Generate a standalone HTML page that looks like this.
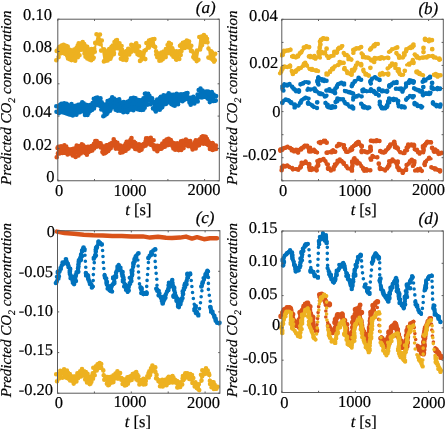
<!DOCTYPE html><html><head><meta charset="utf-8"><style>html,body{margin:0;padding:0;background:#fff;overflow:hidden}svg{display:block;will-change:transform}text{font-family:"Liberation Serif",serif;fill:#000;stroke:#000;stroke-width:0.2px;text-rendering:geometricPrecision}</style></head><body>
<svg width="445" height="429" viewBox="0 0 445 429">
<path d="M57.0,50.2 L58.6,48.6 L60.2,47.0 L61.8,45.4 L63.4,43.8 L65.0,44.4 L66.6,45.7 L68.2,47.5 L69.8,49.7 L71.4,51.4 L73.0,50.9 L74.6,50.4 L76.2,48.4 L77.8,45.5 L79.4,43.9 L81.0,43.6 L82.6,43.6 L84.2,44.2 L85.8,44.7 L87.4,46.8 L89.0,49.1 L90.6,51.4 L92.2,50.0 L93.8,48.5 L95.4,41.4 L97.0,34.1 L98.6,35.2 L100.2,36.3 L101.8,41.4 L103.4,49.0 L105.0,50.7 L106.6,52.1 L108.2,51.9 L109.8,49.2 L111.4,46.4 L113.0,44.4 L114.6,42.5 L116.2,40.7 L117.8,39.1 L119.4,42.3 L121.0,46.2 L122.6,49.6 L124.2,51.6 L125.8,51.6 L127.4,51.6 L129.0,49.0 L130.6,46.7 L132.2,45.9 L133.8,45.1 L135.4,44.7 L137.0,44.3 L138.6,46.9 L140.2,51.3 L141.8,51.9 L143.4,52.1 L145.0,49.9 L146.6,43.5 L148.2,41.1 L149.8,40.4 L151.4,40.0 L153.0,39.8 L154.6,40.1 L156.2,50.4 L157.8,52.8 L159.4,53.5 L161.0,53.3 L162.6,52.8 L164.2,51.8 L165.8,48.9 L167.4,46.0 L169.0,43.8 L170.6,42.7 L172.2,46.7 L173.8,50.8 L175.4,52.0 L177.0,51.5 L178.6,50.8 L180.2,48.1 L181.8,45.4 L183.4,43.5 L185.0,42.1 L186.6,40.8 L188.2,41.1 L189.8,41.4 L191.4,44.5 L193.0,50.5 L194.6,52.3 L196.2,53.1 L197.8,50.5 L199.4,37.5 L201.0,36.8 L202.6,36.1 L204.2,35.6 L205.8,36.5 L207.4,37.4 L209.0,50.5 L210.6,52.1 L212.2,53.6 L213.8,54.2 L215.4,53.9 L215.4,60.5 L213.8,60.5 L212.2,60.0 L210.6,59.0 L209.0,57.9 L207.4,42.3 L205.8,42.7 L204.2,43.0 L202.6,45.4 L201.0,47.9 L199.4,50.4 L197.8,59.5 L196.2,60.6 L194.6,59.1 L193.0,56.6 L191.4,50.2 L189.8,47.0 L188.2,47.0 L186.6,47.0 L185.0,48.1 L183.4,49.1 L181.8,51.3 L180.2,55.1 L178.6,58.9 L177.0,58.6 L175.4,58.1 L173.8,56.8 L172.2,54.1 L170.6,51.4 L169.0,51.9 L167.4,53.2 L165.8,55.3 L164.2,57.4 L162.6,58.9 L161.0,60.3 L159.4,60.3 L157.8,57.4 L156.2,53.9 L154.6,47.4 L153.0,46.3 L151.4,45.5 L149.8,45.5 L148.2,46.8 L146.6,49.9 L145.0,57.1 L143.4,59.6 L141.8,59.4 L140.2,58.9 L138.6,55.3 L137.0,52.7 L135.4,51.8 L133.8,51.3 L132.2,51.8 L130.6,52.3 L129.0,55.1 L127.4,58.5 L125.8,58.8 L124.2,59.0 L122.6,58.8 L121.0,58.1 L119.4,54.3 L117.8,48.0 L116.2,49.6 L114.6,53.0 L113.0,55.3 L111.4,57.2 L109.8,58.8 L108.2,60.5 L106.6,60.9 L105.0,60.7 L103.4,59.8 L101.8,49.8 L100.2,43.5 L98.6,43.5 L97.0,43.5 L95.4,50.5 L93.8,57.4 L92.2,59.3 L90.6,61.0 L89.0,59.6 L87.4,58.2 L85.8,56.6 L84.2,53.4 L82.6,50.1 L81.0,50.9 L79.4,54.1 L77.8,56.8 L76.2,59.0 L74.6,60.4 L73.0,60.4 L71.4,60.4 L69.8,59.2 L68.2,57.9 L66.6,56.3 L65.0,54.0 L63.4,52.4 L61.8,52.7 L60.2,53.5 L58.6,57.3 L57.0,61.1Z" fill="#EDB120"/><path d="M54.4,50.9a2.3,2.3 0 1,0 4.6,0a2.3,2.3 0 1,0 -4.6,0M54.0,60.2a2.3,2.3 0 1,0 4.6,0a2.3,2.3 0 1,0 -4.6,0M56.4,48.4a2.3,2.3 0 1,0 4.6,0a2.3,2.3 0 1,0 -4.6,0M56.3,57.1a2.3,2.3 0 1,0 4.6,0a2.3,2.3 0 1,0 -4.6,0M57.2,46.7a2.3,2.3 0 1,0 4.6,0a2.3,2.3 0 1,0 -4.6,0M57.2,53.4a2.3,2.3 0 1,0 4.6,0a2.3,2.3 0 1,0 -4.6,0M59.4,45.6a2.3,2.3 0 1,0 4.6,0a2.3,2.3 0 1,0 -4.6,0M59.1,53.1a2.3,2.3 0 1,0 4.6,0a2.3,2.3 0 1,0 -4.6,0M61.3,44.8a2.3,2.3 0 1,0 4.6,0a2.3,2.3 0 1,0 -4.6,0M60.9,52.7a2.3,2.3 0 1,0 4.6,0a2.3,2.3 0 1,0 -4.6,0M63.5,45.9a2.3,2.3 0 1,0 4.6,0a2.3,2.3 0 1,0 -4.6,0M62.4,53.6a2.3,2.3 0 1,0 4.6,0a2.3,2.3 0 1,0 -4.6,0M63.7,46.2a2.3,2.3 0 1,0 4.6,0a2.3,2.3 0 1,0 -4.6,0M64.8,55.8a2.3,2.3 0 1,0 4.6,0a2.3,2.3 0 1,0 -4.6,0M65.4,46.6a2.3,2.3 0 1,0 4.6,0a2.3,2.3 0 1,0 -4.6,0M65.7,58.5a2.3,2.3 0 1,0 4.6,0a2.3,2.3 0 1,0 -4.6,0M67.6,49.9a2.3,2.3 0 1,0 4.6,0a2.3,2.3 0 1,0 -4.6,0M67.0,59.1a2.3,2.3 0 1,0 4.6,0a2.3,2.3 0 1,0 -4.6,0M69.4,50.8a2.3,2.3 0 1,0 4.6,0a2.3,2.3 0 1,0 -4.6,0M69.2,60.1a2.3,2.3 0 1,0 4.6,0a2.3,2.3 0 1,0 -4.6,0M70.6,50.5a2.3,2.3 0 1,0 4.6,0a2.3,2.3 0 1,0 -4.6,0M71.0,59.0a2.3,2.3 0 1,0 4.6,0a2.3,2.3 0 1,0 -4.6,0M71.9,49.5a2.3,2.3 0 1,0 4.6,0a2.3,2.3 0 1,0 -4.6,0M72.9,60.8a2.3,2.3 0 1,0 4.6,0a2.3,2.3 0 1,0 -4.6,0M74.3,47.9a2.3,2.3 0 1,0 4.6,0a2.3,2.3 0 1,0 -4.6,0M73.3,56.8a2.3,2.3 0 1,0 4.6,0a2.3,2.3 0 1,0 -4.6,0M75.4,45.6a2.3,2.3 0 1,0 4.6,0a2.3,2.3 0 1,0 -4.6,0M75.5,57.3a2.3,2.3 0 1,0 4.6,0a2.3,2.3 0 1,0 -4.6,0M76.4,43.3a2.3,2.3 0 1,0 4.6,0a2.3,2.3 0 1,0 -4.6,0M77.2,55.3a2.3,2.3 0 1,0 4.6,0a2.3,2.3 0 1,0 -4.6,0M79.3,43.1a2.3,2.3 0 1,0 4.6,0a2.3,2.3 0 1,0 -4.6,0M78.9,49.8a2.3,2.3 0 1,0 4.6,0a2.3,2.3 0 1,0 -4.6,0M80.4,42.1a2.3,2.3 0 1,0 4.6,0a2.3,2.3 0 1,0 -4.6,0M81.0,49.7a2.3,2.3 0 1,0 4.6,0a2.3,2.3 0 1,0 -4.6,0M81.9,44.0a2.3,2.3 0 1,0 4.6,0a2.3,2.3 0 1,0 -4.6,0M82.2,53.6a2.3,2.3 0 1,0 4.6,0a2.3,2.3 0 1,0 -4.6,0M83.7,46.2a2.3,2.3 0 1,0 4.6,0a2.3,2.3 0 1,0 -4.6,0M83.2,56.7a2.3,2.3 0 1,0 4.6,0a2.3,2.3 0 1,0 -4.6,0M84.9,46.7a2.3,2.3 0 1,0 4.6,0a2.3,2.3 0 1,0 -4.6,0M85.0,58.4a2.3,2.3 0 1,0 4.6,0a2.3,2.3 0 1,0 -4.6,0M86.2,49.3a2.3,2.3 0 1,0 4.6,0a2.3,2.3 0 1,0 -4.6,0M87.1,59.4a2.3,2.3 0 1,0 4.6,0a2.3,2.3 0 1,0 -4.6,0M87.7,51.4a2.3,2.3 0 1,0 4.6,0a2.3,2.3 0 1,0 -4.6,0M88.9,60.2a2.3,2.3 0 1,0 4.6,0a2.3,2.3 0 1,0 -4.6,0M89.2,49.1a2.3,2.3 0 1,0 4.6,0a2.3,2.3 0 1,0 -4.6,0M90.5,59.0a2.3,2.3 0 1,0 4.6,0a2.3,2.3 0 1,0 -4.6,0M92.0,48.9a2.3,2.3 0 1,0 4.6,0a2.3,2.3 0 1,0 -4.6,0M91.4,57.8a2.3,2.3 0 1,0 4.6,0a2.3,2.3 0 1,0 -4.6,0M92.9,42.9a2.3,2.3 0 1,0 4.6,0a2.3,2.3 0 1,0 -4.6,0M92.5,51.8a2.3,2.3 0 1,0 4.6,0a2.3,2.3 0 1,0 -4.6,0M94.2,34.2a2.3,2.3 0 1,0 4.6,0a2.3,2.3 0 1,0 -4.6,0M94.7,42.9a2.3,2.3 0 1,0 4.6,0a2.3,2.3 0 1,0 -4.6,0M96.4,35.2a2.3,2.3 0 1,0 4.6,0a2.3,2.3 0 1,0 -4.6,0M96.2,43.4a2.3,2.3 0 1,0 4.6,0a2.3,2.3 0 1,0 -4.6,0M97.7,34.5a2.3,2.3 0 1,0 4.6,0a2.3,2.3 0 1,0 -4.6,0M98.2,44.3a2.3,2.3 0 1,0 4.6,0a2.3,2.3 0 1,0 -4.6,0M99.5,40.6a2.3,2.3 0 1,0 4.6,0a2.3,2.3 0 1,0 -4.6,0M98.8,50.6a2.3,2.3 0 1,0 4.6,0a2.3,2.3 0 1,0 -4.6,0M101.7,49.3a2.3,2.3 0 1,0 4.6,0a2.3,2.3 0 1,0 -4.6,0M101.6,61.4a2.3,2.3 0 1,0 4.6,0a2.3,2.3 0 1,0 -4.6,0M102.5,50.4a2.3,2.3 0 1,0 4.6,0a2.3,2.3 0 1,0 -4.6,0M102.9,60.4a2.3,2.3 0 1,0 4.6,0a2.3,2.3 0 1,0 -4.6,0M103.6,52.6a2.3,2.3 0 1,0 4.6,0a2.3,2.3 0 1,0 -4.6,0M103.8,60.7a2.3,2.3 0 1,0 4.6,0a2.3,2.3 0 1,0 -4.6,0M105.6,51.9a2.3,2.3 0 1,0 4.6,0a2.3,2.3 0 1,0 -4.6,0M105.3,60.5a2.3,2.3 0 1,0 4.6,0a2.3,2.3 0 1,0 -4.6,0M106.9,49.0a2.3,2.3 0 1,0 4.6,0a2.3,2.3 0 1,0 -4.6,0M108.1,58.7a2.3,2.3 0 1,0 4.6,0a2.3,2.3 0 1,0 -4.6,0M109.3,46.8a2.3,2.3 0 1,0 4.6,0a2.3,2.3 0 1,0 -4.6,0M108.9,56.7a2.3,2.3 0 1,0 4.6,0a2.3,2.3 0 1,0 -4.6,0M110.5,45.5a2.3,2.3 0 1,0 4.6,0a2.3,2.3 0 1,0 -4.6,0M111.5,54.2a2.3,2.3 0 1,0 4.6,0a2.3,2.3 0 1,0 -4.6,0M112.2,42.1a2.3,2.3 0 1,0 4.6,0a2.3,2.3 0 1,0 -4.6,0M111.7,53.0a2.3,2.3 0 1,0 4.6,0a2.3,2.3 0 1,0 -4.6,0M113.6,40.6a2.3,2.3 0 1,0 4.6,0a2.3,2.3 0 1,0 -4.6,0M113.4,48.1a2.3,2.3 0 1,0 4.6,0a2.3,2.3 0 1,0 -4.6,0M114.7,40.0a2.3,2.3 0 1,0 4.6,0a2.3,2.3 0 1,0 -4.6,0M114.9,48.3a2.3,2.3 0 1,0 4.6,0a2.3,2.3 0 1,0 -4.6,0M117.2,43.3a2.3,2.3 0 1,0 4.6,0a2.3,2.3 0 1,0 -4.6,0M117.9,54.1a2.3,2.3 0 1,0 4.6,0a2.3,2.3 0 1,0 -4.6,0M119.3,46.0a2.3,2.3 0 1,0 4.6,0a2.3,2.3 0 1,0 -4.6,0M118.5,58.7a2.3,2.3 0 1,0 4.6,0a2.3,2.3 0 1,0 -4.6,0M119.8,49.8a2.3,2.3 0 1,0 4.6,0a2.3,2.3 0 1,0 -4.6,0M120.7,59.7a2.3,2.3 0 1,0 4.6,0a2.3,2.3 0 1,0 -4.6,0M121.6,51.8a2.3,2.3 0 1,0 4.6,0a2.3,2.3 0 1,0 -4.6,0M122.7,57.6a2.3,2.3 0 1,0 4.6,0a2.3,2.3 0 1,0 -4.6,0M124.1,52.1a2.3,2.3 0 1,0 4.6,0a2.3,2.3 0 1,0 -4.6,0M123.9,60.1a2.3,2.3 0 1,0 4.6,0a2.3,2.3 0 1,0 -4.6,0M124.7,50.9a2.3,2.3 0 1,0 4.6,0a2.3,2.3 0 1,0 -4.6,0M124.3,58.6a2.3,2.3 0 1,0 4.6,0a2.3,2.3 0 1,0 -4.6,0M125.9,48.9a2.3,2.3 0 1,0 4.6,0a2.3,2.3 0 1,0 -4.6,0M127.0,54.5a2.3,2.3 0 1,0 4.6,0a2.3,2.3 0 1,0 -4.6,0M129.0,44.9a2.3,2.3 0 1,0 4.6,0a2.3,2.3 0 1,0 -4.6,0M129.1,51.7a2.3,2.3 0 1,0 4.6,0a2.3,2.3 0 1,0 -4.6,0M130.6,45.6a2.3,2.3 0 1,0 4.6,0a2.3,2.3 0 1,0 -4.6,0M129.5,51.3a2.3,2.3 0 1,0 4.6,0a2.3,2.3 0 1,0 -4.6,0M131.0,45.5a2.3,2.3 0 1,0 4.6,0a2.3,2.3 0 1,0 -4.6,0M132.1,50.2a2.3,2.3 0 1,0 4.6,0a2.3,2.3 0 1,0 -4.6,0M133.6,43.5a2.3,2.3 0 1,0 4.6,0a2.3,2.3 0 1,0 -4.6,0M133.6,51.6a2.3,2.3 0 1,0 4.6,0a2.3,2.3 0 1,0 -4.6,0M134.0,43.4a2.3,2.3 0 1,0 4.6,0a2.3,2.3 0 1,0 -4.6,0M135.2,54.2a2.3,2.3 0 1,0 4.6,0a2.3,2.3 0 1,0 -4.6,0M136.7,46.4a2.3,2.3 0 1,0 4.6,0a2.3,2.3 0 1,0 -4.6,0M136.8,55.3a2.3,2.3 0 1,0 4.6,0a2.3,2.3 0 1,0 -4.6,0M137.6,52.0a2.3,2.3 0 1,0 4.6,0a2.3,2.3 0 1,0 -4.6,0M137.7,60.9a2.3,2.3 0 1,0 4.6,0a2.3,2.3 0 1,0 -4.6,0M139.3,53.1a2.3,2.3 0 1,0 4.6,0a2.3,2.3 0 1,0 -4.6,0M139.0,59.8a2.3,2.3 0 1,0 4.6,0a2.3,2.3 0 1,0 -4.6,0M140.5,53.1a2.3,2.3 0 1,0 4.6,0a2.3,2.3 0 1,0 -4.6,0M141.6,58.2a2.3,2.3 0 1,0 4.6,0a2.3,2.3 0 1,0 -4.6,0M142.1,50.9a2.3,2.3 0 1,0 4.6,0a2.3,2.3 0 1,0 -4.6,0M143.0,59.1a2.3,2.3 0 1,0 4.6,0a2.3,2.3 0 1,0 -4.6,0M144.1,43.1a2.3,2.3 0 1,0 4.6,0a2.3,2.3 0 1,0 -4.6,0M143.5,50.1a2.3,2.3 0 1,0 4.6,0a2.3,2.3 0 1,0 -4.6,0M146.7,40.5a2.3,2.3 0 1,0 4.6,0a2.3,2.3 0 1,0 -4.6,0M146.6,47.6a2.3,2.3 0 1,0 4.6,0a2.3,2.3 0 1,0 -4.6,0M147.4,41.5a2.3,2.3 0 1,0 4.6,0a2.3,2.3 0 1,0 -4.6,0M147.0,46.6a2.3,2.3 0 1,0 4.6,0a2.3,2.3 0 1,0 -4.6,0M148.7,39.9a2.3,2.3 0 1,0 4.6,0a2.3,2.3 0 1,0 -4.6,0M149.2,44.9a2.3,2.3 0 1,0 4.6,0a2.3,2.3 0 1,0 -4.6,0M150.3,39.4a2.3,2.3 0 1,0 4.6,0a2.3,2.3 0 1,0 -4.6,0M151.4,46.1a2.3,2.3 0 1,0 4.6,0a2.3,2.3 0 1,0 -4.6,0M152.1,39.1a2.3,2.3 0 1,0 4.6,0a2.3,2.3 0 1,0 -4.6,0M152.9,47.1a2.3,2.3 0 1,0 4.6,0a2.3,2.3 0 1,0 -4.6,0M153.8,51.2a2.3,2.3 0 1,0 4.6,0a2.3,2.3 0 1,0 -4.6,0M154.0,54.4a2.3,2.3 0 1,0 4.6,0a2.3,2.3 0 1,0 -4.6,0M155.5,53.7a2.3,2.3 0 1,0 4.6,0a2.3,2.3 0 1,0 -4.6,0M155.0,57.3a2.3,2.3 0 1,0 4.6,0a2.3,2.3 0 1,0 -4.6,0M156.3,53.6a2.3,2.3 0 1,0 4.6,0a2.3,2.3 0 1,0 -4.6,0M157.1,60.8a2.3,2.3 0 1,0 4.6,0a2.3,2.3 0 1,0 -4.6,0M159.1,52.6a2.3,2.3 0 1,0 4.6,0a2.3,2.3 0 1,0 -4.6,0M158.7,60.5a2.3,2.3 0 1,0 4.6,0a2.3,2.3 0 1,0 -4.6,0M160.4,52.8a2.3,2.3 0 1,0 4.6,0a2.3,2.3 0 1,0 -4.6,0M160.4,59.3a2.3,2.3 0 1,0 4.6,0a2.3,2.3 0 1,0 -4.6,0M161.5,51.5a2.3,2.3 0 1,0 4.6,0a2.3,2.3 0 1,0 -4.6,0M161.9,56.0a2.3,2.3 0 1,0 4.6,0a2.3,2.3 0 1,0 -4.6,0M163.6,49.0a2.3,2.3 0 1,0 4.6,0a2.3,2.3 0 1,0 -4.6,0M163.4,57.1a2.3,2.3 0 1,0 4.6,0a2.3,2.3 0 1,0 -4.6,0M165.3,45.0a2.3,2.3 0 1,0 4.6,0a2.3,2.3 0 1,0 -4.6,0M165.4,53.2a2.3,2.3 0 1,0 4.6,0a2.3,2.3 0 1,0 -4.6,0M166.6,42.9a2.3,2.3 0 1,0 4.6,0a2.3,2.3 0 1,0 -4.6,0M167.4,52.0a2.3,2.3 0 1,0 4.6,0a2.3,2.3 0 1,0 -4.6,0M168.6,44.1a2.3,2.3 0 1,0 4.6,0a2.3,2.3 0 1,0 -4.6,0M167.9,52.8a2.3,2.3 0 1,0 4.6,0a2.3,2.3 0 1,0 -4.6,0M170.0,48.2a2.3,2.3 0 1,0 4.6,0a2.3,2.3 0 1,0 -4.6,0M169.3,54.6a2.3,2.3 0 1,0 4.6,0a2.3,2.3 0 1,0 -4.6,0M170.9,50.5a2.3,2.3 0 1,0 4.6,0a2.3,2.3 0 1,0 -4.6,0M171.1,56.7a2.3,2.3 0 1,0 4.6,0a2.3,2.3 0 1,0 -4.6,0M172.4,51.3a2.3,2.3 0 1,0 4.6,0a2.3,2.3 0 1,0 -4.6,0M173.7,59.3a2.3,2.3 0 1,0 4.6,0a2.3,2.3 0 1,0 -4.6,0M174.1,51.2a2.3,2.3 0 1,0 4.6,0a2.3,2.3 0 1,0 -4.6,0M174.1,59.8a2.3,2.3 0 1,0 4.6,0a2.3,2.3 0 1,0 -4.6,0M176.9,51.4a2.3,2.3 0 1,0 4.6,0a2.3,2.3 0 1,0 -4.6,0M177.0,59.0a2.3,2.3 0 1,0 4.6,0a2.3,2.3 0 1,0 -4.6,0M177.7,45.7a2.3,2.3 0 1,0 4.6,0a2.3,2.3 0 1,0 -4.6,0M178.4,54.9a2.3,2.3 0 1,0 4.6,0a2.3,2.3 0 1,0 -4.6,0M179.0,44.5a2.3,2.3 0 1,0 4.6,0a2.3,2.3 0 1,0 -4.6,0M179.2,50.9a2.3,2.3 0 1,0 4.6,0a2.3,2.3 0 1,0 -4.6,0M180.6,42.9a2.3,2.3 0 1,0 4.6,0a2.3,2.3 0 1,0 -4.6,0M180.3,47.9a2.3,2.3 0 1,0 4.6,0a2.3,2.3 0 1,0 -4.6,0M182.8,42.0a2.3,2.3 0 1,0 4.6,0a2.3,2.3 0 1,0 -4.6,0M182.4,48.0a2.3,2.3 0 1,0 4.6,0a2.3,2.3 0 1,0 -4.6,0M184.5,40.5a2.3,2.3 0 1,0 4.6,0a2.3,2.3 0 1,0 -4.6,0M185.1,47.0a2.3,2.3 0 1,0 4.6,0a2.3,2.3 0 1,0 -4.6,0M186.4,41.5a2.3,2.3 0 1,0 4.6,0a2.3,2.3 0 1,0 -4.6,0M185.5,47.1a2.3,2.3 0 1,0 4.6,0a2.3,2.3 0 1,0 -4.6,0M186.8,41.5a2.3,2.3 0 1,0 4.6,0a2.3,2.3 0 1,0 -4.6,0M186.9,47.6a2.3,2.3 0 1,0 4.6,0a2.3,2.3 0 1,0 -4.6,0M189.0,45.7a2.3,2.3 0 1,0 4.6,0a2.3,2.3 0 1,0 -4.6,0M188.7,51.0a2.3,2.3 0 1,0 4.6,0a2.3,2.3 0 1,0 -4.6,0M190.1,51.4a2.3,2.3 0 1,0 4.6,0a2.3,2.3 0 1,0 -4.6,0M191.0,57.1a2.3,2.3 0 1,0 4.6,0a2.3,2.3 0 1,0 -4.6,0M191.6,53.4a2.3,2.3 0 1,0 4.6,0a2.3,2.3 0 1,0 -4.6,0M192.2,58.6a2.3,2.3 0 1,0 4.6,0a2.3,2.3 0 1,0 -4.6,0M193.2,54.1a2.3,2.3 0 1,0 4.6,0a2.3,2.3 0 1,0 -4.6,0M194.4,61.1a2.3,2.3 0 1,0 4.6,0a2.3,2.3 0 1,0 -4.6,0M194.8,50.6a2.3,2.3 0 1,0 4.6,0a2.3,2.3 0 1,0 -4.6,0M196.1,59.8a2.3,2.3 0 1,0 4.6,0a2.3,2.3 0 1,0 -4.6,0M197.0,37.0a2.3,2.3 0 1,0 4.6,0a2.3,2.3 0 1,0 -4.6,0M197.8,49.5a2.3,2.3 0 1,0 4.6,0a2.3,2.3 0 1,0 -4.6,0M198.3,37.5a2.3,2.3 0 1,0 4.6,0a2.3,2.3 0 1,0 -4.6,0M198.3,47.2a2.3,2.3 0 1,0 4.6,0a2.3,2.3 0 1,0 -4.6,0M199.7,36.3a2.3,2.3 0 1,0 4.6,0a2.3,2.3 0 1,0 -4.6,0M199.8,45.1a2.3,2.3 0 1,0 4.6,0a2.3,2.3 0 1,0 -4.6,0M201.6,35.1a2.3,2.3 0 1,0 4.6,0a2.3,2.3 0 1,0 -4.6,0M201.6,41.7a2.3,2.3 0 1,0 4.6,0a2.3,2.3 0 1,0 -4.6,0M203.5,36.8a2.3,2.3 0 1,0 4.6,0a2.3,2.3 0 1,0 -4.6,0M202.7,42.0a2.3,2.3 0 1,0 4.6,0a2.3,2.3 0 1,0 -4.6,0M204.7,38.7a2.3,2.3 0 1,0 4.6,0a2.3,2.3 0 1,0 -4.6,0M205.2,42.2a2.3,2.3 0 1,0 4.6,0a2.3,2.3 0 1,0 -4.6,0M206.2,48.6a2.3,2.3 0 1,0 4.6,0a2.3,2.3 0 1,0 -4.6,0M206.1,57.6a2.3,2.3 0 1,0 4.6,0a2.3,2.3 0 1,0 -4.6,0M208.8,51.2a2.3,2.3 0 1,0 4.6,0a2.3,2.3 0 1,0 -4.6,0M208.8,58.6a2.3,2.3 0 1,0 4.6,0a2.3,2.3 0 1,0 -4.6,0M209.7,52.4a2.3,2.3 0 1,0 4.6,0a2.3,2.3 0 1,0 -4.6,0M210.7,60.1a2.3,2.3 0 1,0 4.6,0a2.3,2.3 0 1,0 -4.6,0M211.2,54.8a2.3,2.3 0 1,0 4.6,0a2.3,2.3 0 1,0 -4.6,0M211.7,61.6a2.3,2.3 0 1,0 4.6,0a2.3,2.3 0 1,0 -4.6,0M212.9,53.8a2.3,2.3 0 1,0 4.6,0a2.3,2.3 0 1,0 -4.6,0M212.5,60.3a2.3,2.3 0 1,0 4.6,0a2.3,2.3 0 1,0 -4.6,0" fill="#EDB120"/>
<path d="M57.0,106.2 L58.6,105.6 L60.2,105.0 L61.8,104.4 L63.4,103.8 L65.0,103.7 L66.6,104.3 L68.2,104.8 L69.8,105.1 L71.4,105.3 L73.0,105.5 L74.6,105.4 L76.2,105.0 L77.8,104.6 L79.4,104.1 L81.0,103.1 L82.6,102.0 L84.2,102.9 L85.8,105.3 L87.4,105.8 L89.0,106.0 L90.6,105.1 L92.2,102.2 L93.8,99.3 L95.4,97.6 L97.0,98.0 L98.6,98.3 L100.2,98.7 L101.8,101.1 L103.4,104.7 L105.0,104.4 L106.6,103.8 L108.2,102.9 L109.8,101.3 L111.4,99.8 L113.0,98.2 L114.6,99.0 L116.2,99.8 L117.8,100.6 L119.4,101.7 L121.0,102.8 L122.6,103.2 L124.2,102.2 L125.8,101.2 L127.4,100.3 L129.0,99.5 L130.6,98.7 L132.2,97.9 L133.8,97.9 L135.4,98.7 L137.0,99.5 L138.6,99.7 L140.2,100.0 L141.8,100.0 L143.4,97.3 L145.0,94.5 L146.6,93.8 L148.2,94.8 L149.8,95.7 L151.4,97.4 L153.0,99.5 L154.6,101.4 L156.2,100.2 L157.8,99.1 L159.4,97.9 L161.0,97.0 L162.6,96.2 L164.2,95.4 L165.8,94.9 L167.4,95.1 L169.0,95.3 L170.6,95.5 L172.2,95.3 L173.8,95.1 L175.4,94.9 L177.0,94.8 L178.6,94.8 L180.2,94.8 L181.8,94.6 L183.4,94.0 L185.0,93.4 L186.6,92.8 L188.2,94.4 L189.8,96.0 L191.4,97.5 L193.0,97.5 L194.6,97.5 L196.2,97.1 L197.8,93.9 L199.4,90.8 L201.0,89.6 L202.6,90.0 L204.2,90.4 L205.8,91.0 L207.4,92.0 L209.0,93.1 L210.6,93.7 L212.2,94.1 L213.8,94.5 L215.4,95.5 L215.4,102.0 L213.8,101.9 L212.2,101.3 L210.6,100.7 L209.0,99.8 L207.4,98.2 L205.8,96.6 L204.2,96.2 L202.6,96.2 L201.0,96.2 L199.4,97.4 L197.8,100.0 L196.2,102.7 L194.6,103.4 L193.0,103.8 L191.4,104.3 L189.8,102.6 L188.2,100.7 L186.6,98.9 L185.0,99.5 L183.4,100.1 L181.8,100.7 L180.2,101.8 L178.6,103.2 L177.0,104.6 L175.4,105.4 L173.8,104.4 L172.2,103.4 L170.6,102.4 L169.0,103.0 L167.4,103.7 L165.8,104.5 L164.2,105.5 L162.6,106.6 L161.0,107.6 L159.4,108.6 L157.8,109.2 L156.2,109.8 L154.6,110.4 L153.0,106.7 L151.4,102.8 L149.8,101.2 L148.2,103.4 L146.6,105.7 L145.0,107.6 L143.4,109.0 L141.8,110.3 L140.2,110.2 L138.6,109.9 L137.0,109.7 L135.4,108.9 L133.8,108.1 L132.2,108.1 L130.6,109.1 L129.0,110.2 L127.4,111.1 L125.8,111.3 L124.2,111.5 L122.6,111.6 L121.0,111.0 L119.4,109.9 L117.8,108.9 L116.2,108.3 L114.6,107.6 L113.0,107.0 L111.4,108.8 L109.8,110.6 L108.2,112.4 L106.6,113.9 L105.0,115.3 L103.4,116.1 L101.8,110.5 L100.2,106.9 L98.6,106.5 L97.0,106.2 L95.4,105.8 L93.8,107.2 L92.2,109.7 L90.6,112.2 L89.0,113.4 L87.4,113.9 L85.8,114.1 L84.2,111.3 L82.6,109.9 L81.0,110.5 L79.4,111.1 L77.8,112.2 L76.2,113.4 L74.6,114.6 L73.0,115.0 L71.4,114.8 L69.8,114.6 L68.2,114.3 L66.6,113.5 L65.0,112.7 L63.4,112.4 L61.8,112.4 L60.2,112.3 L58.6,111.7 L57.0,111.1Z" fill="#0072BD"/><path d="M54.0,106.2a2.3,2.3 0 1,0 4.6,0a2.3,2.3 0 1,0 -4.6,0M54.2,111.7a2.3,2.3 0 1,0 4.6,0a2.3,2.3 0 1,0 -4.6,0M55.6,106.5a2.3,2.3 0 1,0 4.6,0a2.3,2.3 0 1,0 -4.6,0M56.6,113.1a2.3,2.3 0 1,0 4.6,0a2.3,2.3 0 1,0 -4.6,0M57.6,105.0a2.3,2.3 0 1,0 4.6,0a2.3,2.3 0 1,0 -4.6,0M57.8,111.7a2.3,2.3 0 1,0 4.6,0a2.3,2.3 0 1,0 -4.6,0M59.0,103.8a2.3,2.3 0 1,0 4.6,0a2.3,2.3 0 1,0 -4.6,0M60.2,112.2a2.3,2.3 0 1,0 4.6,0a2.3,2.3 0 1,0 -4.6,0M61.9,103.3a2.3,2.3 0 1,0 4.6,0a2.3,2.3 0 1,0 -4.6,0M61.8,112.6a2.3,2.3 0 1,0 4.6,0a2.3,2.3 0 1,0 -4.6,0M62.4,103.7a2.3,2.3 0 1,0 4.6,0a2.3,2.3 0 1,0 -4.6,0M62.5,112.7a2.3,2.3 0 1,0 4.6,0a2.3,2.3 0 1,0 -4.6,0M64.3,103.7a2.3,2.3 0 1,0 4.6,0a2.3,2.3 0 1,0 -4.6,0M64.3,113.5a2.3,2.3 0 1,0 4.6,0a2.3,2.3 0 1,0 -4.6,0M65.1,104.8a2.3,2.3 0 1,0 4.6,0a2.3,2.3 0 1,0 -4.6,0M65.7,113.9a2.3,2.3 0 1,0 4.6,0a2.3,2.3 0 1,0 -4.6,0M66.8,105.7a2.3,2.3 0 1,0 4.6,0a2.3,2.3 0 1,0 -4.6,0M67.1,114.5a2.3,2.3 0 1,0 4.6,0a2.3,2.3 0 1,0 -4.6,0M69.2,104.0a2.3,2.3 0 1,0 4.6,0a2.3,2.3 0 1,0 -4.6,0M69.4,115.0a2.3,2.3 0 1,0 4.6,0a2.3,2.3 0 1,0 -4.6,0M71.0,106.1a2.3,2.3 0 1,0 4.6,0a2.3,2.3 0 1,0 -4.6,0M70.4,115.5a2.3,2.3 0 1,0 4.6,0a2.3,2.3 0 1,0 -4.6,0M73.1,106.2a2.3,2.3 0 1,0 4.6,0a2.3,2.3 0 1,0 -4.6,0M72.5,113.5a2.3,2.3 0 1,0 4.6,0a2.3,2.3 0 1,0 -4.6,0M73.2,105.9a2.3,2.3 0 1,0 4.6,0a2.3,2.3 0 1,0 -4.6,0M74.1,114.8a2.3,2.3 0 1,0 4.6,0a2.3,2.3 0 1,0 -4.6,0M75.9,104.8a2.3,2.3 0 1,0 4.6,0a2.3,2.3 0 1,0 -4.6,0M75.5,112.6a2.3,2.3 0 1,0 4.6,0a2.3,2.3 0 1,0 -4.6,0M77.1,104.9a2.3,2.3 0 1,0 4.6,0a2.3,2.3 0 1,0 -4.6,0M77.6,112.3a2.3,2.3 0 1,0 4.6,0a2.3,2.3 0 1,0 -4.6,0M78.8,104.0a2.3,2.3 0 1,0 4.6,0a2.3,2.3 0 1,0 -4.6,0M79.0,111.3a2.3,2.3 0 1,0 4.6,0a2.3,2.3 0 1,0 -4.6,0M79.9,102.4a2.3,2.3 0 1,0 4.6,0a2.3,2.3 0 1,0 -4.6,0M80.1,109.9a2.3,2.3 0 1,0 4.6,0a2.3,2.3 0 1,0 -4.6,0M81.3,103.4a2.3,2.3 0 1,0 4.6,0a2.3,2.3 0 1,0 -4.6,0M82.1,112.1a2.3,2.3 0 1,0 4.6,0a2.3,2.3 0 1,0 -4.6,0M83.7,104.9a2.3,2.3 0 1,0 4.6,0a2.3,2.3 0 1,0 -4.6,0M82.7,114.9a2.3,2.3 0 1,0 4.6,0a2.3,2.3 0 1,0 -4.6,0M85.6,105.8a2.3,2.3 0 1,0 4.6,0a2.3,2.3 0 1,0 -4.6,0M85.2,114.9a2.3,2.3 0 1,0 4.6,0a2.3,2.3 0 1,0 -4.6,0M87.0,107.2a2.3,2.3 0 1,0 4.6,0a2.3,2.3 0 1,0 -4.6,0M86.3,112.9a2.3,2.3 0 1,0 4.6,0a2.3,2.3 0 1,0 -4.6,0M87.6,105.0a2.3,2.3 0 1,0 4.6,0a2.3,2.3 0 1,0 -4.6,0M87.8,110.9a2.3,2.3 0 1,0 4.6,0a2.3,2.3 0 1,0 -4.6,0M90.3,103.1a2.3,2.3 0 1,0 4.6,0a2.3,2.3 0 1,0 -4.6,0M89.7,109.9a2.3,2.3 0 1,0 4.6,0a2.3,2.3 0 1,0 -4.6,0M91.5,98.8a2.3,2.3 0 1,0 4.6,0a2.3,2.3 0 1,0 -4.6,0M91.7,108.5a2.3,2.3 0 1,0 4.6,0a2.3,2.3 0 1,0 -4.6,0M93.3,98.0a2.3,2.3 0 1,0 4.6,0a2.3,2.3 0 1,0 -4.6,0M92.7,105.6a2.3,2.3 0 1,0 4.6,0a2.3,2.3 0 1,0 -4.6,0M95.1,97.6a2.3,2.3 0 1,0 4.6,0a2.3,2.3 0 1,0 -4.6,0M93.9,105.2a2.3,2.3 0 1,0 4.6,0a2.3,2.3 0 1,0 -4.6,0M95.6,98.2a2.3,2.3 0 1,0 4.6,0a2.3,2.3 0 1,0 -4.6,0M96.6,105.3a2.3,2.3 0 1,0 4.6,0a2.3,2.3 0 1,0 -4.6,0M98.2,98.4a2.3,2.3 0 1,0 4.6,0a2.3,2.3 0 1,0 -4.6,0M97.8,105.9a2.3,2.3 0 1,0 4.6,0a2.3,2.3 0 1,0 -4.6,0M99.4,102.3a2.3,2.3 0 1,0 4.6,0a2.3,2.3 0 1,0 -4.6,0M99.0,109.4a2.3,2.3 0 1,0 4.6,0a2.3,2.3 0 1,0 -4.6,0M101.9,104.8a2.3,2.3 0 1,0 4.6,0a2.3,2.3 0 1,0 -4.6,0M101.0,116.2a2.3,2.3 0 1,0 4.6,0a2.3,2.3 0 1,0 -4.6,0M103.2,105.2a2.3,2.3 0 1,0 4.6,0a2.3,2.3 0 1,0 -4.6,0M102.3,115.4a2.3,2.3 0 1,0 4.6,0a2.3,2.3 0 1,0 -4.6,0M103.8,104.4a2.3,2.3 0 1,0 4.6,0a2.3,2.3 0 1,0 -4.6,0M104.4,114.1a2.3,2.3 0 1,0 4.6,0a2.3,2.3 0 1,0 -4.6,0M105.3,101.0a2.3,2.3 0 1,0 4.6,0a2.3,2.3 0 1,0 -4.6,0M105.3,112.7a2.3,2.3 0 1,0 4.6,0a2.3,2.3 0 1,0 -4.6,0M108.0,99.7a2.3,2.3 0 1,0 4.6,0a2.3,2.3 0 1,0 -4.6,0M107.8,110.7a2.3,2.3 0 1,0 4.6,0a2.3,2.3 0 1,0 -4.6,0M108.7,100.5a2.3,2.3 0 1,0 4.6,0a2.3,2.3 0 1,0 -4.6,0M108.3,109.4a2.3,2.3 0 1,0 4.6,0a2.3,2.3 0 1,0 -4.6,0M109.9,97.3a2.3,2.3 0 1,0 4.6,0a2.3,2.3 0 1,0 -4.6,0M110.4,107.0a2.3,2.3 0 1,0 4.6,0a2.3,2.3 0 1,0 -4.6,0M111.7,98.6a2.3,2.3 0 1,0 4.6,0a2.3,2.3 0 1,0 -4.6,0M112.8,107.0a2.3,2.3 0 1,0 4.6,0a2.3,2.3 0 1,0 -4.6,0M113.1,99.8a2.3,2.3 0 1,0 4.6,0a2.3,2.3 0 1,0 -4.6,0M113.3,109.8a2.3,2.3 0 1,0 4.6,0a2.3,2.3 0 1,0 -4.6,0M116.2,100.3a2.3,2.3 0 1,0 4.6,0a2.3,2.3 0 1,0 -4.6,0M115.2,110.6a2.3,2.3 0 1,0 4.6,0a2.3,2.3 0 1,0 -4.6,0M116.9,99.4a2.3,2.3 0 1,0 4.6,0a2.3,2.3 0 1,0 -4.6,0M117.2,108.0a2.3,2.3 0 1,0 4.6,0a2.3,2.3 0 1,0 -4.6,0M118.5,102.2a2.3,2.3 0 1,0 4.6,0a2.3,2.3 0 1,0 -4.6,0M118.0,110.7a2.3,2.3 0 1,0 4.6,0a2.3,2.3 0 1,0 -4.6,0M119.7,103.5a2.3,2.3 0 1,0 4.6,0a2.3,2.3 0 1,0 -4.6,0M121.0,112.2a2.3,2.3 0 1,0 4.6,0a2.3,2.3 0 1,0 -4.6,0M121.5,102.1a2.3,2.3 0 1,0 4.6,0a2.3,2.3 0 1,0 -4.6,0M121.4,110.5a2.3,2.3 0 1,0 4.6,0a2.3,2.3 0 1,0 -4.6,0M123.3,102.8a2.3,2.3 0 1,0 4.6,0a2.3,2.3 0 1,0 -4.6,0M124.0,111.7a2.3,2.3 0 1,0 4.6,0a2.3,2.3 0 1,0 -4.6,0M125.3,101.9a2.3,2.3 0 1,0 4.6,0a2.3,2.3 0 1,0 -4.6,0M125.2,112.1a2.3,2.3 0 1,0 4.6,0a2.3,2.3 0 1,0 -4.6,0M127.1,100.7a2.3,2.3 0 1,0 4.6,0a2.3,2.3 0 1,0 -4.6,0M126.6,109.8a2.3,2.3 0 1,0 4.6,0a2.3,2.3 0 1,0 -4.6,0M128.7,98.2a2.3,2.3 0 1,0 4.6,0a2.3,2.3 0 1,0 -4.6,0M127.6,109.7a2.3,2.3 0 1,0 4.6,0a2.3,2.3 0 1,0 -4.6,0M130.6,98.5a2.3,2.3 0 1,0 4.6,0a2.3,2.3 0 1,0 -4.6,0M129.6,107.5a2.3,2.3 0 1,0 4.6,0a2.3,2.3 0 1,0 -4.6,0M131.2,97.8a2.3,2.3 0 1,0 4.6,0a2.3,2.3 0 1,0 -4.6,0M131.1,110.3a2.3,2.3 0 1,0 4.6,0a2.3,2.3 0 1,0 -4.6,0M133.3,98.4a2.3,2.3 0 1,0 4.6,0a2.3,2.3 0 1,0 -4.6,0M132.9,107.9a2.3,2.3 0 1,0 4.6,0a2.3,2.3 0 1,0 -4.6,0M134.2,99.8a2.3,2.3 0 1,0 4.6,0a2.3,2.3 0 1,0 -4.6,0M135.3,109.2a2.3,2.3 0 1,0 4.6,0a2.3,2.3 0 1,0 -4.6,0M136.3,100.1a2.3,2.3 0 1,0 4.6,0a2.3,2.3 0 1,0 -4.6,0M137.1,108.2a2.3,2.3 0 1,0 4.6,0a2.3,2.3 0 1,0 -4.6,0M137.8,100.3a2.3,2.3 0 1,0 4.6,0a2.3,2.3 0 1,0 -4.6,0M137.2,109.8a2.3,2.3 0 1,0 4.6,0a2.3,2.3 0 1,0 -4.6,0M139.2,100.5a2.3,2.3 0 1,0 4.6,0a2.3,2.3 0 1,0 -4.6,0M139.1,110.0a2.3,2.3 0 1,0 4.6,0a2.3,2.3 0 1,0 -4.6,0M141.2,98.3a2.3,2.3 0 1,0 4.6,0a2.3,2.3 0 1,0 -4.6,0M141.0,109.8a2.3,2.3 0 1,0 4.6,0a2.3,2.3 0 1,0 -4.6,0M142.6,93.7a2.3,2.3 0 1,0 4.6,0a2.3,2.3 0 1,0 -4.6,0M142.4,107.7a2.3,2.3 0 1,0 4.6,0a2.3,2.3 0 1,0 -4.6,0M143.6,93.5a2.3,2.3 0 1,0 4.6,0a2.3,2.3 0 1,0 -4.6,0M143.7,103.7a2.3,2.3 0 1,0 4.6,0a2.3,2.3 0 1,0 -4.6,0M145.9,93.7a2.3,2.3 0 1,0 4.6,0a2.3,2.3 0 1,0 -4.6,0M145.4,104.6a2.3,2.3 0 1,0 4.6,0a2.3,2.3 0 1,0 -4.6,0M147.1,95.8a2.3,2.3 0 1,0 4.6,0a2.3,2.3 0 1,0 -4.6,0M147.4,100.3a2.3,2.3 0 1,0 4.6,0a2.3,2.3 0 1,0 -4.6,0M149.8,98.4a2.3,2.3 0 1,0 4.6,0a2.3,2.3 0 1,0 -4.6,0M148.3,104.1a2.3,2.3 0 1,0 4.6,0a2.3,2.3 0 1,0 -4.6,0M150.0,99.1a2.3,2.3 0 1,0 4.6,0a2.3,2.3 0 1,0 -4.6,0M150.7,108.4a2.3,2.3 0 1,0 4.6,0a2.3,2.3 0 1,0 -4.6,0M152.4,102.2a2.3,2.3 0 1,0 4.6,0a2.3,2.3 0 1,0 -4.6,0M153.0,110.4a2.3,2.3 0 1,0 4.6,0a2.3,2.3 0 1,0 -4.6,0M154.4,101.6a2.3,2.3 0 1,0 4.6,0a2.3,2.3 0 1,0 -4.6,0M153.5,111.5a2.3,2.3 0 1,0 4.6,0a2.3,2.3 0 1,0 -4.6,0M154.9,99.6a2.3,2.3 0 1,0 4.6,0a2.3,2.3 0 1,0 -4.6,0M155.8,108.4a2.3,2.3 0 1,0 4.6,0a2.3,2.3 0 1,0 -4.6,0M157.8,97.7a2.3,2.3 0 1,0 4.6,0a2.3,2.3 0 1,0 -4.6,0M157.5,109.7a2.3,2.3 0 1,0 4.6,0a2.3,2.3 0 1,0 -4.6,0M158.6,96.7a2.3,2.3 0 1,0 4.6,0a2.3,2.3 0 1,0 -4.6,0M159.2,107.7a2.3,2.3 0 1,0 4.6,0a2.3,2.3 0 1,0 -4.6,0M159.9,97.2a2.3,2.3 0 1,0 4.6,0a2.3,2.3 0 1,0 -4.6,0M160.0,107.1a2.3,2.3 0 1,0 4.6,0a2.3,2.3 0 1,0 -4.6,0M161.3,95.3a2.3,2.3 0 1,0 4.6,0a2.3,2.3 0 1,0 -4.6,0M162.2,104.3a2.3,2.3 0 1,0 4.6,0a2.3,2.3 0 1,0 -4.6,0M162.9,95.8a2.3,2.3 0 1,0 4.6,0a2.3,2.3 0 1,0 -4.6,0M163.6,104.0a2.3,2.3 0 1,0 4.6,0a2.3,2.3 0 1,0 -4.6,0M164.9,95.3a2.3,2.3 0 1,0 4.6,0a2.3,2.3 0 1,0 -4.6,0M164.3,102.6a2.3,2.3 0 1,0 4.6,0a2.3,2.3 0 1,0 -4.6,0M166.4,93.3a2.3,2.3 0 1,0 4.6,0a2.3,2.3 0 1,0 -4.6,0M166.9,102.5a2.3,2.3 0 1,0 4.6,0a2.3,2.3 0 1,0 -4.6,0M168.9,94.9a2.3,2.3 0 1,0 4.6,0a2.3,2.3 0 1,0 -4.6,0M167.9,102.3a2.3,2.3 0 1,0 4.6,0a2.3,2.3 0 1,0 -4.6,0M170.6,95.1a2.3,2.3 0 1,0 4.6,0a2.3,2.3 0 1,0 -4.6,0M169.1,104.1a2.3,2.3 0 1,0 4.6,0a2.3,2.3 0 1,0 -4.6,0M171.5,94.7a2.3,2.3 0 1,0 4.6,0a2.3,2.3 0 1,0 -4.6,0M171.1,105.2a2.3,2.3 0 1,0 4.6,0a2.3,2.3 0 1,0 -4.6,0M173.4,95.4a2.3,2.3 0 1,0 4.6,0a2.3,2.3 0 1,0 -4.6,0M172.4,105.7a2.3,2.3 0 1,0 4.6,0a2.3,2.3 0 1,0 -4.6,0M174.4,93.7a2.3,2.3 0 1,0 4.6,0a2.3,2.3 0 1,0 -4.6,0M174.2,104.1a2.3,2.3 0 1,0 4.6,0a2.3,2.3 0 1,0 -4.6,0M176.8,94.7a2.3,2.3 0 1,0 4.6,0a2.3,2.3 0 1,0 -4.6,0M175.8,104.2a2.3,2.3 0 1,0 4.6,0a2.3,2.3 0 1,0 -4.6,0M178.7,94.2a2.3,2.3 0 1,0 4.6,0a2.3,2.3 0 1,0 -4.6,0M177.5,100.4a2.3,2.3 0 1,0 4.6,0a2.3,2.3 0 1,0 -4.6,0M179.1,94.6a2.3,2.3 0 1,0 4.6,0a2.3,2.3 0 1,0 -4.6,0M180.2,101.3a2.3,2.3 0 1,0 4.6,0a2.3,2.3 0 1,0 -4.6,0M181.1,94.2a2.3,2.3 0 1,0 4.6,0a2.3,2.3 0 1,0 -4.6,0M181.0,99.6a2.3,2.3 0 1,0 4.6,0a2.3,2.3 0 1,0 -4.6,0M183.0,93.8a2.3,2.3 0 1,0 4.6,0a2.3,2.3 0 1,0 -4.6,0M182.5,99.6a2.3,2.3 0 1,0 4.6,0a2.3,2.3 0 1,0 -4.6,0M183.8,93.2a2.3,2.3 0 1,0 4.6,0a2.3,2.3 0 1,0 -4.6,0M183.6,99.0a2.3,2.3 0 1,0 4.6,0a2.3,2.3 0 1,0 -4.6,0M185.2,93.1a2.3,2.3 0 1,0 4.6,0a2.3,2.3 0 1,0 -4.6,0M186.5,99.7a2.3,2.3 0 1,0 4.6,0a2.3,2.3 0 1,0 -4.6,0M187.9,97.9a2.3,2.3 0 1,0 4.6,0a2.3,2.3 0 1,0 -4.6,0M187.2,102.6a2.3,2.3 0 1,0 4.6,0a2.3,2.3 0 1,0 -4.6,0M188.6,98.7a2.3,2.3 0 1,0 4.6,0a2.3,2.3 0 1,0 -4.6,0M188.4,104.8a2.3,2.3 0 1,0 4.6,0a2.3,2.3 0 1,0 -4.6,0M191.0,96.9a2.3,2.3 0 1,0 4.6,0a2.3,2.3 0 1,0 -4.6,0M190.4,103.3a2.3,2.3 0 1,0 4.6,0a2.3,2.3 0 1,0 -4.6,0M191.8,98.1a2.3,2.3 0 1,0 4.6,0a2.3,2.3 0 1,0 -4.6,0M192.1,103.4a2.3,2.3 0 1,0 4.6,0a2.3,2.3 0 1,0 -4.6,0M194.6,98.6a2.3,2.3 0 1,0 4.6,0a2.3,2.3 0 1,0 -4.6,0M193.4,101.2a2.3,2.3 0 1,0 4.6,0a2.3,2.3 0 1,0 -4.6,0M195.3,94.6a2.3,2.3 0 1,0 4.6,0a2.3,2.3 0 1,0 -4.6,0M195.4,101.4a2.3,2.3 0 1,0 4.6,0a2.3,2.3 0 1,0 -4.6,0M196.4,90.0a2.3,2.3 0 1,0 4.6,0a2.3,2.3 0 1,0 -4.6,0M197.8,97.2a2.3,2.3 0 1,0 4.6,0a2.3,2.3 0 1,0 -4.6,0M198.2,88.5a2.3,2.3 0 1,0 4.6,0a2.3,2.3 0 1,0 -4.6,0M197.9,94.9a2.3,2.3 0 1,0 4.6,0a2.3,2.3 0 1,0 -4.6,0M200.2,90.5a2.3,2.3 0 1,0 4.6,0a2.3,2.3 0 1,0 -4.6,0M199.6,97.5a2.3,2.3 0 1,0 4.6,0a2.3,2.3 0 1,0 -4.6,0M201.2,92.1a2.3,2.3 0 1,0 4.6,0a2.3,2.3 0 1,0 -4.6,0M201.5,95.5a2.3,2.3 0 1,0 4.6,0a2.3,2.3 0 1,0 -4.6,0M203.9,91.5a2.3,2.3 0 1,0 4.6,0a2.3,2.3 0 1,0 -4.6,0M203.1,97.0a2.3,2.3 0 1,0 4.6,0a2.3,2.3 0 1,0 -4.6,0M205.8,91.6a2.3,2.3 0 1,0 4.6,0a2.3,2.3 0 1,0 -4.6,0M205.4,98.6a2.3,2.3 0 1,0 4.6,0a2.3,2.3 0 1,0 -4.6,0M206.4,93.1a2.3,2.3 0 1,0 4.6,0a2.3,2.3 0 1,0 -4.6,0M207.1,99.7a2.3,2.3 0 1,0 4.6,0a2.3,2.3 0 1,0 -4.6,0M209.0,92.4a2.3,2.3 0 1,0 4.6,0a2.3,2.3 0 1,0 -4.6,0M207.5,102.1a2.3,2.3 0 1,0 4.6,0a2.3,2.3 0 1,0 -4.6,0M209.5,92.1a2.3,2.3 0 1,0 4.6,0a2.3,2.3 0 1,0 -4.6,0M210.6,101.0a2.3,2.3 0 1,0 4.6,0a2.3,2.3 0 1,0 -4.6,0M211.3,94.5a2.3,2.3 0 1,0 4.6,0a2.3,2.3 0 1,0 -4.6,0M211.5,101.0a2.3,2.3 0 1,0 4.6,0a2.3,2.3 0 1,0 -4.6,0M213.8,96.1a2.3,2.3 0 1,0 4.6,0a2.3,2.3 0 1,0 -4.6,0M213.5,100.6a2.3,2.3 0 1,0 4.6,0a2.3,2.3 0 1,0 -4.6,0" fill="#0072BD"/>
<path d="M57.0,147.9 L58.6,147.6 L60.2,147.2 L61.8,147.0 L63.4,146.8 L65.0,146.5 L66.6,147.6 L68.2,148.7 L69.8,149.9 L71.4,149.1 L73.0,148.3 L74.6,147.5 L76.2,147.0 L77.8,146.7 L79.4,146.3 L81.0,146.0 L82.6,146.0 L84.2,146.7 L85.8,147.3 L87.4,147.9 L89.0,147.3 L90.6,146.8 L92.2,145.4 L93.8,143.3 L95.4,141.1 L97.0,141.6 L98.6,142.2 L100.2,143.3 L101.8,145.2 L103.4,146.4 L105.0,146.1 L106.6,145.9 L108.2,144.7 L109.8,143.3 L111.4,141.9 L113.0,140.5 L114.6,140.9 L116.2,141.9 L117.8,143.5 L119.4,145.2 L121.0,146.8 L122.6,147.4 L124.2,145.8 L125.8,144.2 L127.4,142.6 L129.0,141.0 L130.6,139.4 L132.2,139.0 L133.8,140.6 L135.4,142.2 L137.0,143.8 L138.6,144.0 L140.2,144.2 L141.8,144.4 L143.4,143.1 L145.0,140.8 L146.6,138.5 L148.2,138.1 L149.8,138.5 L151.4,139.0 L153.0,141.3 L154.6,144.3 L156.2,146.4 L157.8,145.8 L159.4,145.2 L161.0,144.6 L162.6,143.3 L164.2,141.9 L165.8,140.5 L167.4,139.8 L169.0,139.8 L170.6,140.5 L172.2,141.8 L173.8,143.1 L175.4,144.3 L177.0,145.1 L178.6,144.6 L180.2,144.1 L181.8,143.2 L183.4,141.6 L185.0,140.0 L186.6,138.4 L188.2,140.0 L189.8,141.6 L191.4,143.3 L193.0,144.9 L194.6,143.6 L196.2,141.5 L197.8,139.5 L199.4,138.1 L201.0,137.4 L202.6,136.7 L204.2,136.0 L205.8,136.9 L207.4,138.9 L209.0,140.9 L210.6,142.9 L212.2,143.9 L213.8,144.6 L215.4,145.4 L215.4,148.7 L213.8,148.9 L212.2,149.1 L210.6,149.0 L209.0,146.9 L207.4,144.7 L205.8,142.5 L204.2,141.6 L202.6,142.7 L201.0,143.8 L199.4,144.8 L197.8,145.9 L196.2,146.8 L194.6,147.8 L193.0,148.4 L191.4,147.3 L189.8,146.1 L188.2,145.0 L186.6,143.9 L185.0,145.7 L183.4,147.5 L181.8,149.3 L180.2,150.0 L178.6,150.0 L177.0,150.0 L175.4,149.0 L173.8,147.6 L172.2,146.1 L170.6,144.7 L169.0,144.4 L167.4,145.4 L165.8,146.3 L164.2,147.1 L162.6,147.9 L161.0,148.7 L159.4,149.5 L157.8,150.3 L156.2,151.1 L154.6,149.3 L153.0,146.6 L151.4,144.5 L149.8,144.3 L148.2,144.1 L146.6,144.5 L145.0,146.3 L143.4,148.2 L141.8,149.5 L140.2,149.9 L138.6,150.3 L137.0,150.7 L135.4,149.3 L133.8,147.9 L132.2,146.4 L130.6,146.6 L129.0,147.6 L127.4,148.7 L125.8,150.1 L124.2,151.5 L122.6,153.0 L121.0,152.3 L119.4,150.7 L117.8,149.0 L116.2,147.4 L114.6,146.6 L113.0,146.6 L111.4,148.0 L109.8,149.4 L108.2,150.8 L106.6,152.2 L105.0,153.0 L103.4,153.8 L101.8,151.4 L100.2,147.6 L98.6,146.1 L97.0,146.3 L95.4,146.6 L93.8,148.8 L92.2,150.9 L90.6,152.4 L89.0,153.2 L87.4,154.0 L85.8,153.4 L84.2,152.8 L82.6,152.2 L81.0,152.5 L79.4,153.3 L77.8,154.1 L76.2,154.9 L74.6,155.2 L73.0,154.8 L71.4,154.4 L69.8,154.0 L68.2,153.6 L66.6,153.1 L65.0,152.7 L63.4,152.7 L61.8,152.7 L60.2,152.9 L58.6,154.5 L57.0,156.1Z" fill="#D95319"/><path d="M55.2,148.1a2.3,2.3 0 1,0 4.6,0a2.3,2.3 0 1,0 -4.6,0M54.4,157.2a2.3,2.3 0 1,0 4.6,0a2.3,2.3 0 1,0 -4.6,0M56.0,146.7a2.3,2.3 0 1,0 4.6,0a2.3,2.3 0 1,0 -4.6,0M55.6,153.4a2.3,2.3 0 1,0 4.6,0a2.3,2.3 0 1,0 -4.6,0M57.4,147.3a2.3,2.3 0 1,0 4.6,0a2.3,2.3 0 1,0 -4.6,0M57.2,153.5a2.3,2.3 0 1,0 4.6,0a2.3,2.3 0 1,0 -4.6,0M58.8,146.3a2.3,2.3 0 1,0 4.6,0a2.3,2.3 0 1,0 -4.6,0M60.3,152.9a2.3,2.3 0 1,0 4.6,0a2.3,2.3 0 1,0 -4.6,0M61.7,147.4a2.3,2.3 0 1,0 4.6,0a2.3,2.3 0 1,0 -4.6,0M60.4,152.7a2.3,2.3 0 1,0 4.6,0a2.3,2.3 0 1,0 -4.6,0M62.1,145.3a2.3,2.3 0 1,0 4.6,0a2.3,2.3 0 1,0 -4.6,0M62.6,152.7a2.3,2.3 0 1,0 4.6,0a2.3,2.3 0 1,0 -4.6,0M63.9,146.6a2.3,2.3 0 1,0 4.6,0a2.3,2.3 0 1,0 -4.6,0M64.6,152.6a2.3,2.3 0 1,0 4.6,0a2.3,2.3 0 1,0 -4.6,0M66.3,149.4a2.3,2.3 0 1,0 4.6,0a2.3,2.3 0 1,0 -4.6,0M65.3,154.5a2.3,2.3 0 1,0 4.6,0a2.3,2.3 0 1,0 -4.6,0M68.0,149.6a2.3,2.3 0 1,0 4.6,0a2.3,2.3 0 1,0 -4.6,0M67.3,153.0a2.3,2.3 0 1,0 4.6,0a2.3,2.3 0 1,0 -4.6,0M69.5,149.3a2.3,2.3 0 1,0 4.6,0a2.3,2.3 0 1,0 -4.6,0M68.7,153.8a2.3,2.3 0 1,0 4.6,0a2.3,2.3 0 1,0 -4.6,0M70.1,149.1a2.3,2.3 0 1,0 4.6,0a2.3,2.3 0 1,0 -4.6,0M70.4,155.5a2.3,2.3 0 1,0 4.6,0a2.3,2.3 0 1,0 -4.6,0M72.1,148.5a2.3,2.3 0 1,0 4.6,0a2.3,2.3 0 1,0 -4.6,0M71.9,155.3a2.3,2.3 0 1,0 4.6,0a2.3,2.3 0 1,0 -4.6,0M74.4,145.6a2.3,2.3 0 1,0 4.6,0a2.3,2.3 0 1,0 -4.6,0M73.3,156.9a2.3,2.3 0 1,0 4.6,0a2.3,2.3 0 1,0 -4.6,0M75.5,147.3a2.3,2.3 0 1,0 4.6,0a2.3,2.3 0 1,0 -4.6,0M76.2,155.5a2.3,2.3 0 1,0 4.6,0a2.3,2.3 0 1,0 -4.6,0M76.4,146.2a2.3,2.3 0 1,0 4.6,0a2.3,2.3 0 1,0 -4.6,0M76.6,152.9a2.3,2.3 0 1,0 4.6,0a2.3,2.3 0 1,0 -4.6,0M79.5,144.4a2.3,2.3 0 1,0 4.6,0a2.3,2.3 0 1,0 -4.6,0M78.5,153.4a2.3,2.3 0 1,0 4.6,0a2.3,2.3 0 1,0 -4.6,0M80.9,145.4a2.3,2.3 0 1,0 4.6,0a2.3,2.3 0 1,0 -4.6,0M80.7,152.0a2.3,2.3 0 1,0 4.6,0a2.3,2.3 0 1,0 -4.6,0M82.6,147.5a2.3,2.3 0 1,0 4.6,0a2.3,2.3 0 1,0 -4.6,0M82.1,152.2a2.3,2.3 0 1,0 4.6,0a2.3,2.3 0 1,0 -4.6,0M83.0,147.0a2.3,2.3 0 1,0 4.6,0a2.3,2.3 0 1,0 -4.6,0M83.0,153.1a2.3,2.3 0 1,0 4.6,0a2.3,2.3 0 1,0 -4.6,0M84.7,147.0a2.3,2.3 0 1,0 4.6,0a2.3,2.3 0 1,0 -4.6,0M84.6,154.7a2.3,2.3 0 1,0 4.6,0a2.3,2.3 0 1,0 -4.6,0M85.9,146.8a2.3,2.3 0 1,0 4.6,0a2.3,2.3 0 1,0 -4.6,0M86.2,152.1a2.3,2.3 0 1,0 4.6,0a2.3,2.3 0 1,0 -4.6,0M88.0,147.2a2.3,2.3 0 1,0 4.6,0a2.3,2.3 0 1,0 -4.6,0M88.4,151.0a2.3,2.3 0 1,0 4.6,0a2.3,2.3 0 1,0 -4.6,0M89.2,146.1a2.3,2.3 0 1,0 4.6,0a2.3,2.3 0 1,0 -4.6,0M90.0,150.4a2.3,2.3 0 1,0 4.6,0a2.3,2.3 0 1,0 -4.6,0M91.7,143.7a2.3,2.3 0 1,0 4.6,0a2.3,2.3 0 1,0 -4.6,0M91.8,148.5a2.3,2.3 0 1,0 4.6,0a2.3,2.3 0 1,0 -4.6,0M93.0,141.0a2.3,2.3 0 1,0 4.6,0a2.3,2.3 0 1,0 -4.6,0M93.8,145.9a2.3,2.3 0 1,0 4.6,0a2.3,2.3 0 1,0 -4.6,0M94.4,141.0a2.3,2.3 0 1,0 4.6,0a2.3,2.3 0 1,0 -4.6,0M94.6,146.6a2.3,2.3 0 1,0 4.6,0a2.3,2.3 0 1,0 -4.6,0M96.9,143.0a2.3,2.3 0 1,0 4.6,0a2.3,2.3 0 1,0 -4.6,0M95.8,146.1a2.3,2.3 0 1,0 4.6,0a2.3,2.3 0 1,0 -4.6,0M98.3,143.3a2.3,2.3 0 1,0 4.6,0a2.3,2.3 0 1,0 -4.6,0M98.5,147.5a2.3,2.3 0 1,0 4.6,0a2.3,2.3 0 1,0 -4.6,0M99.4,145.6a2.3,2.3 0 1,0 4.6,0a2.3,2.3 0 1,0 -4.6,0M100.1,152.1a2.3,2.3 0 1,0 4.6,0a2.3,2.3 0 1,0 -4.6,0M101.0,146.5a2.3,2.3 0 1,0 4.6,0a2.3,2.3 0 1,0 -4.6,0M101.2,153.6a2.3,2.3 0 1,0 4.6,0a2.3,2.3 0 1,0 -4.6,0M102.9,146.4a2.3,2.3 0 1,0 4.6,0a2.3,2.3 0 1,0 -4.6,0M102.9,153.1a2.3,2.3 0 1,0 4.6,0a2.3,2.3 0 1,0 -4.6,0M104.1,145.4a2.3,2.3 0 1,0 4.6,0a2.3,2.3 0 1,0 -4.6,0M104.0,152.2a2.3,2.3 0 1,0 4.6,0a2.3,2.3 0 1,0 -4.6,0M105.9,145.0a2.3,2.3 0 1,0 4.6,0a2.3,2.3 0 1,0 -4.6,0M105.9,151.0a2.3,2.3 0 1,0 4.6,0a2.3,2.3 0 1,0 -4.6,0M108.0,143.8a2.3,2.3 0 1,0 4.6,0a2.3,2.3 0 1,0 -4.6,0M106.9,149.5a2.3,2.3 0 1,0 4.6,0a2.3,2.3 0 1,0 -4.6,0M109.8,142.8a2.3,2.3 0 1,0 4.6,0a2.3,2.3 0 1,0 -4.6,0M108.4,148.2a2.3,2.3 0 1,0 4.6,0a2.3,2.3 0 1,0 -4.6,0M111.4,139.2a2.3,2.3 0 1,0 4.6,0a2.3,2.3 0 1,0 -4.6,0M110.9,145.5a2.3,2.3 0 1,0 4.6,0a2.3,2.3 0 1,0 -4.6,0M112.8,141.7a2.3,2.3 0 1,0 4.6,0a2.3,2.3 0 1,0 -4.6,0M111.9,145.4a2.3,2.3 0 1,0 4.6,0a2.3,2.3 0 1,0 -4.6,0M113.7,142.8a2.3,2.3 0 1,0 4.6,0a2.3,2.3 0 1,0 -4.6,0M113.4,148.6a2.3,2.3 0 1,0 4.6,0a2.3,2.3 0 1,0 -4.6,0M115.0,142.8a2.3,2.3 0 1,0 4.6,0a2.3,2.3 0 1,0 -4.6,0M115.3,148.5a2.3,2.3 0 1,0 4.6,0a2.3,2.3 0 1,0 -4.6,0M116.5,145.2a2.3,2.3 0 1,0 4.6,0a2.3,2.3 0 1,0 -4.6,0M117.7,149.4a2.3,2.3 0 1,0 4.6,0a2.3,2.3 0 1,0 -4.6,0M118.0,145.5a2.3,2.3 0 1,0 4.6,0a2.3,2.3 0 1,0 -4.6,0M118.0,152.8a2.3,2.3 0 1,0 4.6,0a2.3,2.3 0 1,0 -4.6,0M120.8,148.2a2.3,2.3 0 1,0 4.6,0a2.3,2.3 0 1,0 -4.6,0M120.4,152.2a2.3,2.3 0 1,0 4.6,0a2.3,2.3 0 1,0 -4.6,0M122.1,145.5a2.3,2.3 0 1,0 4.6,0a2.3,2.3 0 1,0 -4.6,0M122.0,150.7a2.3,2.3 0 1,0 4.6,0a2.3,2.3 0 1,0 -4.6,0M123.4,143.7a2.3,2.3 0 1,0 4.6,0a2.3,2.3 0 1,0 -4.6,0M123.4,150.8a2.3,2.3 0 1,0 4.6,0a2.3,2.3 0 1,0 -4.6,0M124.3,141.9a2.3,2.3 0 1,0 4.6,0a2.3,2.3 0 1,0 -4.6,0M124.7,149.3a2.3,2.3 0 1,0 4.6,0a2.3,2.3 0 1,0 -4.6,0M127.1,141.2a2.3,2.3 0 1,0 4.6,0a2.3,2.3 0 1,0 -4.6,0M126.2,148.5a2.3,2.3 0 1,0 4.6,0a2.3,2.3 0 1,0 -4.6,0M128.3,139.7a2.3,2.3 0 1,0 4.6,0a2.3,2.3 0 1,0 -4.6,0M128.2,146.3a2.3,2.3 0 1,0 4.6,0a2.3,2.3 0 1,0 -4.6,0M129.2,138.1a2.3,2.3 0 1,0 4.6,0a2.3,2.3 0 1,0 -4.6,0M129.2,146.1a2.3,2.3 0 1,0 4.6,0a2.3,2.3 0 1,0 -4.6,0M131.7,141.7a2.3,2.3 0 1,0 4.6,0a2.3,2.3 0 1,0 -4.6,0M131.9,147.2a2.3,2.3 0 1,0 4.6,0a2.3,2.3 0 1,0 -4.6,0M133.1,143.1a2.3,2.3 0 1,0 4.6,0a2.3,2.3 0 1,0 -4.6,0M132.9,149.0a2.3,2.3 0 1,0 4.6,0a2.3,2.3 0 1,0 -4.6,0M135.4,144.8a2.3,2.3 0 1,0 4.6,0a2.3,2.3 0 1,0 -4.6,0M135.5,149.5a2.3,2.3 0 1,0 4.6,0a2.3,2.3 0 1,0 -4.6,0M136.7,144.2a2.3,2.3 0 1,0 4.6,0a2.3,2.3 0 1,0 -4.6,0M137.1,150.8a2.3,2.3 0 1,0 4.6,0a2.3,2.3 0 1,0 -4.6,0M137.9,145.9a2.3,2.3 0 1,0 4.6,0a2.3,2.3 0 1,0 -4.6,0M137.4,150.3a2.3,2.3 0 1,0 4.6,0a2.3,2.3 0 1,0 -4.6,0M140.0,144.7a2.3,2.3 0 1,0 4.6,0a2.3,2.3 0 1,0 -4.6,0M139.3,149.6a2.3,2.3 0 1,0 4.6,0a2.3,2.3 0 1,0 -4.6,0M141.5,144.0a2.3,2.3 0 1,0 4.6,0a2.3,2.3 0 1,0 -4.6,0M140.7,146.7a2.3,2.3 0 1,0 4.6,0a2.3,2.3 0 1,0 -4.6,0M143.2,141.4a2.3,2.3 0 1,0 4.6,0a2.3,2.3 0 1,0 -4.6,0M143.4,145.6a2.3,2.3 0 1,0 4.6,0a2.3,2.3 0 1,0 -4.6,0M143.8,138.4a2.3,2.3 0 1,0 4.6,0a2.3,2.3 0 1,0 -4.6,0M144.0,143.5a2.3,2.3 0 1,0 4.6,0a2.3,2.3 0 1,0 -4.6,0M145.2,138.3a2.3,2.3 0 1,0 4.6,0a2.3,2.3 0 1,0 -4.6,0M146.6,143.6a2.3,2.3 0 1,0 4.6,0a2.3,2.3 0 1,0 -4.6,0M147.8,138.9a2.3,2.3 0 1,0 4.6,0a2.3,2.3 0 1,0 -4.6,0M148.0,144.6a2.3,2.3 0 1,0 4.6,0a2.3,2.3 0 1,0 -4.6,0M148.5,137.9a2.3,2.3 0 1,0 4.6,0a2.3,2.3 0 1,0 -4.6,0M148.9,144.8a2.3,2.3 0 1,0 4.6,0a2.3,2.3 0 1,0 -4.6,0M151.3,140.3a2.3,2.3 0 1,0 4.6,0a2.3,2.3 0 1,0 -4.6,0M151.3,147.0a2.3,2.3 0 1,0 4.6,0a2.3,2.3 0 1,0 -4.6,0M151.7,145.4a2.3,2.3 0 1,0 4.6,0a2.3,2.3 0 1,0 -4.6,0M152.1,149.3a2.3,2.3 0 1,0 4.6,0a2.3,2.3 0 1,0 -4.6,0M154.4,146.1a2.3,2.3 0 1,0 4.6,0a2.3,2.3 0 1,0 -4.6,0M154.0,148.7a2.3,2.3 0 1,0 4.6,0a2.3,2.3 0 1,0 -4.6,0M155.3,145.8a2.3,2.3 0 1,0 4.6,0a2.3,2.3 0 1,0 -4.6,0M155.0,151.2a2.3,2.3 0 1,0 4.6,0a2.3,2.3 0 1,0 -4.6,0M157.5,146.6a2.3,2.3 0 1,0 4.6,0a2.3,2.3 0 1,0 -4.6,0M156.7,149.1a2.3,2.3 0 1,0 4.6,0a2.3,2.3 0 1,0 -4.6,0M158.9,145.6a2.3,2.3 0 1,0 4.6,0a2.3,2.3 0 1,0 -4.6,0M159.0,148.8a2.3,2.3 0 1,0 4.6,0a2.3,2.3 0 1,0 -4.6,0M160.0,143.5a2.3,2.3 0 1,0 4.6,0a2.3,2.3 0 1,0 -4.6,0M159.7,147.9a2.3,2.3 0 1,0 4.6,0a2.3,2.3 0 1,0 -4.6,0M162.1,141.0a2.3,2.3 0 1,0 4.6,0a2.3,2.3 0 1,0 -4.6,0M162.5,146.7a2.3,2.3 0 1,0 4.6,0a2.3,2.3 0 1,0 -4.6,0M162.9,140.7a2.3,2.3 0 1,0 4.6,0a2.3,2.3 0 1,0 -4.6,0M162.7,145.1a2.3,2.3 0 1,0 4.6,0a2.3,2.3 0 1,0 -4.6,0M164.3,139.6a2.3,2.3 0 1,0 4.6,0a2.3,2.3 0 1,0 -4.6,0M164.9,145.1a2.3,2.3 0 1,0 4.6,0a2.3,2.3 0 1,0 -4.6,0M166.3,138.9a2.3,2.3 0 1,0 4.6,0a2.3,2.3 0 1,0 -4.6,0M166.2,144.9a2.3,2.3 0 1,0 4.6,0a2.3,2.3 0 1,0 -4.6,0M168.5,140.1a2.3,2.3 0 1,0 4.6,0a2.3,2.3 0 1,0 -4.6,0M169.0,144.6a2.3,2.3 0 1,0 4.6,0a2.3,2.3 0 1,0 -4.6,0M169.5,142.0a2.3,2.3 0 1,0 4.6,0a2.3,2.3 0 1,0 -4.6,0M170.1,145.9a2.3,2.3 0 1,0 4.6,0a2.3,2.3 0 1,0 -4.6,0M172.1,143.2a2.3,2.3 0 1,0 4.6,0a2.3,2.3 0 1,0 -4.6,0M171.1,148.4a2.3,2.3 0 1,0 4.6,0a2.3,2.3 0 1,0 -4.6,0M172.3,143.7a2.3,2.3 0 1,0 4.6,0a2.3,2.3 0 1,0 -4.6,0M172.9,149.8a2.3,2.3 0 1,0 4.6,0a2.3,2.3 0 1,0 -4.6,0M174.9,143.3a2.3,2.3 0 1,0 4.6,0a2.3,2.3 0 1,0 -4.6,0M175.1,149.3a2.3,2.3 0 1,0 4.6,0a2.3,2.3 0 1,0 -4.6,0M175.9,144.8a2.3,2.3 0 1,0 4.6,0a2.3,2.3 0 1,0 -4.6,0M176.4,150.1a2.3,2.3 0 1,0 4.6,0a2.3,2.3 0 1,0 -4.6,0M177.7,144.1a2.3,2.3 0 1,0 4.6,0a2.3,2.3 0 1,0 -4.6,0M178.3,149.7a2.3,2.3 0 1,0 4.6,0a2.3,2.3 0 1,0 -4.6,0M178.7,141.4a2.3,2.3 0 1,0 4.6,0a2.3,2.3 0 1,0 -4.6,0M178.9,149.9a2.3,2.3 0 1,0 4.6,0a2.3,2.3 0 1,0 -4.6,0M180.6,140.9a2.3,2.3 0 1,0 4.6,0a2.3,2.3 0 1,0 -4.6,0M181.3,148.1a2.3,2.3 0 1,0 4.6,0a2.3,2.3 0 1,0 -4.6,0M183.2,140.3a2.3,2.3 0 1,0 4.6,0a2.3,2.3 0 1,0 -4.6,0M182.4,145.1a2.3,2.3 0 1,0 4.6,0a2.3,2.3 0 1,0 -4.6,0M183.6,139.5a2.3,2.3 0 1,0 4.6,0a2.3,2.3 0 1,0 -4.6,0M184.6,144.8a2.3,2.3 0 1,0 4.6,0a2.3,2.3 0 1,0 -4.6,0M185.1,140.8a2.3,2.3 0 1,0 4.6,0a2.3,2.3 0 1,0 -4.6,0M185.8,146.1a2.3,2.3 0 1,0 4.6,0a2.3,2.3 0 1,0 -4.6,0M187.9,141.1a2.3,2.3 0 1,0 4.6,0a2.3,2.3 0 1,0 -4.6,0M186.9,146.0a2.3,2.3 0 1,0 4.6,0a2.3,2.3 0 1,0 -4.6,0M188.7,144.0a2.3,2.3 0 1,0 4.6,0a2.3,2.3 0 1,0 -4.6,0M189.5,147.1a2.3,2.3 0 1,0 4.6,0a2.3,2.3 0 1,0 -4.6,0M191.0,145.6a2.3,2.3 0 1,0 4.6,0a2.3,2.3 0 1,0 -4.6,0M190.3,149.4a2.3,2.3 0 1,0 4.6,0a2.3,2.3 0 1,0 -4.6,0M192.4,142.3a2.3,2.3 0 1,0 4.6,0a2.3,2.3 0 1,0 -4.6,0M192.3,147.3a2.3,2.3 0 1,0 4.6,0a2.3,2.3 0 1,0 -4.6,0M193.5,140.2a2.3,2.3 0 1,0 4.6,0a2.3,2.3 0 1,0 -4.6,0M193.4,148.4a2.3,2.3 0 1,0 4.6,0a2.3,2.3 0 1,0 -4.6,0M196.1,140.2a2.3,2.3 0 1,0 4.6,0a2.3,2.3 0 1,0 -4.6,0M195.1,145.8a2.3,2.3 0 1,0 4.6,0a2.3,2.3 0 1,0 -4.6,0M197.5,139.3a2.3,2.3 0 1,0 4.6,0a2.3,2.3 0 1,0 -4.6,0M196.8,145.3a2.3,2.3 0 1,0 4.6,0a2.3,2.3 0 1,0 -4.6,0M199.3,137.1a2.3,2.3 0 1,0 4.6,0a2.3,2.3 0 1,0 -4.6,0M199.4,143.2a2.3,2.3 0 1,0 4.6,0a2.3,2.3 0 1,0 -4.6,0M200.5,136.3a2.3,2.3 0 1,0 4.6,0a2.3,2.3 0 1,0 -4.6,0M201.1,143.8a2.3,2.3 0 1,0 4.6,0a2.3,2.3 0 1,0 -4.6,0M201.9,136.6a2.3,2.3 0 1,0 4.6,0a2.3,2.3 0 1,0 -4.6,0M202.5,142.6a2.3,2.3 0 1,0 4.6,0a2.3,2.3 0 1,0 -4.6,0M203.4,136.8a2.3,2.3 0 1,0 4.6,0a2.3,2.3 0 1,0 -4.6,0M203.2,143.6a2.3,2.3 0 1,0 4.6,0a2.3,2.3 0 1,0 -4.6,0M204.6,138.7a2.3,2.3 0 1,0 4.6,0a2.3,2.3 0 1,0 -4.6,0M205.8,144.9a2.3,2.3 0 1,0 4.6,0a2.3,2.3 0 1,0 -4.6,0M206.1,141.3a2.3,2.3 0 1,0 4.6,0a2.3,2.3 0 1,0 -4.6,0M207.4,146.8a2.3,2.3 0 1,0 4.6,0a2.3,2.3 0 1,0 -4.6,0M208.1,143.1a2.3,2.3 0 1,0 4.6,0a2.3,2.3 0 1,0 -4.6,0M207.6,148.9a2.3,2.3 0 1,0 4.6,0a2.3,2.3 0 1,0 -4.6,0M210.2,143.0a2.3,2.3 0 1,0 4.6,0a2.3,2.3 0 1,0 -4.6,0M210.3,150.0a2.3,2.3 0 1,0 4.6,0a2.3,2.3 0 1,0 -4.6,0M210.8,144.0a2.3,2.3 0 1,0 4.6,0a2.3,2.3 0 1,0 -4.6,0M212.0,149.3a2.3,2.3 0 1,0 4.6,0a2.3,2.3 0 1,0 -4.6,0M213.6,145.6a2.3,2.3 0 1,0 4.6,0a2.3,2.3 0 1,0 -4.6,0M213.7,148.9a2.3,2.3 0 1,0 4.6,0a2.3,2.3 0 1,0 -4.6,0" fill="#D95319"/>
<path d="M281.5,56.0 L283.1,52.3 L286.2,51.3 L290.4,49.2M291.5,56.5 L295.0,57.5 L299.0,55.5 L302.0,51.0 L306.2,46.0 L308.8,47.6M309.0,56.0 L312.5,57.0 L316.0,57.5 L318.8,57.0M319.3,54.0 L319.8,47.0 L320.3,40.0 L323.0,37.8 L327.2,38.5M321.3,52.2 L324.8,53.3 L328.3,56.8 L331.8,56.2 L335.3,52.2 L339.4,48.7 L342.9,45.7M344.1,53.3 L347.6,56.2 L351.7,59.7M352.8,53.3 L354.0,50.4 L358.7,47.5 L361.1,47.5M361.7,53.3 L364.0,56.2 L368.6,58.5 L372.1,60.3 L375.6,59.1 L379.1,57.4 L383.8,57.9 L388.4,57.4M371.0,49.2 L373.3,45.1 L378.0,44.0M388.4,52.1 L391.9,49.8 L396.6,48.0M397.2,54.4 L400.1,57.9 L402.5,58.0 L404.8,53.3 L407.2,49.2 L410.6,47.5 L414.1,46.3M414.1,54.5 L417.6,57.4 L422.3,58.0 L427.0,56.2 L431.6,56.2 L436.3,58.0 L440.3,59.7M424.6,39.3 L428.1,41.1 L432.2,40.5" fill="none" stroke="#EDB120" stroke-width="3.2" stroke-linecap="round" stroke-linejoin="round"/><path d="M280.9,55.1a2.1,2.1 0 1,0 4.2,0a2.1,2.1 0 1,0 -4.2,0M280.3,54.5a2.1,2.1 0 1,0 4.1,0a2.1,2.1 0 1,0 -4.1,0M281.6,51.3a2.3,2.3 0 1,0 4.5,0a2.3,2.3 0 1,0 -4.5,0M284.5,50.4a2.1,2.1 0 1,0 4.3,0a2.1,2.1 0 1,0 -4.3,0M286.2,50.4a2.3,2.3 0 1,0 4.6,0a2.3,2.3 0 1,0 -4.6,0M288.4,49.8a2.2,2.2 0 1,0 4.4,0a2.2,2.2 0 1,0 -4.4,0M289.9,56.6a2.1,2.1 0 1,0 4.3,0a2.1,2.1 0 1,0 -4.3,0M291.0,56.3a2.2,2.2 0 1,0 4.3,0a2.2,2.2 0 1,0 -4.3,0M293.5,57.3a2.3,2.3 0 1,0 4.7,0a2.3,2.3 0 1,0 -4.7,0M294.7,56.4a2.2,2.2 0 1,0 4.4,0a2.2,2.2 0 1,0 -4.4,0M295.7,56.0a2.2,2.2 0 1,0 4.3,0a2.2,2.2 0 1,0 -4.3,0M297.6,53.2a2.1,2.1 0 1,0 4.2,0a2.1,2.1 0 1,0 -4.2,0M298.9,52.3a2.3,2.3 0 1,0 4.7,0a2.3,2.3 0 1,0 -4.7,0M299.9,51.0a2.1,2.1 0 1,0 4.2,0a2.1,2.1 0 1,0 -4.2,0M301.5,47.4a2.0,2.0 0 1,0 4.1,0a2.0,2.0 0 1,0 -4.1,0M301.7,47.7a2.3,2.3 0 1,0 4.7,0a2.3,2.3 0 1,0 -4.7,0M304.4,46.7a2.2,2.2 0 1,0 4.3,0a2.2,2.2 0 1,0 -4.3,0M306.7,47.1a2.4,2.4 0 1,0 4.8,0a2.4,2.4 0 1,0 -4.8,0M306.6,56.5a2.3,2.3 0 1,0 4.6,0a2.3,2.3 0 1,0 -4.6,0M308.1,56.5a2.3,2.3 0 1,0 4.5,0a2.3,2.3 0 1,0 -4.5,0M311.3,57.6a2.3,2.3 0 1,0 4.6,0a2.3,2.3 0 1,0 -4.6,0M312.3,56.3a2.2,2.2 0 1,0 4.3,0a2.2,2.2 0 1,0 -4.3,0M313.1,57.9a2.4,2.4 0 1,0 4.7,0a2.4,2.4 0 1,0 -4.7,0M318.0,57.8a2.0,2.0 0 1,0 4.1,0a2.0,2.0 0 1,0 -4.1,0M317.1,54.5a2.4,2.4 0 1,0 4.7,0a2.4,2.4 0 1,0 -4.7,0M316.4,52.2a2.4,2.4 0 1,0 4.7,0a2.4,2.4 0 1,0 -4.7,0M317.4,51.3a2.2,2.2 0 1,0 4.5,0a2.2,2.2 0 1,0 -4.5,0M317.4,47.6a2.3,2.3 0 1,0 4.5,0a2.3,2.3 0 1,0 -4.5,0M317.3,47.5a2.1,2.1 0 1,0 4.2,0a2.1,2.1 0 1,0 -4.2,0M318.2,44.4a2.3,2.3 0 1,0 4.6,0a2.3,2.3 0 1,0 -4.6,0M318.1,44.2a2.3,2.3 0 1,0 4.6,0a2.3,2.3 0 1,0 -4.6,0M317.6,41.6a2.2,2.2 0 1,0 4.4,0a2.2,2.2 0 1,0 -4.4,0M318.6,39.7a2.1,2.1 0 1,0 4.2,0a2.1,2.1 0 1,0 -4.2,0M319.0,39.9a2.3,2.3 0 1,0 4.7,0a2.3,2.3 0 1,0 -4.7,0M321.1,38.1a2.1,2.1 0 1,0 4.3,0a2.1,2.1 0 1,0 -4.3,0M322.6,38.9a2.1,2.1 0 1,0 4.2,0a2.1,2.1 0 1,0 -4.2,0M324.6,38.9a2.4,2.4 0 1,0 4.8,0a2.4,2.4 0 1,0 -4.8,0M324.2,48.7a2.4,2.4 0 1,0 4.8,0a2.4,2.4 0 1,0 -4.8,0M318.9,51.9a2.4,2.4 0 1,0 4.8,0a2.4,2.4 0 1,0 -4.8,0M321.2,53.2a2.4,2.4 0 1,0 4.8,0a2.4,2.4 0 1,0 -4.8,0M322.9,52.2a2.2,2.2 0 1,0 4.4,0a2.2,2.2 0 1,0 -4.4,0M324.8,56.0a2.1,2.1 0 1,0 4.2,0a2.1,2.1 0 1,0 -4.2,0M326.4,57.5a2.1,2.1 0 1,0 4.1,0a2.1,2.1 0 1,0 -4.1,0M326.8,57.2a2.3,2.3 0 1,0 4.6,0a2.3,2.3 0 1,0 -4.6,0M328.6,56.2a2.2,2.2 0 1,0 4.4,0a2.2,2.2 0 1,0 -4.4,0M331.4,55.6a2.2,2.2 0 1,0 4.4,0a2.2,2.2 0 1,0 -4.4,0M331.9,52.0a2.2,2.2 0 1,0 4.4,0a2.2,2.2 0 1,0 -4.4,0M332.1,51.7a2.2,2.2 0 1,0 4.4,0a2.2,2.2 0 1,0 -4.4,0M334.5,52.1a2.4,2.4 0 1,0 4.7,0a2.4,2.4 0 1,0 -4.7,0M335.8,48.8a2.3,2.3 0 1,0 4.7,0a2.3,2.3 0 1,0 -4.7,0M336.8,47.8a2.2,2.2 0 1,0 4.4,0a2.2,2.2 0 1,0 -4.4,0M338.7,48.1a2.1,2.1 0 1,0 4.2,0a2.1,2.1 0 1,0 -4.2,0M339.5,46.3a2.3,2.3 0 1,0 4.6,0a2.3,2.3 0 1,0 -4.6,0M341.5,52.9a2.2,2.2 0 1,0 4.4,0a2.2,2.2 0 1,0 -4.4,0M342.7,55.0a2.2,2.2 0 1,0 4.4,0a2.2,2.2 0 1,0 -4.4,0M344.8,54.8a2.1,2.1 0 1,0 4.2,0a2.1,2.1 0 1,0 -4.2,0M346.1,56.4a2.2,2.2 0 1,0 4.4,0a2.2,2.2 0 1,0 -4.4,0M346.4,58.7a2.1,2.1 0 1,0 4.1,0a2.1,2.1 0 1,0 -4.1,0M349.0,59.6a2.3,2.3 0 1,0 4.6,0a2.3,2.3 0 1,0 -4.6,0M351.5,53.0a2.1,2.1 0 1,0 4.2,0a2.1,2.1 0 1,0 -4.2,0M350.9,50.0a2.3,2.3 0 1,0 4.6,0a2.3,2.3 0 1,0 -4.6,0M352.2,49.4a2.3,2.3 0 1,0 4.7,0a2.3,2.3 0 1,0 -4.7,0M354.0,48.4a2.4,2.4 0 1,0 4.8,0a2.4,2.4 0 1,0 -4.8,0M356.8,48.5a2.2,2.2 0 1,0 4.4,0a2.2,2.2 0 1,0 -4.4,0M358.7,47.1a2.4,2.4 0 1,0 4.8,0a2.4,2.4 0 1,0 -4.8,0M359.4,53.5a2.1,2.1 0 1,0 4.3,0a2.1,2.1 0 1,0 -4.3,0M360.6,54.8a2.2,2.2 0 1,0 4.4,0a2.2,2.2 0 1,0 -4.4,0M360.9,56.7a2.2,2.2 0 1,0 4.3,0a2.2,2.2 0 1,0 -4.3,0M363.2,57.5a2.3,2.3 0 1,0 4.6,0a2.3,2.3 0 1,0 -4.6,0M365.7,57.4a2.1,2.1 0 1,0 4.2,0a2.1,2.1 0 1,0 -4.2,0M366.7,57.8a2.1,2.1 0 1,0 4.2,0a2.1,2.1 0 1,0 -4.2,0M368.9,60.3a2.3,2.3 0 1,0 4.7,0a2.3,2.3 0 1,0 -4.7,0M369.3,59.7a2.2,2.2 0 1,0 4.5,0a2.2,2.2 0 1,0 -4.5,0M372.0,61.5a2.2,2.2 0 1,0 4.3,0a2.2,2.2 0 1,0 -4.3,0M372.4,58.1a2.3,2.3 0 1,0 4.7,0a2.3,2.3 0 1,0 -4.7,0M374.5,58.4a2.2,2.2 0 1,0 4.5,0a2.2,2.2 0 1,0 -4.5,0M377.9,58.3a2.2,2.2 0 1,0 4.3,0a2.2,2.2 0 1,0 -4.3,0M379.6,57.2a2.2,2.2 0 1,0 4.4,0a2.2,2.2 0 1,0 -4.4,0M381.7,58.6a2.1,2.1 0 1,0 4.2,0a2.1,2.1 0 1,0 -4.2,0M385.1,57.7a2.1,2.1 0 1,0 4.3,0a2.1,2.1 0 1,0 -4.3,0M386.2,58.0a2.2,2.2 0 1,0 4.4,0a2.2,2.2 0 1,0 -4.4,0M367.8,49.6a2.3,2.3 0 1,0 4.6,0a2.3,2.3 0 1,0 -4.6,0M368.8,48.4a2.3,2.3 0 1,0 4.7,0a2.3,2.3 0 1,0 -4.7,0M372.2,45.6a2.4,2.4 0 1,0 4.7,0a2.4,2.4 0 1,0 -4.7,0M373.4,44.2a2.3,2.3 0 1,0 4.7,0a2.3,2.3 0 1,0 -4.7,0M375.9,43.9a2.0,2.0 0 1,0 4.1,0a2.0,2.0 0 1,0 -4.1,0M387.2,51.8a2.1,2.1 0 1,0 4.3,0a2.1,2.1 0 1,0 -4.3,0M388.3,51.2a2.1,2.1 0 1,0 4.2,0a2.1,2.1 0 1,0 -4.2,0M389.9,49.2a2.1,2.1 0 1,0 4.2,0a2.1,2.1 0 1,0 -4.2,0M393.2,48.2a2.1,2.1 0 1,0 4.2,0a2.1,2.1 0 1,0 -4.2,0M395.0,47.4a2.3,2.3 0 1,0 4.6,0a2.3,2.3 0 1,0 -4.6,0M394.1,53.1a2.3,2.3 0 1,0 4.6,0a2.3,2.3 0 1,0 -4.6,0M396.6,55.8a2.3,2.3 0 1,0 4.6,0a2.3,2.3 0 1,0 -4.6,0M396.8,57.7a2.2,2.2 0 1,0 4.4,0a2.2,2.2 0 1,0 -4.4,0M401.0,57.4a2.1,2.1 0 1,0 4.3,0a2.1,2.1 0 1,0 -4.3,0M401.1,56.8a2.2,2.2 0 1,0 4.4,0a2.2,2.2 0 1,0 -4.4,0M402.7,55.1a2.1,2.1 0 1,0 4.2,0a2.1,2.1 0 1,0 -4.2,0M401.7,53.3a2.2,2.2 0 1,0 4.5,0a2.2,2.2 0 1,0 -4.5,0M403.7,51.2a2.3,2.3 0 1,0 4.7,0a2.3,2.3 0 1,0 -4.7,0M404.0,49.4a2.3,2.3 0 1,0 4.6,0a2.3,2.3 0 1,0 -4.6,0M407.1,47.8a2.2,2.2 0 1,0 4.4,0a2.2,2.2 0 1,0 -4.4,0M408.6,47.4a2.3,2.3 0 1,0 4.5,0a2.3,2.3 0 1,0 -4.5,0M410.0,46.8a2.3,2.3 0 1,0 4.5,0a2.3,2.3 0 1,0 -4.5,0M411.3,44.8a2.2,2.2 0 1,0 4.3,0a2.2,2.2 0 1,0 -4.3,0M412.7,54.4a2.2,2.2 0 1,0 4.4,0a2.2,2.2 0 1,0 -4.4,0M413.7,55.8a2.3,2.3 0 1,0 4.6,0a2.3,2.3 0 1,0 -4.6,0M414.8,56.9a2.4,2.4 0 1,0 4.7,0a2.4,2.4 0 1,0 -4.7,0M417.2,58.3a2.2,2.2 0 1,0 4.5,0a2.2,2.2 0 1,0 -4.5,0M420.2,57.5a2.2,2.2 0 1,0 4.4,0a2.2,2.2 0 1,0 -4.4,0M421.5,57.5a2.3,2.3 0 1,0 4.7,0a2.3,2.3 0 1,0 -4.7,0M424.5,57.5a2.2,2.2 0 1,0 4.4,0a2.2,2.2 0 1,0 -4.4,0M426.5,56.2a2.2,2.2 0 1,0 4.4,0a2.2,2.2 0 1,0 -4.4,0M430.3,56.0a2.3,2.3 0 1,0 4.7,0a2.3,2.3 0 1,0 -4.7,0M431.5,57.6a2.1,2.1 0 1,0 4.3,0a2.1,2.1 0 1,0 -4.3,0M433.1,57.5a2.3,2.3 0 1,0 4.6,0a2.3,2.3 0 1,0 -4.6,0M437.0,59.1a2.4,2.4 0 1,0 4.7,0a2.4,2.4 0 1,0 -4.7,0M437.9,59.6a2.1,2.1 0 1,0 4.3,0a2.1,2.1 0 1,0 -4.3,0M422.7,39.3a2.4,2.4 0 1,0 4.7,0a2.4,2.4 0 1,0 -4.7,0M423.2,39.6a2.3,2.3 0 1,0 4.6,0a2.3,2.3 0 1,0 -4.6,0M426.7,40.6a2.3,2.3 0 1,0 4.5,0a2.3,2.3 0 1,0 -4.5,0M427.1,40.0a2.3,2.3 0 1,0 4.5,0a2.3,2.3 0 1,0 -4.5,0M429.7,40.1a2.3,2.3 0 1,0 4.6,0a2.3,2.3 0 1,0 -4.6,0M421.1,48.0a2.4,2.4 0 1,0 4.8,0a2.4,2.4 0 1,0 -4.8,0M421.1,52.1a2.4,2.4 0 1,0 4.8,0a2.4,2.4 0 1,0 -4.8,0M429.8,49.2a2.4,2.4 0 1,0 4.8,0a2.4,2.4 0 1,0 -4.8,0" fill="#EDB120"/>
<path d="M281.0,73.0 L281.5,69.0 L284.1,67.5 L287.3,66.5 L290.4,65.4M291.5,71.0 L292.5,73.8 L296.7,69.6 L301.0,67.5 L305.1,62.8 L307.2,64.9M308.8,68.6 L311.4,70.2 L315.6,70.7 L318.3,71.2M327.2,74.9 L330.7,70.8 L335.3,66.2 L340.0,63.8 L344.1,63.2M344.1,68.5 L348.2,72.6 L351.1,74.9 L354.0,68.5 L357.5,63.8 L361.1,63.8M362.8,70.2 L365.1,73.1 L368.6,75.4M380.3,74.2 L386.1,73.7M388.4,68.4 L391.9,64.9 L395.4,64.3M396.6,68.4 L398.9,73.1 L401.0,75.4 L403.7,74.3M406.6,64.9 L410.6,63.2 L414.1,62.0M415.9,71.3 L419.4,73.7 L422.9,74.8M434.0,74.8 L437.4,74.3 L440.3,75.4" fill="none" stroke="#EDB120" stroke-width="3.2" stroke-linecap="round" stroke-linejoin="round"/><path d="M277.8,73.3a2.1,2.1 0 1,0 4.2,0a2.1,2.1 0 1,0 -4.2,0M279.0,71.2a2.3,2.3 0 1,0 4.6,0a2.3,2.3 0 1,0 -4.6,0M280.2,68.5a2.2,2.2 0 1,0 4.3,0a2.2,2.2 0 1,0 -4.3,0M282.4,66.4a2.2,2.2 0 1,0 4.5,0a2.2,2.2 0 1,0 -4.5,0M285.1,67.1a2.2,2.2 0 1,0 4.4,0a2.2,2.2 0 1,0 -4.4,0M287.8,66.1a2.3,2.3 0 1,0 4.5,0a2.3,2.3 0 1,0 -4.5,0M289.5,70.9a2.2,2.2 0 1,0 4.5,0a2.2,2.2 0 1,0 -4.5,0M290.5,73.9a2.3,2.3 0 1,0 4.7,0a2.3,2.3 0 1,0 -4.7,0M290.3,71.7a2.2,2.2 0 1,0 4.4,0a2.2,2.2 0 1,0 -4.4,0M293.7,71.1a2.3,2.3 0 1,0 4.5,0a2.3,2.3 0 1,0 -4.5,0M296.3,68.8a2.2,2.2 0 1,0 4.4,0a2.2,2.2 0 1,0 -4.4,0M296.3,68.7a2.3,2.3 0 1,0 4.5,0a2.3,2.3 0 1,0 -4.5,0M299.0,67.9a2.0,2.0 0 1,0 4.1,0a2.0,2.0 0 1,0 -4.1,0M301.3,66.0a2.1,2.1 0 1,0 4.2,0a2.1,2.1 0 1,0 -4.2,0M301.7,64.3a2.4,2.4 0 1,0 4.7,0a2.4,2.4 0 1,0 -4.7,0M302.9,62.9a2.3,2.3 0 1,0 4.6,0a2.3,2.3 0 1,0 -4.6,0M305.1,66.0a2.1,2.1 0 1,0 4.2,0a2.1,2.1 0 1,0 -4.2,0M307.7,69.0a2.3,2.3 0 1,0 4.6,0a2.3,2.3 0 1,0 -4.6,0M310.0,69.3a2.1,2.1 0 1,0 4.1,0a2.1,2.1 0 1,0 -4.1,0M310.5,69.7a2.2,2.2 0 1,0 4.4,0a2.2,2.2 0 1,0 -4.4,0M313.7,70.5a2.4,2.4 0 1,0 4.8,0a2.4,2.4 0 1,0 -4.8,0M316.2,71.1a2.0,2.0 0 1,0 4.1,0a2.0,2.0 0 1,0 -4.1,0M324.4,73.9a2.1,2.1 0 1,0 4.1,0a2.1,2.1 0 1,0 -4.1,0M325.8,74.6a2.1,2.1 0 1,0 4.2,0a2.1,2.1 0 1,0 -4.2,0M328.0,71.5a2.1,2.1 0 1,0 4.1,0a2.1,2.1 0 1,0 -4.1,0M327.9,71.5a2.2,2.2 0 1,0 4.4,0a2.2,2.2 0 1,0 -4.4,0M329.7,68.9a2.3,2.3 0 1,0 4.7,0a2.3,2.3 0 1,0 -4.7,0M330.8,68.5a2.3,2.3 0 1,0 4.5,0a2.3,2.3 0 1,0 -4.5,0M332.4,66.5a2.3,2.3 0 1,0 4.6,0a2.3,2.3 0 1,0 -4.6,0M335.8,65.0a2.2,2.2 0 1,0 4.5,0a2.2,2.2 0 1,0 -4.5,0M336.0,64.8a2.4,2.4 0 1,0 4.8,0a2.4,2.4 0 1,0 -4.8,0M337.5,62.5a2.2,2.2 0 1,0 4.3,0a2.2,2.2 0 1,0 -4.3,0M338.2,62.3a2.3,2.3 0 1,0 4.7,0a2.3,2.3 0 1,0 -4.7,0M341.4,62.8a2.2,2.2 0 1,0 4.4,0a2.2,2.2 0 1,0 -4.4,0M342.3,68.1a2.3,2.3 0 1,0 4.6,0a2.3,2.3 0 1,0 -4.6,0M341.9,69.0a2.3,2.3 0 1,0 4.7,0a2.3,2.3 0 1,0 -4.7,0M344.7,71.3a2.1,2.1 0 1,0 4.3,0a2.1,2.1 0 1,0 -4.3,0M345.0,73.0a2.3,2.3 0 1,0 4.7,0a2.3,2.3 0 1,0 -4.7,0M347.5,73.6a2.3,2.3 0 1,0 4.7,0a2.3,2.3 0 1,0 -4.7,0M349.4,73.6a2.2,2.2 0 1,0 4.5,0a2.2,2.2 0 1,0 -4.5,0M349.3,74.7a2.3,2.3 0 1,0 4.7,0a2.3,2.3 0 1,0 -4.7,0M349.8,70.3a2.2,2.2 0 1,0 4.3,0a2.2,2.2 0 1,0 -4.3,0M351.7,70.6a2.3,2.3 0 1,0 4.7,0a2.3,2.3 0 1,0 -4.7,0M352.0,69.6a2.4,2.4 0 1,0 4.8,0a2.4,2.4 0 1,0 -4.8,0M353.0,67.9a2.3,2.3 0 1,0 4.6,0a2.3,2.3 0 1,0 -4.6,0M353.7,65.5a2.1,2.1 0 1,0 4.3,0a2.1,2.1 0 1,0 -4.3,0M355.3,62.6a2.2,2.2 0 1,0 4.4,0a2.2,2.2 0 1,0 -4.4,0M358.1,64.5a2.3,2.3 0 1,0 4.6,0a2.3,2.3 0 1,0 -4.6,0M358.8,64.7a2.4,2.4 0 1,0 4.7,0a2.4,2.4 0 1,0 -4.7,0M361.2,69.6a2.2,2.2 0 1,0 4.4,0a2.2,2.2 0 1,0 -4.4,0M361.5,71.4a2.1,2.1 0 1,0 4.2,0a2.1,2.1 0 1,0 -4.2,0M363.4,74.1a2.2,2.2 0 1,0 4.3,0a2.2,2.2 0 1,0 -4.3,0M364.0,74.0a2.2,2.2 0 1,0 4.5,0a2.2,2.2 0 1,0 -4.5,0M366.3,75.6a2.4,2.4 0 1,0 4.8,0a2.4,2.4 0 1,0 -4.8,0M368.0,67.8a2.4,2.4 0 1,0 4.8,0a2.4,2.4 0 1,0 -4.8,0M377.8,74.4a2.3,2.3 0 1,0 4.5,0a2.3,2.3 0 1,0 -4.5,0M380.1,73.6a2.3,2.3 0 1,0 4.5,0a2.3,2.3 0 1,0 -4.5,0M381.6,74.6a2.0,2.0 0 1,0 4.1,0a2.0,2.0 0 1,0 -4.1,0M385.8,74.1a2.4,2.4 0 1,0 4.7,0a2.4,2.4 0 1,0 -4.7,0M385.4,68.5a2.1,2.1 0 1,0 4.3,0a2.1,2.1 0 1,0 -4.3,0M387.9,65.9a2.4,2.4 0 1,0 4.8,0a2.4,2.4 0 1,0 -4.8,0M389.7,63.6a2.4,2.4 0 1,0 4.8,0a2.4,2.4 0 1,0 -4.8,0M391.5,64.8a2.1,2.1 0 1,0 4.2,0a2.1,2.1 0 1,0 -4.2,0M393.5,64.6a2.1,2.1 0 1,0 4.1,0a2.1,2.1 0 1,0 -4.1,0M393.1,67.9a2.2,2.2 0 1,0 4.4,0a2.2,2.2 0 1,0 -4.4,0M396.8,69.5a2.1,2.1 0 1,0 4.1,0a2.1,2.1 0 1,0 -4.1,0M395.5,71.1a2.1,2.1 0 1,0 4.2,0a2.1,2.1 0 1,0 -4.2,0M397.2,73.0a2.2,2.2 0 1,0 4.5,0a2.2,2.2 0 1,0 -4.5,0M397.6,74.0a2.3,2.3 0 1,0 4.6,0a2.3,2.3 0 1,0 -4.6,0M401.0,74.8a2.1,2.1 0 1,0 4.2,0a2.1,2.1 0 1,0 -4.2,0M402.4,70.8a2.4,2.4 0 1,0 4.8,0a2.4,2.4 0 1,0 -4.8,0M406.6,64.4a2.1,2.1 0 1,0 4.2,0a2.1,2.1 0 1,0 -4.2,0M407.0,64.2a2.2,2.2 0 1,0 4.3,0a2.2,2.2 0 1,0 -4.3,0M409.5,62.3a2.3,2.3 0 1,0 4.7,0a2.3,2.3 0 1,0 -4.7,0M411.2,63.0a2.3,2.3 0 1,0 4.6,0a2.3,2.3 0 1,0 -4.6,0M410.8,60.4a2.1,2.1 0 1,0 4.1,0a2.1,2.1 0 1,0 -4.1,0M414.2,72.2a2.4,2.4 0 1,0 4.8,0a2.4,2.4 0 1,0 -4.8,0M415.1,72.0a2.3,2.3 0 1,0 4.5,0a2.3,2.3 0 1,0 -4.5,0M417.3,73.4a2.2,2.2 0 1,0 4.3,0a2.2,2.2 0 1,0 -4.3,0M418.9,74.6a2.2,2.2 0 1,0 4.4,0a2.2,2.2 0 1,0 -4.4,0M421.1,75.3a2.1,2.1 0 1,0 4.2,0a2.1,2.1 0 1,0 -4.2,0M431.7,74.7a2.3,2.3 0 1,0 4.6,0a2.3,2.3 0 1,0 -4.6,0M433.4,74.7a2.4,2.4 0 1,0 4.7,0a2.4,2.4 0 1,0 -4.7,0M435.3,75.9a2.4,2.4 0 1,0 4.7,0a2.4,2.4 0 1,0 -4.7,0M438.4,75.2a2.2,2.2 0 1,0 4.4,0a2.2,2.2 0 1,0 -4.4,0" fill="#EDB120"/>
<path d="M282.0,89.6 L283.9,85.6 L286.9,84.7 L289.8,84.7 L291.8,87.1 L294.7,89.1 L298.6,91.0M300.6,84.7 L304.5,81.7 L308.4,82.7M307.9,88.1 L310.3,90.0 L313.3,88.6 L316.2,90.5 L318.7,92.5 L322.9,94.5 L326.3,96.4M317.5,84.0 L318.5,78.0 L321.9,78.8 L325.8,80.8M326.8,90.5 L330.7,91.5 L333.7,92.5 L335.6,88.6 L337.6,83.7 L340.5,82.7 L343.4,84.7M344.4,90.5 L348.3,91.5 L352.3,92.5M352.3,85.6 L355.2,80.8 L358.1,79.3 L361.0,79.9M361.9,89.8 L366.9,91.3 L371.8,90.8 L375.8,92.7 L378.8,94.7M370.4,83.8 L370.8,79.9 L374.8,76.9 L378.8,79.4M379.7,89.8 L383.7,90.8 L387.7,91.3M388.7,86.0 L391.6,83.4 L396.1,82.9M396.6,88.3 L399.0,88.6 L403.1,90.2 L405.2,87.6 L407.3,83.4 L411.4,80.3 L414.5,81.4M414.5,88.6 L418.6,89.6 L422.8,91.2M422.8,81.4 L425.9,79.3 L430.0,77.2M423.8,94.8 L428.0,93.8 L431.1,92.2M432.1,87.6 L436.2,89.1 L440.4,88.1" fill="none" stroke="#0072BD" stroke-width="3.2" stroke-linecap="round" stroke-linejoin="round"/><path d="M281.0,90.5a2.3,2.3 0 1,0 4.7,0a2.3,2.3 0 1,0 -4.7,0M280.3,87.0a2.2,2.2 0 1,0 4.3,0a2.2,2.2 0 1,0 -4.3,0M282.0,84.9a2.3,2.3 0 1,0 4.5,0a2.3,2.3 0 1,0 -4.5,0M285.1,85.1a2.1,2.1 0 1,0 4.1,0a2.1,2.1 0 1,0 -4.1,0M287.5,83.8a2.1,2.1 0 1,0 4.2,0a2.1,2.1 0 1,0 -4.2,0M290.0,86.7a2.2,2.2 0 1,0 4.4,0a2.2,2.2 0 1,0 -4.4,0M291.2,88.6a2.3,2.3 0 1,0 4.7,0a2.3,2.3 0 1,0 -4.7,0M292.3,89.5a2.2,2.2 0 1,0 4.4,0a2.2,2.2 0 1,0 -4.4,0M293.9,91.4a2.1,2.1 0 1,0 4.2,0a2.1,2.1 0 1,0 -4.2,0M296.5,91.0a2.4,2.4 0 1,0 4.7,0a2.4,2.4 0 1,0 -4.7,0M298.2,84.3a2.2,2.2 0 1,0 4.4,0a2.2,2.2 0 1,0 -4.4,0M300.3,83.7a2.1,2.1 0 1,0 4.2,0a2.1,2.1 0 1,0 -4.2,0M300.7,83.3a2.4,2.4 0 1,0 4.8,0a2.4,2.4 0 1,0 -4.8,0M304.6,82.1a2.1,2.1 0 1,0 4.3,0a2.1,2.1 0 1,0 -4.3,0M306.3,82.6a2.3,2.3 0 1,0 4.6,0a2.3,2.3 0 1,0 -4.6,0M305.3,90.0a2.0,2.0 0 1,0 4.1,0a2.0,2.0 0 1,0 -4.1,0M308.4,89.4a2.1,2.1 0 1,0 4.2,0a2.1,2.1 0 1,0 -4.2,0M312.4,88.6a2.2,2.2 0 1,0 4.5,0a2.2,2.2 0 1,0 -4.5,0M312.7,90.2a2.4,2.4 0 1,0 4.7,0a2.4,2.4 0 1,0 -4.7,0M314.3,91.4a2.1,2.1 0 1,0 4.2,0a2.1,2.1 0 1,0 -4.2,0M316.9,93.6a2.3,2.3 0 1,0 4.6,0a2.3,2.3 0 1,0 -4.6,0M318.8,93.8a2.1,2.1 0 1,0 4.1,0a2.1,2.1 0 1,0 -4.1,0M320.1,94.0a2.1,2.1 0 1,0 4.3,0a2.1,2.1 0 1,0 -4.3,0M322.6,96.4a2.3,2.3 0 1,0 4.6,0a2.3,2.3 0 1,0 -4.6,0M324.5,95.5a2.1,2.1 0 1,0 4.2,0a2.1,2.1 0 1,0 -4.2,0M316.4,84.5a2.2,2.2 0 1,0 4.4,0a2.2,2.2 0 1,0 -4.4,0M315.5,81.8a2.3,2.3 0 1,0 4.7,0a2.3,2.3 0 1,0 -4.7,0M315.1,81.2a2.4,2.4 0 1,0 4.7,0a2.4,2.4 0 1,0 -4.7,0M316.0,78.0a2.4,2.4 0 1,0 4.7,0a2.4,2.4 0 1,0 -4.7,0M316.7,78.6a2.1,2.1 0 1,0 4.3,0a2.1,2.1 0 1,0 -4.3,0M320.2,80.0a2.2,2.2 0 1,0 4.3,0a2.2,2.2 0 1,0 -4.3,0M321.9,80.4a2.3,2.3 0 1,0 4.5,0a2.3,2.3 0 1,0 -4.5,0M324.4,80.8a2.2,2.2 0 1,0 4.4,0a2.2,2.2 0 1,0 -4.4,0M324.1,90.5a2.3,2.3 0 1,0 4.6,0a2.3,2.3 0 1,0 -4.6,0M327.2,89.7a2.2,2.2 0 1,0 4.3,0a2.2,2.2 0 1,0 -4.3,0M328.2,90.8a2.3,2.3 0 1,0 4.6,0a2.3,2.3 0 1,0 -4.6,0M332.6,93.0a2.4,2.4 0 1,0 4.8,0a2.4,2.4 0 1,0 -4.8,0M331.6,90.6a2.2,2.2 0 1,0 4.5,0a2.2,2.2 0 1,0 -4.5,0M333.1,88.6a2.4,2.4 0 1,0 4.8,0a2.4,2.4 0 1,0 -4.8,0M334.3,87.4a2.1,2.1 0 1,0 4.2,0a2.1,2.1 0 1,0 -4.2,0M334.9,86.6a2.1,2.1 0 1,0 4.1,0a2.1,2.1 0 1,0 -4.1,0M336.4,84.3a2.1,2.1 0 1,0 4.2,0a2.1,2.1 0 1,0 -4.2,0M339.2,82.8a2.2,2.2 0 1,0 4.5,0a2.2,2.2 0 1,0 -4.5,0M338.8,83.5a2.1,2.1 0 1,0 4.2,0a2.1,2.1 0 1,0 -4.2,0M342.1,83.9a2.1,2.1 0 1,0 4.1,0a2.1,2.1 0 1,0 -4.1,0M342.8,91.1a2.2,2.2 0 1,0 4.4,0a2.2,2.2 0 1,0 -4.4,0M344.1,91.4a2.2,2.2 0 1,0 4.4,0a2.2,2.2 0 1,0 -4.4,0M346.6,92.2a2.3,2.3 0 1,0 4.7,0a2.3,2.3 0 1,0 -4.7,0M348.5,92.7a2.3,2.3 0 1,0 4.6,0a2.3,2.3 0 1,0 -4.6,0M350.6,93.6a2.4,2.4 0 1,0 4.8,0a2.4,2.4 0 1,0 -4.8,0M349.4,86.1a2.3,2.3 0 1,0 4.7,0a2.3,2.3 0 1,0 -4.7,0M350.2,83.9a2.4,2.4 0 1,0 4.8,0a2.4,2.4 0 1,0 -4.8,0M352.2,81.8a2.1,2.1 0 1,0 4.3,0a2.1,2.1 0 1,0 -4.3,0M352.4,81.4a2.4,2.4 0 1,0 4.8,0a2.4,2.4 0 1,0 -4.8,0M356.3,77.8a2.3,2.3 0 1,0 4.7,0a2.3,2.3 0 1,0 -4.7,0M358.9,79.7a2.2,2.2 0 1,0 4.5,0a2.2,2.2 0 1,0 -4.5,0M361.3,89.4a2.1,2.1 0 1,0 4.3,0a2.1,2.1 0 1,0 -4.3,0M360.5,90.8a2.2,2.2 0 1,0 4.3,0a2.2,2.2 0 1,0 -4.3,0M362.8,90.7a2.2,2.2 0 1,0 4.4,0a2.2,2.2 0 1,0 -4.4,0M364.7,91.3a2.1,2.1 0 1,0 4.2,0a2.1,2.1 0 1,0 -4.2,0M368.2,90.8a2.4,2.4 0 1,0 4.8,0a2.4,2.4 0 1,0 -4.8,0M368.6,89.9a2.4,2.4 0 1,0 4.7,0a2.4,2.4 0 1,0 -4.7,0M371.7,91.6a2.3,2.3 0 1,0 4.5,0a2.3,2.3 0 1,0 -4.5,0M373.6,93.7a2.1,2.1 0 1,0 4.3,0a2.1,2.1 0 1,0 -4.3,0M373.5,93.3a2.3,2.3 0 1,0 4.5,0a2.3,2.3 0 1,0 -4.5,0M376.6,95.5a2.2,2.2 0 1,0 4.4,0a2.2,2.2 0 1,0 -4.4,0M368.8,83.6a2.1,2.1 0 1,0 4.3,0a2.1,2.1 0 1,0 -4.3,0M368.1,81.6a2.3,2.3 0 1,0 4.5,0a2.3,2.3 0 1,0 -4.5,0M369.5,79.7a2.1,2.1 0 1,0 4.3,0a2.1,2.1 0 1,0 -4.3,0M369.9,78.6a2.1,2.1 0 1,0 4.2,0a2.1,2.1 0 1,0 -4.2,0M372.9,77.2a2.1,2.1 0 1,0 4.3,0a2.1,2.1 0 1,0 -4.3,0M374.2,78.5a2.1,2.1 0 1,0 4.3,0a2.1,2.1 0 1,0 -4.3,0M377.2,79.9a2.3,2.3 0 1,0 4.7,0a2.3,2.3 0 1,0 -4.7,0M376.7,89.2a2.3,2.3 0 1,0 4.5,0a2.3,2.3 0 1,0 -4.5,0M379.8,91.4a2.2,2.2 0 1,0 4.4,0a2.2,2.2 0 1,0 -4.4,0M380.6,90.5a2.2,2.2 0 1,0 4.4,0a2.2,2.2 0 1,0 -4.4,0M383.4,91.5a2.1,2.1 0 1,0 4.2,0a2.1,2.1 0 1,0 -4.2,0M384.8,91.2a2.3,2.3 0 1,0 4.5,0a2.3,2.3 0 1,0 -4.5,0M387.0,86.0a2.4,2.4 0 1,0 4.7,0a2.4,2.4 0 1,0 -4.7,0M388.0,85.6a2.2,2.2 0 1,0 4.4,0a2.2,2.2 0 1,0 -4.4,0M389.0,85.4a2.1,2.1 0 1,0 4.3,0a2.1,2.1 0 1,0 -4.3,0M391.8,82.7a2.1,2.1 0 1,0 4.1,0a2.1,2.1 0 1,0 -4.1,0M394.6,82.4a2.1,2.1 0 1,0 4.1,0a2.1,2.1 0 1,0 -4.1,0M393.7,88.8a2.3,2.3 0 1,0 4.6,0a2.3,2.3 0 1,0 -4.6,0M397.0,88.9a2.4,2.4 0 1,0 4.8,0a2.4,2.4 0 1,0 -4.8,0M398.9,89.0a2.2,2.2 0 1,0 4.3,0a2.2,2.2 0 1,0 -4.3,0M400.2,91.0a2.3,2.3 0 1,0 4.5,0a2.3,2.3 0 1,0 -4.5,0M403.7,86.5a2.2,2.2 0 1,0 4.5,0a2.2,2.2 0 1,0 -4.5,0M403.9,84.3a2.3,2.3 0 1,0 4.6,0a2.3,2.3 0 1,0 -4.6,0M403.8,83.6a2.3,2.3 0 1,0 4.6,0a2.3,2.3 0 1,0 -4.6,0M406.6,82.2a2.4,2.4 0 1,0 4.7,0a2.4,2.4 0 1,0 -4.7,0M409.0,81.4a2.3,2.3 0 1,0 4.5,0a2.3,2.3 0 1,0 -4.5,0M407.4,80.3a2.2,2.2 0 1,0 4.5,0a2.2,2.2 0 1,0 -4.5,0M411.1,82.0a2.4,2.4 0 1,0 4.7,0a2.4,2.4 0 1,0 -4.7,0M411.8,88.2a2.2,2.2 0 1,0 4.4,0a2.2,2.2 0 1,0 -4.4,0M413.3,89.4a2.1,2.1 0 1,0 4.3,0a2.1,2.1 0 1,0 -4.3,0M415.7,90.2a2.2,2.2 0 1,0 4.4,0a2.2,2.2 0 1,0 -4.4,0M417.8,91.5a2.3,2.3 0 1,0 4.7,0a2.3,2.3 0 1,0 -4.7,0M419.9,91.2a2.1,2.1 0 1,0 4.2,0a2.1,2.1 0 1,0 -4.2,0M420.9,87.1a2.4,2.4 0 1,0 4.8,0a2.4,2.4 0 1,0 -4.8,0M420.4,81.8a2.2,2.2 0 1,0 4.5,0a2.2,2.2 0 1,0 -4.5,0M421.7,80.2a2.4,2.4 0 1,0 4.7,0a2.4,2.4 0 1,0 -4.7,0M423.0,80.5a2.3,2.3 0 1,0 4.7,0a2.3,2.3 0 1,0 -4.7,0M426.2,78.1a2.2,2.2 0 1,0 4.4,0a2.2,2.2 0 1,0 -4.4,0M428.0,77.1a2.1,2.1 0 1,0 4.1,0a2.1,2.1 0 1,0 -4.1,0M420.7,94.5a2.4,2.4 0 1,0 4.7,0a2.4,2.4 0 1,0 -4.7,0M423.6,93.4a2.4,2.4 0 1,0 4.8,0a2.4,2.4 0 1,0 -4.8,0M424.9,93.7a2.3,2.3 0 1,0 4.6,0a2.3,2.3 0 1,0 -4.6,0M426.8,93.4a2.3,2.3 0 1,0 4.5,0a2.3,2.3 0 1,0 -4.5,0M427.8,93.6a2.3,2.3 0 1,0 4.6,0a2.3,2.3 0 1,0 -4.6,0M429.7,82.9a2.4,2.4 0 1,0 4.8,0a2.4,2.4 0 1,0 -4.8,0M429.6,87.5a2.2,2.2 0 1,0 4.3,0a2.2,2.2 0 1,0 -4.3,0M431.2,88.9a2.2,2.2 0 1,0 4.5,0a2.2,2.2 0 1,0 -4.5,0M435.3,87.9a2.2,2.2 0 1,0 4.4,0a2.2,2.2 0 1,0 -4.4,0M435.0,89.0a2.4,2.4 0 1,0 4.8,0a2.4,2.4 0 1,0 -4.8,0M437.6,88.8a2.3,2.3 0 1,0 4.7,0a2.3,2.3 0 1,0 -4.7,0" fill="#0072BD"/>
<path d="M282.0,102.3 L284.9,100.3 L288.8,100.3 L291.8,103.3 L295.7,106.2 L298.6,105.7 L301.5,99.8 L305.4,97.4 L308.4,98.4M309.4,103.3 L312.3,106.2 L315.7,107.2M325.8,102.3 L326.8,106.2 L330.7,107.7 L334.2,107.2M335.6,101.3 L338.6,98.4 L342.5,99.3 L345.4,103.3 L349.3,106.2 L352.7,107.2M353.2,98.4 L356.2,95.9 L358.6,94.9 L361.0,96.7M361.5,103.6 L364.9,106.6 L369.9,107.6M379.7,102.6 L380.7,106.6 L383.7,108.6 L386.7,106.6 L389.6,99.7 L393.6,98.2 L396.6,99.7 L398.5,105.6 L401.0,106.6 L404.2,106.2M406.2,100.0 L409.3,96.9 L413.5,95.9M414.5,104.1 L418.6,105.2 L422.8,106.7M433.1,104.1 L437.3,105.2 L440.9,105.7" fill="none" stroke="#0072BD" stroke-width="3.2" stroke-linecap="round" stroke-linejoin="round"/><path d="M279.9,102.8a2.4,2.4 0 1,0 4.8,0a2.4,2.4 0 1,0 -4.8,0M281.8,100.6a2.1,2.1 0 1,0 4.2,0a2.1,2.1 0 1,0 -4.2,0M283.4,99.6a2.3,2.3 0 1,0 4.7,0a2.3,2.3 0 1,0 -4.7,0M286.1,100.2a2.2,2.2 0 1,0 4.4,0a2.2,2.2 0 1,0 -4.4,0M286.9,100.8a2.2,2.2 0 1,0 4.4,0a2.2,2.2 0 1,0 -4.4,0M287.7,101.8a2.1,2.1 0 1,0 4.2,0a2.1,2.1 0 1,0 -4.2,0M289.0,102.6a2.2,2.2 0 1,0 4.3,0a2.2,2.2 0 1,0 -4.3,0M292.7,104.7a2.1,2.1 0 1,0 4.1,0a2.1,2.1 0 1,0 -4.1,0M292.5,106.9a2.2,2.2 0 1,0 4.3,0a2.2,2.2 0 1,0 -4.3,0M296.4,105.6a2.1,2.1 0 1,0 4.3,0a2.1,2.1 0 1,0 -4.3,0M297.8,103.0a2.3,2.3 0 1,0 4.6,0a2.3,2.3 0 1,0 -4.6,0M298.6,102.5a2.2,2.2 0 1,0 4.5,0a2.2,2.2 0 1,0 -4.5,0M299.2,100.8a2.2,2.2 0 1,0 4.5,0a2.2,2.2 0 1,0 -4.5,0M302.2,98.6a2.2,2.2 0 1,0 4.4,0a2.2,2.2 0 1,0 -4.4,0M303.4,97.7a2.3,2.3 0 1,0 4.6,0a2.3,2.3 0 1,0 -4.6,0M306.6,98.6a2.1,2.1 0 1,0 4.2,0a2.1,2.1 0 1,0 -4.2,0M305.8,103.1a2.3,2.3 0 1,0 4.5,0a2.3,2.3 0 1,0 -4.5,0M308.9,104.5a2.0,2.0 0 1,0 4.1,0a2.0,2.0 0 1,0 -4.1,0M310.1,105.6a2.3,2.3 0 1,0 4.6,0a2.3,2.3 0 1,0 -4.6,0M311.6,107.0a2.1,2.1 0 1,0 4.3,0a2.1,2.1 0 1,0 -4.3,0M314.7,108.1a2.2,2.2 0 1,0 4.5,0a2.2,2.2 0 1,0 -4.5,0M314.8,102.3a2.4,2.4 0 1,0 4.8,0a2.4,2.4 0 1,0 -4.8,0M323.2,102.9a2.2,2.2 0 1,0 4.4,0a2.2,2.2 0 1,0 -4.4,0M325.4,104.7a2.2,2.2 0 1,0 4.5,0a2.2,2.2 0 1,0 -4.5,0M325.3,106.0a2.3,2.3 0 1,0 4.5,0a2.3,2.3 0 1,0 -4.5,0M326.4,107.2a2.4,2.4 0 1,0 4.8,0a2.4,2.4 0 1,0 -4.8,0M328.7,107.2a2.4,2.4 0 1,0 4.7,0a2.4,2.4 0 1,0 -4.7,0M330.4,106.9a2.3,2.3 0 1,0 4.5,0a2.3,2.3 0 1,0 -4.5,0M332.6,107.0a2.4,2.4 0 1,0 4.8,0a2.4,2.4 0 1,0 -4.8,0M333.3,102.0a2.3,2.3 0 1,0 4.6,0a2.3,2.3 0 1,0 -4.6,0M334.9,100.4a2.4,2.4 0 1,0 4.7,0a2.4,2.4 0 1,0 -4.7,0M335.2,98.5a2.1,2.1 0 1,0 4.3,0a2.1,2.1 0 1,0 -4.3,0M338.7,99.4a2.1,2.1 0 1,0 4.2,0a2.1,2.1 0 1,0 -4.2,0M340.8,99.2a2.2,2.2 0 1,0 4.5,0a2.2,2.2 0 1,0 -4.5,0M342.4,101.9a2.2,2.2 0 1,0 4.4,0a2.2,2.2 0 1,0 -4.4,0M343.1,103.4a2.1,2.1 0 1,0 4.2,0a2.1,2.1 0 1,0 -4.2,0M345.5,104.2a2.1,2.1 0 1,0 4.3,0a2.1,2.1 0 1,0 -4.3,0M347.4,106.7a2.1,2.1 0 1,0 4.3,0a2.1,2.1 0 1,0 -4.3,0M349.8,106.9a2.2,2.2 0 1,0 4.3,0a2.2,2.2 0 1,0 -4.3,0M351.2,108.1a2.1,2.1 0 1,0 4.1,0a2.1,2.1 0 1,0 -4.1,0M351.0,99.7a2.1,2.1 0 1,0 4.2,0a2.1,2.1 0 1,0 -4.2,0M351.1,97.6a2.3,2.3 0 1,0 4.7,0a2.3,2.3 0 1,0 -4.7,0M354.3,96.4a2.3,2.3 0 1,0 4.6,0a2.3,2.3 0 1,0 -4.6,0M355.2,96.1a2.1,2.1 0 1,0 4.2,0a2.1,2.1 0 1,0 -4.2,0M359.7,96.4a2.1,2.1 0 1,0 4.2,0a2.1,2.1 0 1,0 -4.2,0M358.9,103.7a2.3,2.3 0 1,0 4.6,0a2.3,2.3 0 1,0 -4.6,0M360.8,106.6a2.3,2.3 0 1,0 4.5,0a2.3,2.3 0 1,0 -4.5,0M362.3,107.0a2.3,2.3 0 1,0 4.5,0a2.3,2.3 0 1,0 -4.5,0M365.6,108.5a2.1,2.1 0 1,0 4.2,0a2.1,2.1 0 1,0 -4.2,0M366.9,107.5a2.1,2.1 0 1,0 4.3,0a2.1,2.1 0 1,0 -4.3,0M377.5,101.9a2.3,2.3 0 1,0 4.6,0a2.3,2.3 0 1,0 -4.6,0M377.5,104.4a2.2,2.2 0 1,0 4.4,0a2.2,2.2 0 1,0 -4.4,0M378.7,106.8a2.3,2.3 0 1,0 4.7,0a2.3,2.3 0 1,0 -4.7,0M379.7,108.5a2.1,2.1 0 1,0 4.2,0a2.1,2.1 0 1,0 -4.2,0M380.9,108.3a2.2,2.2 0 1,0 4.4,0a2.2,2.2 0 1,0 -4.4,0M383.0,107.8a2.2,2.2 0 1,0 4.3,0a2.2,2.2 0 1,0 -4.3,0M384.5,107.0a2.3,2.3 0 1,0 4.6,0a2.3,2.3 0 1,0 -4.6,0M384.9,105.6a2.4,2.4 0 1,0 4.7,0a2.4,2.4 0 1,0 -4.7,0M386.0,101.7a2.4,2.4 0 1,0 4.7,0a2.4,2.4 0 1,0 -4.7,0M387.2,101.8a2.1,2.1 0 1,0 4.1,0a2.1,2.1 0 1,0 -4.1,0M387.0,98.8a2.2,2.2 0 1,0 4.3,0a2.2,2.2 0 1,0 -4.3,0M388.4,99.5a2.3,2.3 0 1,0 4.6,0a2.3,2.3 0 1,0 -4.6,0M391.4,99.6a2.2,2.2 0 1,0 4.3,0a2.2,2.2 0 1,0 -4.3,0M394.2,99.4a2.1,2.1 0 1,0 4.2,0a2.1,2.1 0 1,0 -4.2,0M395.9,101.1a2.3,2.3 0 1,0 4.6,0a2.3,2.3 0 1,0 -4.6,0M396.0,103.7a2.1,2.1 0 1,0 4.2,0a2.1,2.1 0 1,0 -4.2,0M396.5,106.2a2.2,2.2 0 1,0 4.4,0a2.2,2.2 0 1,0 -4.4,0M399.3,106.7a2.3,2.3 0 1,0 4.5,0a2.3,2.3 0 1,0 -4.5,0M402.5,107.4a2.2,2.2 0 1,0 4.5,0a2.2,2.2 0 1,0 -4.5,0M403.9,99.5a2.2,2.2 0 1,0 4.4,0a2.2,2.2 0 1,0 -4.4,0M405.4,97.9a2.0,2.0 0 1,0 4.1,0a2.0,2.0 0 1,0 -4.1,0M407.8,95.9a2.1,2.1 0 1,0 4.3,0a2.1,2.1 0 1,0 -4.3,0M410.5,96.8a2.3,2.3 0 1,0 4.5,0a2.3,2.3 0 1,0 -4.5,0M411.9,96.1a2.1,2.1 0 1,0 4.2,0a2.1,2.1 0 1,0 -4.2,0M412.3,103.6a2.4,2.4 0 1,0 4.7,0a2.4,2.4 0 1,0 -4.7,0M414.3,104.4a2.3,2.3 0 1,0 4.6,0a2.3,2.3 0 1,0 -4.6,0M415.4,105.9a2.3,2.3 0 1,0 4.7,0a2.3,2.3 0 1,0 -4.7,0M418.3,106.2a2.4,2.4 0 1,0 4.8,0a2.4,2.4 0 1,0 -4.8,0M419.1,107.4a2.3,2.3 0 1,0 4.6,0a2.3,2.3 0 1,0 -4.6,0M430.7,102.8a2.3,2.3 0 1,0 4.5,0a2.3,2.3 0 1,0 -4.5,0M432.7,104.7a2.3,2.3 0 1,0 4.6,0a2.3,2.3 0 1,0 -4.6,0M434.2,105.6a2.4,2.4 0 1,0 4.7,0a2.4,2.4 0 1,0 -4.7,0M437.9,106.3a2.1,2.1 0 1,0 4.1,0a2.1,2.1 0 1,0 -4.1,0M438.4,104.5a2.1,2.1 0 1,0 4.3,0a2.1,2.1 0 1,0 -4.3,0" fill="#0072BD"/>
<path d="M282.0,150.6 L283.9,147.7 L287.8,147.2 L290.8,148.2 L293.7,150.2 L297.6,151.1 L300.6,148.7 L304.5,145.3 L307.4,145.8 L308.4,149.7 L309.4,151.6 L313.3,151.1 L317.2,152.1M318.2,142.3 L322.9,141.8 L326.8,142.3M326.8,152.1 L330.7,151.6 L334.6,152.1M336.6,145.8 L340.5,143.8 L343.4,144.8 L344.4,149.7 L348.3,151.6 L351.3,150.6 L353.2,145.8 L356.2,142.8 L358.6,142.3 L361.0,146.4M361.9,150.8 L365.9,151.8 L369.9,151.8 L370.8,147.4M370.8,140.4 L375.8,140.4 L379.7,140.9M379.7,151.8 L383.7,152.8 L386.7,150.8 L389.6,145.9 L393.6,142.9 L396.6,147.9 L399.5,151.8 L403.1,153.6 L406.2,149.5 L409.3,144.8 L413.5,144.8M414.5,149.5 L418.6,152.1 L422.8,152.1 L423.8,145.3 L426.9,141.7 L431.1,141.7M433.1,150.5 L437.3,152.6 L440.4,154.1" fill="none" stroke="#D95319" stroke-width="3.2" stroke-linecap="round" stroke-linejoin="round"/><path d="M278.0,150.1a2.3,2.3 0 1,0 4.5,0a2.3,2.3 0 1,0 -4.5,0M280.4,149.0a2.1,2.1 0 1,0 4.1,0a2.1,2.1 0 1,0 -4.1,0M281.3,148.3a2.1,2.1 0 1,0 4.2,0a2.1,2.1 0 1,0 -4.2,0M283.4,147.8a2.3,2.3 0 1,0 4.6,0a2.3,2.3 0 1,0 -4.6,0M285.4,146.7a2.1,2.1 0 1,0 4.3,0a2.1,2.1 0 1,0 -4.3,0M287.7,148.1a2.4,2.4 0 1,0 4.8,0a2.4,2.4 0 1,0 -4.8,0M289.5,149.7a2.4,2.4 0 1,0 4.7,0a2.4,2.4 0 1,0 -4.7,0M292.1,150.9a2.2,2.2 0 1,0 4.3,0a2.2,2.2 0 1,0 -4.3,0M293.7,149.8a2.3,2.3 0 1,0 4.6,0a2.3,2.3 0 1,0 -4.6,0M295.8,152.0a2.3,2.3 0 1,0 4.5,0a2.3,2.3 0 1,0 -4.5,0M295.6,150.2a2.3,2.3 0 1,0 4.7,0a2.3,2.3 0 1,0 -4.7,0M298.9,149.1a2.2,2.2 0 1,0 4.3,0a2.2,2.2 0 1,0 -4.3,0M299.8,147.8a2.1,2.1 0 1,0 4.3,0a2.1,2.1 0 1,0 -4.3,0M301.4,147.5a2.2,2.2 0 1,0 4.4,0a2.2,2.2 0 1,0 -4.4,0M302.8,145.7a2.2,2.2 0 1,0 4.4,0a2.2,2.2 0 1,0 -4.4,0M305.1,146.1a2.1,2.1 0 1,0 4.1,0a2.1,2.1 0 1,0 -4.1,0M307.8,147.9a2.3,2.3 0 1,0 4.6,0a2.3,2.3 0 1,0 -4.6,0M307.0,150.3a2.4,2.4 0 1,0 4.8,0a2.4,2.4 0 1,0 -4.8,0M306.9,151.5a2.2,2.2 0 1,0 4.4,0a2.2,2.2 0 1,0 -4.4,0M308.7,151.5a2.2,2.2 0 1,0 4.5,0a2.2,2.2 0 1,0 -4.5,0M312.6,151.2a2.3,2.3 0 1,0 4.5,0a2.3,2.3 0 1,0 -4.5,0M311.8,150.4a2.3,2.3 0 1,0 4.5,0a2.3,2.3 0 1,0 -4.5,0M315.1,152.6a2.1,2.1 0 1,0 4.2,0a2.1,2.1 0 1,0 -4.2,0M317.0,142.5a2.3,2.3 0 1,0 4.7,0a2.3,2.3 0 1,0 -4.7,0M318.2,142.5a2.3,2.3 0 1,0 4.5,0a2.3,2.3 0 1,0 -4.5,0M321.7,140.5a2.1,2.1 0 1,0 4.2,0a2.1,2.1 0 1,0 -4.2,0M322.8,140.8a2.3,2.3 0 1,0 4.6,0a2.3,2.3 0 1,0 -4.6,0M324.3,142.7a2.3,2.3 0 1,0 4.7,0a2.3,2.3 0 1,0 -4.7,0M324.3,152.7a2.2,2.2 0 1,0 4.5,0a2.2,2.2 0 1,0 -4.5,0M325.7,152.8a2.1,2.1 0 1,0 4.3,0a2.1,2.1 0 1,0 -4.3,0M329.3,151.8a2.3,2.3 0 1,0 4.5,0a2.3,2.3 0 1,0 -4.5,0M330.7,150.9a2.4,2.4 0 1,0 4.7,0a2.4,2.4 0 1,0 -4.7,0M333.1,151.8a2.2,2.2 0 1,0 4.4,0a2.2,2.2 0 1,0 -4.4,0M334.7,146.3a2.2,2.2 0 1,0 4.5,0a2.2,2.2 0 1,0 -4.5,0M337.4,145.3a2.1,2.1 0 1,0 4.2,0a2.1,2.1 0 1,0 -4.2,0M336.7,144.4a2.1,2.1 0 1,0 4.1,0a2.1,2.1 0 1,0 -4.1,0M342.0,145.0a2.1,2.1 0 1,0 4.2,0a2.1,2.1 0 1,0 -4.2,0M341.5,147.2a2.3,2.3 0 1,0 4.7,0a2.3,2.3 0 1,0 -4.7,0M343.0,148.7a2.2,2.2 0 1,0 4.4,0a2.2,2.2 0 1,0 -4.4,0M343.9,151.7a2.2,2.2 0 1,0 4.5,0a2.2,2.2 0 1,0 -4.5,0M345.5,151.9a2.2,2.2 0 1,0 4.4,0a2.2,2.2 0 1,0 -4.4,0M348.3,149.5a2.4,2.4 0 1,0 4.7,0a2.4,2.4 0 1,0 -4.7,0M350.0,149.5a2.2,2.2 0 1,0 4.4,0a2.2,2.2 0 1,0 -4.4,0M349.9,147.1a2.1,2.1 0 1,0 4.2,0a2.1,2.1 0 1,0 -4.2,0M351.5,146.1a2.2,2.2 0 1,0 4.4,0a2.2,2.2 0 1,0 -4.4,0M353.9,144.0a2.4,2.4 0 1,0 4.7,0a2.4,2.4 0 1,0 -4.7,0M355.7,142.5a2.3,2.3 0 1,0 4.5,0a2.3,2.3 0 1,0 -4.5,0M356.4,142.1a2.3,2.3 0 1,0 4.6,0a2.3,2.3 0 1,0 -4.6,0M357.1,144.0a2.2,2.2 0 1,0 4.5,0a2.2,2.2 0 1,0 -4.5,0M359.5,146.2a2.3,2.3 0 1,0 4.5,0a2.3,2.3 0 1,0 -4.5,0M359.3,151.4a2.4,2.4 0 1,0 4.7,0a2.4,2.4 0 1,0 -4.7,0M362.1,151.4a2.3,2.3 0 1,0 4.6,0a2.3,2.3 0 1,0 -4.6,0M363.3,151.9a2.3,2.3 0 1,0 4.6,0a2.3,2.3 0 1,0 -4.6,0M365.1,152.5a2.2,2.2 0 1,0 4.4,0a2.2,2.2 0 1,0 -4.4,0M366.8,151.6a2.2,2.2 0 1,0 4.4,0a2.2,2.2 0 1,0 -4.4,0M368.3,149.9a2.4,2.4 0 1,0 4.7,0a2.4,2.4 0 1,0 -4.7,0M368.1,147.3a2.4,2.4 0 1,0 4.7,0a2.4,2.4 0 1,0 -4.7,0M368.6,140.7a2.2,2.2 0 1,0 4.5,0a2.2,2.2 0 1,0 -4.5,0M371.1,141.2a2.2,2.2 0 1,0 4.5,0a2.2,2.2 0 1,0 -4.5,0M373.9,141.3a2.1,2.1 0 1,0 4.2,0a2.1,2.1 0 1,0 -4.2,0M374.8,140.6a2.1,2.1 0 1,0 4.1,0a2.1,2.1 0 1,0 -4.1,0M377.3,141.0a2.2,2.2 0 1,0 4.4,0a2.2,2.2 0 1,0 -4.4,0M378.0,151.1a2.3,2.3 0 1,0 4.6,0a2.3,2.3 0 1,0 -4.6,0M379.3,152.0a2.4,2.4 0 1,0 4.8,0a2.4,2.4 0 1,0 -4.8,0M381.3,152.5a2.3,2.3 0 1,0 4.7,0a2.3,2.3 0 1,0 -4.7,0M382.5,152.1a2.4,2.4 0 1,0 4.8,0a2.4,2.4 0 1,0 -4.8,0M383.5,150.3a2.1,2.1 0 1,0 4.2,0a2.1,2.1 0 1,0 -4.2,0M385.6,148.9a2.1,2.1 0 1,0 4.3,0a2.1,2.1 0 1,0 -4.3,0M386.3,147.6a2.3,2.3 0 1,0 4.5,0a2.3,2.3 0 1,0 -4.5,0M387.4,146.5a2.3,2.3 0 1,0 4.6,0a2.3,2.3 0 1,0 -4.6,0M388.0,145.1a2.3,2.3 0 1,0 4.5,0a2.3,2.3 0 1,0 -4.5,0M391.9,142.3a2.4,2.4 0 1,0 4.7,0a2.4,2.4 0 1,0 -4.7,0M392.6,144.3a2.3,2.3 0 1,0 4.6,0a2.3,2.3 0 1,0 -4.6,0M392.7,147.2a2.3,2.3 0 1,0 4.6,0a2.3,2.3 0 1,0 -4.6,0M394.6,147.6a2.2,2.2 0 1,0 4.3,0a2.2,2.2 0 1,0 -4.3,0M395.6,148.2a2.3,2.3 0 1,0 4.6,0a2.3,2.3 0 1,0 -4.6,0M398.3,152.1a2.1,2.1 0 1,0 4.2,0a2.1,2.1 0 1,0 -4.2,0M398.0,152.3a2.1,2.1 0 1,0 4.2,0a2.1,2.1 0 1,0 -4.2,0M401.9,153.1a2.1,2.1 0 1,0 4.3,0a2.1,2.1 0 1,0 -4.3,0M402.1,152.9a2.3,2.3 0 1,0 4.7,0a2.3,2.3 0 1,0 -4.7,0M402.8,150.7a2.0,2.0 0 1,0 4.1,0a2.0,2.0 0 1,0 -4.1,0M405.1,150.3a2.1,2.1 0 1,0 4.2,0a2.1,2.1 0 1,0 -4.2,0M404.4,147.7a2.3,2.3 0 1,0 4.6,0a2.3,2.3 0 1,0 -4.6,0M405.6,146.6a2.4,2.4 0 1,0 4.7,0a2.4,2.4 0 1,0 -4.7,0M405.9,144.5a2.3,2.3 0 1,0 4.7,0a2.3,2.3 0 1,0 -4.7,0M409.3,144.8a2.2,2.2 0 1,0 4.3,0a2.2,2.2 0 1,0 -4.3,0M411.6,145.5a2.4,2.4 0 1,0 4.7,0a2.4,2.4 0 1,0 -4.7,0M412.5,149.3a2.1,2.1 0 1,0 4.2,0a2.1,2.1 0 1,0 -4.2,0M414.8,149.8a2.2,2.2 0 1,0 4.4,0a2.2,2.2 0 1,0 -4.4,0M415.8,152.2a2.3,2.3 0 1,0 4.7,0a2.3,2.3 0 1,0 -4.7,0M417.3,153.0a2.3,2.3 0 1,0 4.5,0a2.3,2.3 0 1,0 -4.5,0M421.2,152.4a2.1,2.1 0 1,0 4.2,0a2.1,2.1 0 1,0 -4.2,0M421.7,149.8a2.1,2.1 0 1,0 4.1,0a2.1,2.1 0 1,0 -4.1,0M421.4,149.3a2.2,2.2 0 1,0 4.4,0a2.2,2.2 0 1,0 -4.4,0M420.8,146.7a2.2,2.2 0 1,0 4.3,0a2.2,2.2 0 1,0 -4.3,0M422.6,145.3a2.2,2.2 0 1,0 4.3,0a2.2,2.2 0 1,0 -4.3,0M423.7,143.6a2.4,2.4 0 1,0 4.8,0a2.4,2.4 0 1,0 -4.8,0M425.0,141.8a2.3,2.3 0 1,0 4.6,0a2.3,2.3 0 1,0 -4.6,0M426.7,142.3a2.2,2.2 0 1,0 4.4,0a2.2,2.2 0 1,0 -4.4,0M428.8,142.6a2.2,2.2 0 1,0 4.5,0a2.2,2.2 0 1,0 -4.5,0M429.7,147.9a2.4,2.4 0 1,0 4.8,0a2.4,2.4 0 1,0 -4.8,0M433.1,149.9a2.1,2.1 0 1,0 4.1,0a2.1,2.1 0 1,0 -4.1,0M431.7,151.1a2.4,2.4 0 1,0 4.7,0a2.4,2.4 0 1,0 -4.7,0M435.2,151.6a2.3,2.3 0 1,0 4.5,0a2.3,2.3 0 1,0 -4.5,0M436.2,153.8a2.3,2.3 0 1,0 4.7,0a2.3,2.3 0 1,0 -4.7,0M439.3,152.9a2.3,2.3 0 1,0 4.6,0a2.3,2.3 0 1,0 -4.6,0" fill="#D95319"/>
<path d="M282.0,169.2 L283.9,166.3 L287.8,165.3 L290.8,167.8 L293.7,169.2 L298.6,168.7 L301.5,165.3 L305.4,162.9 L308.4,164.3 L309.4,169.2 L313.3,169.7 L316.2,169.2 L317.7,164.3 L318.7,160.4 L322.9,159.0 L325.8,161.4 L326.3,164.3M327.8,168.3 L330.7,170.2 L334.6,167.3 L337.6,162.4 L341.5,160.4 L344.4,164.3 L347.4,168.3 L351.3,168.7 L352.7,163.4 L354.2,158.5 L357.1,161.4 L360.0,163.7 L362.9,167.6 L366.9,170.1 L369.9,170.6M370.8,159.7 L372.8,156.8 L376.8,157.7M379.7,168.6 L383.7,169.6 L386.7,168.6 L389.6,162.7 L392.6,159.7 L395.6,161.7 L397.6,167.6 L400.5,169.6 L404.2,171.2 L406.2,169.1M407.3,165.0 L410.4,161.9 L414.5,162.4 L414.5,165.0M415.5,170.2 L419.7,169.6 L422.3,170.7M423.8,164.0 L426.9,159.8 L431.1,158.8M432.1,168.1 L436.2,169.6 L440.4,171.2" fill="none" stroke="#D95319" stroke-width="3.2" stroke-linecap="round" stroke-linejoin="round"/><path d="M279.3,170.3a2.3,2.3 0 1,0 4.6,0a2.3,2.3 0 1,0 -4.6,0M279.8,167.7a2.2,2.2 0 1,0 4.3,0a2.2,2.2 0 1,0 -4.3,0M281.2,166.1a2.1,2.1 0 1,0 4.1,0a2.1,2.1 0 1,0 -4.1,0M283.1,166.3a2.4,2.4 0 1,0 4.8,0a2.4,2.4 0 1,0 -4.8,0M285.0,165.4a2.1,2.1 0 1,0 4.3,0a2.1,2.1 0 1,0 -4.3,0M287.3,167.2a2.1,2.1 0 1,0 4.2,0a2.1,2.1 0 1,0 -4.2,0M290.0,167.9a2.2,2.2 0 1,0 4.4,0a2.2,2.2 0 1,0 -4.4,0M290.7,169.5a2.1,2.1 0 1,0 4.3,0a2.1,2.1 0 1,0 -4.3,0M294.1,169.2a2.1,2.1 0 1,0 4.3,0a2.1,2.1 0 1,0 -4.3,0M296.0,169.8a2.2,2.2 0 1,0 4.5,0a2.2,2.2 0 1,0 -4.5,0M298.3,166.8a2.4,2.4 0 1,0 4.7,0a2.4,2.4 0 1,0 -4.7,0M299.1,165.2a2.1,2.1 0 1,0 4.2,0a2.1,2.1 0 1,0 -4.2,0M299.5,163.1a2.2,2.2 0 1,0 4.3,0a2.2,2.2 0 1,0 -4.3,0M303.2,162.2a2.4,2.4 0 1,0 4.7,0a2.4,2.4 0 1,0 -4.7,0M306.8,164.6a2.4,2.4 0 1,0 4.7,0a2.4,2.4 0 1,0 -4.7,0M306.8,167.3a2.0,2.0 0 1,0 4.1,0a2.0,2.0 0 1,0 -4.1,0M307.4,169.7a2.3,2.3 0 1,0 4.6,0a2.3,2.3 0 1,0 -4.6,0M309.4,170.1a2.1,2.1 0 1,0 4.2,0a2.1,2.1 0 1,0 -4.2,0M309.9,168.9a2.3,2.3 0 1,0 4.5,0a2.3,2.3 0 1,0 -4.5,0M314.2,170.3a2.4,2.4 0 1,0 4.8,0a2.4,2.4 0 1,0 -4.8,0M314.1,167.4a2.3,2.3 0 1,0 4.7,0a2.3,2.3 0 1,0 -4.7,0M315.6,165.5a2.1,2.1 0 1,0 4.2,0a2.1,2.1 0 1,0 -4.2,0M315.7,165.1a2.4,2.4 0 1,0 4.7,0a2.4,2.4 0 1,0 -4.7,0M315.1,161.1a2.1,2.1 0 1,0 4.2,0a2.1,2.1 0 1,0 -4.2,0M315.9,161.4a2.3,2.3 0 1,0 4.5,0a2.3,2.3 0 1,0 -4.5,0M317.8,160.3a2.2,2.2 0 1,0 4.3,0a2.2,2.2 0 1,0 -4.3,0M321.5,159.3a2.1,2.1 0 1,0 4.1,0a2.1,2.1 0 1,0 -4.1,0M321.7,159.7a2.2,2.2 0 1,0 4.4,0a2.2,2.2 0 1,0 -4.4,0M323.2,161.1a2.2,2.2 0 1,0 4.4,0a2.2,2.2 0 1,0 -4.4,0M325.6,164.4a2.2,2.2 0 1,0 4.5,0a2.2,2.2 0 1,0 -4.5,0M325.8,168.3a2.3,2.3 0 1,0 4.5,0a2.3,2.3 0 1,0 -4.5,0M327.1,168.6a2.1,2.1 0 1,0 4.1,0a2.1,2.1 0 1,0 -4.1,0M328.6,170.5a2.3,2.3 0 1,0 4.6,0a2.3,2.3 0 1,0 -4.6,0M331.5,169.4a2.2,2.2 0 1,0 4.4,0a2.2,2.2 0 1,0 -4.4,0M331.5,167.1a2.2,2.2 0 1,0 4.5,0a2.2,2.2 0 1,0 -4.5,0M332.9,164.9a2.2,2.2 0 1,0 4.3,0a2.2,2.2 0 1,0 -4.3,0M334.3,163.5a2.3,2.3 0 1,0 4.6,0a2.3,2.3 0 1,0 -4.6,0M335.5,161.2a2.2,2.2 0 1,0 4.3,0a2.2,2.2 0 1,0 -4.3,0M337.6,159.5a2.2,2.2 0 1,0 4.4,0a2.2,2.2 0 1,0 -4.4,0M339.0,161.2a2.4,2.4 0 1,0 4.8,0a2.4,2.4 0 1,0 -4.8,0M340.8,162.4a2.2,2.2 0 1,0 4.4,0a2.2,2.2 0 1,0 -4.4,0M341.6,163.3a2.2,2.2 0 1,0 4.3,0a2.2,2.2 0 1,0 -4.3,0M344.1,166.3a2.3,2.3 0 1,0 4.6,0a2.3,2.3 0 1,0 -4.6,0M345.5,168.4a2.1,2.1 0 1,0 4.2,0a2.1,2.1 0 1,0 -4.2,0M347.9,168.8a2.2,2.2 0 1,0 4.5,0a2.2,2.2 0 1,0 -4.5,0M349.8,170.2a2.2,2.2 0 1,0 4.3,0a2.2,2.2 0 1,0 -4.3,0M349.7,167.3a2.3,2.3 0 1,0 4.6,0a2.3,2.3 0 1,0 -4.6,0M350.5,165.0a2.1,2.1 0 1,0 4.1,0a2.1,2.1 0 1,0 -4.1,0M350.4,162.9a2.4,2.4 0 1,0 4.8,0a2.4,2.4 0 1,0 -4.8,0M350.0,161.8a2.2,2.2 0 1,0 4.3,0a2.2,2.2 0 1,0 -4.3,0M351.8,159.4a2.2,2.2 0 1,0 4.3,0a2.2,2.2 0 1,0 -4.3,0M352.2,158.3a2.3,2.3 0 1,0 4.6,0a2.3,2.3 0 1,0 -4.6,0M354.4,160.4a2.2,2.2 0 1,0 4.4,0a2.2,2.2 0 1,0 -4.4,0M355.0,161.2a2.2,2.2 0 1,0 4.5,0a2.2,2.2 0 1,0 -4.5,0M354.8,163.4a2.4,2.4 0 1,0 4.8,0a2.4,2.4 0 1,0 -4.8,0M357.5,163.3a2.1,2.1 0 1,0 4.3,0a2.1,2.1 0 1,0 -4.3,0M359.3,166.4a2.1,2.1 0 1,0 4.2,0a2.1,2.1 0 1,0 -4.2,0M361.0,168.7a2.3,2.3 0 1,0 4.5,0a2.3,2.3 0 1,0 -4.5,0M362.1,171.0a2.1,2.1 0 1,0 4.2,0a2.1,2.1 0 1,0 -4.2,0M364.2,169.9a2.4,2.4 0 1,0 4.7,0a2.4,2.4 0 1,0 -4.7,0M368.0,170.2a2.3,2.3 0 1,0 4.6,0a2.3,2.3 0 1,0 -4.6,0M368.9,159.2a2.2,2.2 0 1,0 4.3,0a2.2,2.2 0 1,0 -4.3,0M368.2,158.4a2.1,2.1 0 1,0 4.2,0a2.1,2.1 0 1,0 -4.2,0M370.2,155.9a2.2,2.2 0 1,0 4.4,0a2.2,2.2 0 1,0 -4.4,0M371.4,156.6a2.1,2.1 0 1,0 4.2,0a2.1,2.1 0 1,0 -4.2,0M375.0,157.3a2.3,2.3 0 1,0 4.6,0a2.3,2.3 0 1,0 -4.6,0M376.4,163.7a2.4,2.4 0 1,0 4.8,0a2.4,2.4 0 1,0 -4.8,0M377.6,168.3a2.4,2.4 0 1,0 4.7,0a2.4,2.4 0 1,0 -4.7,0M380.2,169.1a2.0,2.0 0 1,0 4.1,0a2.0,2.0 0 1,0 -4.1,0M383.1,170.8a2.0,2.0 0 1,0 4.1,0a2.0,2.0 0 1,0 -4.1,0M384.7,168.4a2.3,2.3 0 1,0 4.6,0a2.3,2.3 0 1,0 -4.6,0M385.7,166.9a2.3,2.3 0 1,0 4.6,0a2.3,2.3 0 1,0 -4.6,0M386.8,165.0a2.4,2.4 0 1,0 4.7,0a2.4,2.4 0 1,0 -4.7,0M386.9,161.3a2.4,2.4 0 1,0 4.8,0a2.4,2.4 0 1,0 -4.8,0M389.3,161.3a2.3,2.3 0 1,0 4.7,0a2.3,2.3 0 1,0 -4.7,0M390.3,159.5a2.2,2.2 0 1,0 4.4,0a2.2,2.2 0 1,0 -4.4,0M392.1,161.4a2.1,2.1 0 1,0 4.2,0a2.1,2.1 0 1,0 -4.2,0M395.6,162.0a2.2,2.2 0 1,0 4.3,0a2.2,2.2 0 1,0 -4.3,0M394.3,163.4a2.2,2.2 0 1,0 4.4,0a2.2,2.2 0 1,0 -4.4,0M395.3,166.2a2.1,2.1 0 1,0 4.2,0a2.1,2.1 0 1,0 -4.2,0M395.1,167.2a2.3,2.3 0 1,0 4.6,0a2.3,2.3 0 1,0 -4.6,0M396.5,168.6a2.2,2.2 0 1,0 4.3,0a2.2,2.2 0 1,0 -4.3,0M396.8,169.6a2.2,2.2 0 1,0 4.3,0a2.2,2.2 0 1,0 -4.3,0M400.4,172.2a2.4,2.4 0 1,0 4.7,0a2.4,2.4 0 1,0 -4.7,0M402.0,170.6a2.1,2.1 0 1,0 4.2,0a2.1,2.1 0 1,0 -4.2,0M404.1,169.4a2.1,2.1 0 1,0 4.1,0a2.1,2.1 0 1,0 -4.1,0M404.3,165.0a2.2,2.2 0 1,0 4.5,0a2.2,2.2 0 1,0 -4.5,0M406.5,163.5a2.3,2.3 0 1,0 4.6,0a2.3,2.3 0 1,0 -4.6,0M407.7,161.2a2.2,2.2 0 1,0 4.5,0a2.2,2.2 0 1,0 -4.5,0M409.4,160.3a2.4,2.4 0 1,0 4.7,0a2.4,2.4 0 1,0 -4.7,0M412.2,161.7a2.2,2.2 0 1,0 4.3,0a2.2,2.2 0 1,0 -4.3,0M410.7,165.9a2.2,2.2 0 1,0 4.4,0a2.2,2.2 0 1,0 -4.4,0M412.9,170.7a2.1,2.1 0 1,0 4.2,0a2.1,2.1 0 1,0 -4.2,0M415.4,169.9a2.3,2.3 0 1,0 4.5,0a2.3,2.3 0 1,0 -4.5,0M417.9,169.4a2.3,2.3 0 1,0 4.5,0a2.3,2.3 0 1,0 -4.5,0M419.8,171.1a2.1,2.1 0 1,0 4.2,0a2.1,2.1 0 1,0 -4.2,0M422.5,164.9a2.3,2.3 0 1,0 4.6,0a2.3,2.3 0 1,0 -4.6,0M422.7,162.5a2.3,2.3 0 1,0 4.6,0a2.3,2.3 0 1,0 -4.6,0M423.2,162.1a2.2,2.2 0 1,0 4.5,0a2.2,2.2 0 1,0 -4.5,0M424.1,161.5a2.0,2.0 0 1,0 4.1,0a2.0,2.0 0 1,0 -4.1,0M426.7,157.9a2.2,2.2 0 1,0 4.4,0a2.2,2.2 0 1,0 -4.4,0M427.1,157.6a2.1,2.1 0 1,0 4.2,0a2.1,2.1 0 1,0 -4.2,0M429.1,167.3a2.2,2.2 0 1,0 4.4,0a2.2,2.2 0 1,0 -4.4,0M431.8,168.2a2.2,2.2 0 1,0 4.5,0a2.2,2.2 0 1,0 -4.5,0M433.2,168.9a2.2,2.2 0 1,0 4.3,0a2.2,2.2 0 1,0 -4.3,0M435.6,169.8a2.1,2.1 0 1,0 4.2,0a2.1,2.1 0 1,0 -4.2,0M437.6,170.8a2.4,2.4 0 1,0 4.7,0a2.4,2.4 0 1,0 -4.7,0" fill="#D95319"/>
<path d="M56.9,282.8 L58.8,273.2 L62.6,263.7 L66.5,259.8 L69.3,268.4 L72.2,280.8 L74.1,284.7 L77.0,273.2 L79.8,257.9 L82.7,248.4 L84.6,249.3M86.5,273.2 L90.3,282.8 L93.2,286.6M94.7,257.9 L96.1,248.4 L98.9,242.6 L101.8,244.6M104.7,275.1 L107.5,286.6 L110.4,291.4 L114.2,280.8 L117.1,269.4 L119.0,265.6 L121.9,273.2 L124.7,284.7 L127.6,292.3 L130.5,280.8 L133.3,265.6 L135.2,256.0 L137.5,254.0M140.2,288.2 L143.4,294.5 L146.5,292.4M148.6,258.9 L151.8,251.5 L154.9,249.4M157.0,288.2 L160.2,296.6 L163.3,302.9 L166.4,292.4 L169.6,284.0 L171.7,280.9 L173.8,288.2 L175.9,298.7 L179.0,307.1 L182.2,296.6 L185.3,284.0 L188.5,275.6 L190.6,274.6M194.7,307.1 L197.9,314.4M202.1,286.1 L205.2,275.6 L208.4,271.4M210.5,307.1 L213.6,315.5 L216.8,321.8 L218.9,323.9" fill="none" stroke="#0072BD" stroke-width="3.2" stroke-linecap="round" stroke-linejoin="round"/><path d="M53.6,283.0a2.2,2.2 0 1,0 4.5,0a2.2,2.2 0 1,0 -4.5,0M54.7,281.0a2.1,2.1 0 1,0 4.2,0a2.1,2.1 0 1,0 -4.2,0M56.2,278.6a2.2,2.2 0 1,0 4.5,0a2.2,2.2 0 1,0 -4.5,0M54.7,276.8a2.1,2.1 0 1,0 4.3,0a2.1,2.1 0 1,0 -4.3,0M56.8,276.3a2.2,2.2 0 1,0 4.4,0a2.2,2.2 0 1,0 -4.4,0M55.6,272.2a2.4,2.4 0 1,0 4.7,0a2.4,2.4 0 1,0 -4.7,0M57.4,271.5a2.2,2.2 0 1,0 4.4,0a2.2,2.2 0 1,0 -4.4,0M58.6,268.9a2.1,2.1 0 1,0 4.2,0a2.1,2.1 0 1,0 -4.2,0M58.9,268.9a2.1,2.1 0 1,0 4.2,0a2.1,2.1 0 1,0 -4.2,0M58.3,267.9a2.2,2.2 0 1,0 4.5,0a2.2,2.2 0 1,0 -4.5,0M59.5,265.4a2.2,2.2 0 1,0 4.4,0a2.2,2.2 0 1,0 -4.4,0M61.5,263.7a2.2,2.2 0 1,0 4.4,0a2.2,2.2 0 1,0 -4.4,0M60.3,262.6a2.3,2.3 0 1,0 4.6,0a2.3,2.3 0 1,0 -4.6,0M63.6,262.0a2.2,2.2 0 1,0 4.3,0a2.2,2.2 0 1,0 -4.3,0M63.8,259.7a2.2,2.2 0 1,0 4.3,0a2.2,2.2 0 1,0 -4.3,0M64.6,262.1a2.0,2.0 0 1,0 4.1,0a2.0,2.0 0 1,0 -4.1,0M65.8,264.1a2.1,2.1 0 1,0 4.1,0a2.1,2.1 0 1,0 -4.1,0M66.5,266.0a2.1,2.1 0 1,0 4.3,0a2.1,2.1 0 1,0 -4.3,0M66.2,267.1a2.3,2.3 0 1,0 4.7,0a2.3,2.3 0 1,0 -4.7,0M67.8,268.9a2.3,2.3 0 1,0 4.7,0a2.3,2.3 0 1,0 -4.7,0M67.6,270.9a2.3,2.3 0 1,0 4.7,0a2.3,2.3 0 1,0 -4.7,0M67.6,271.5a2.1,2.1 0 1,0 4.1,0a2.1,2.1 0 1,0 -4.1,0M67.6,274.0a2.3,2.3 0 1,0 4.6,0a2.3,2.3 0 1,0 -4.6,0M68.5,276.2a2.3,2.3 0 1,0 4.5,0a2.3,2.3 0 1,0 -4.5,0M69.4,276.7a2.2,2.2 0 1,0 4.4,0a2.2,2.2 0 1,0 -4.4,0M68.3,278.3a2.1,2.1 0 1,0 4.2,0a2.1,2.1 0 1,0 -4.2,0M71.1,280.6a2.2,2.2 0 1,0 4.3,0a2.2,2.2 0 1,0 -4.3,0M70.8,282.2a2.1,2.1 0 1,0 4.1,0a2.1,2.1 0 1,0 -4.1,0M71.9,284.0a2.2,2.2 0 1,0 4.5,0a2.2,2.2 0 1,0 -4.5,0M70.8,282.8a2.3,2.3 0 1,0 4.6,0a2.3,2.3 0 1,0 -4.6,0M73.8,281.0a2.2,2.2 0 1,0 4.4,0a2.2,2.2 0 1,0 -4.4,0M72.1,279.3a2.2,2.2 0 1,0 4.4,0a2.2,2.2 0 1,0 -4.4,0M72.4,277.3a2.2,2.2 0 1,0 4.4,0a2.2,2.2 0 1,0 -4.4,0M73.3,275.2a2.3,2.3 0 1,0 4.7,0a2.3,2.3 0 1,0 -4.7,0M74.3,272.2a2.2,2.2 0 1,0 4.4,0a2.2,2.2 0 1,0 -4.4,0M76.1,271.8a2.2,2.2 0 1,0 4.5,0a2.2,2.2 0 1,0 -4.5,0M75.7,268.6a2.1,2.1 0 1,0 4.2,0a2.1,2.1 0 1,0 -4.2,0M75.7,268.4a2.3,2.3 0 1,0 4.7,0a2.3,2.3 0 1,0 -4.7,0M76.2,266.6a2.3,2.3 0 1,0 4.6,0a2.3,2.3 0 1,0 -4.6,0M76.1,264.6a2.3,2.3 0 1,0 4.6,0a2.3,2.3 0 1,0 -4.6,0M76.6,262.2a2.1,2.1 0 1,0 4.1,0a2.1,2.1 0 1,0 -4.1,0M76.7,260.6a2.3,2.3 0 1,0 4.5,0a2.3,2.3 0 1,0 -4.5,0M78.4,259.6a2.4,2.4 0 1,0 4.7,0a2.4,2.4 0 1,0 -4.7,0M78.0,258.4a2.2,2.2 0 1,0 4.5,0a2.2,2.2 0 1,0 -4.5,0M80.3,256.1a2.1,2.1 0 1,0 4.3,0a2.1,2.1 0 1,0 -4.3,0M78.8,254.7a2.1,2.1 0 1,0 4.3,0a2.1,2.1 0 1,0 -4.3,0M79.9,251.5a2.2,2.2 0 1,0 4.4,0a2.2,2.2 0 1,0 -4.4,0M79.8,250.4a2.1,2.1 0 1,0 4.3,0a2.1,2.1 0 1,0 -4.3,0M81.2,247.5a2.3,2.3 0 1,0 4.7,0a2.3,2.3 0 1,0 -4.7,0M82.5,249.8a2.1,2.1 0 1,0 4.1,0a2.1,2.1 0 1,0 -4.1,0M83.6,273.0a2.2,2.2 0 1,0 4.4,0a2.2,2.2 0 1,0 -4.4,0M84.0,274.9a2.2,2.2 0 1,0 4.3,0a2.2,2.2 0 1,0 -4.3,0M85.5,276.0a2.4,2.4 0 1,0 4.7,0a2.4,2.4 0 1,0 -4.7,0M86.0,277.9a2.2,2.2 0 1,0 4.3,0a2.2,2.2 0 1,0 -4.3,0M86.1,279.5a2.2,2.2 0 1,0 4.5,0a2.2,2.2 0 1,0 -4.5,0M87.1,281.7a2.3,2.3 0 1,0 4.7,0a2.3,2.3 0 1,0 -4.7,0M87.7,283.9a2.3,2.3 0 1,0 4.7,0a2.3,2.3 0 1,0 -4.7,0M88.7,284.3a2.4,2.4 0 1,0 4.8,0a2.4,2.4 0 1,0 -4.8,0M89.8,287.1a2.1,2.1 0 1,0 4.1,0a2.1,2.1 0 1,0 -4.1,0M91.7,258.3a2.1,2.1 0 1,0 4.1,0a2.1,2.1 0 1,0 -4.1,0M92.9,255.8a2.3,2.3 0 1,0 4.5,0a2.3,2.3 0 1,0 -4.5,0M93.7,255.5a2.2,2.2 0 1,0 4.5,0a2.2,2.2 0 1,0 -4.5,0M93.5,251.4a2.3,2.3 0 1,0 4.6,0a2.3,2.3 0 1,0 -4.6,0M93.4,249.8a2.1,2.1 0 1,0 4.2,0a2.1,2.1 0 1,0 -4.2,0M93.9,248.1a2.4,2.4 0 1,0 4.7,0a2.4,2.4 0 1,0 -4.7,0M95.0,246.8a2.1,2.1 0 1,0 4.1,0a2.1,2.1 0 1,0 -4.1,0M96.1,242.9a2.2,2.2 0 1,0 4.4,0a2.2,2.2 0 1,0 -4.4,0M96.2,242.1a2.4,2.4 0 1,0 4.7,0a2.4,2.4 0 1,0 -4.7,0M98.1,243.2a2.1,2.1 0 1,0 4.1,0a2.1,2.1 0 1,0 -4.1,0M99.4,244.4a2.3,2.3 0 1,0 4.7,0a2.3,2.3 0 1,0 -4.7,0M102.3,275.6a2.2,2.2 0 1,0 4.5,0a2.2,2.2 0 1,0 -4.5,0M102.7,277.8a2.1,2.1 0 1,0 4.2,0a2.1,2.1 0 1,0 -4.2,0M103.8,278.6a2.3,2.3 0 1,0 4.7,0a2.3,2.3 0 1,0 -4.7,0M104.4,281.9a2.4,2.4 0 1,0 4.8,0a2.4,2.4 0 1,0 -4.8,0M104.2,282.9a2.2,2.2 0 1,0 4.4,0a2.2,2.2 0 1,0 -4.4,0M104.5,284.3a2.2,2.2 0 1,0 4.5,0a2.2,2.2 0 1,0 -4.5,0M105.8,287.0a2.3,2.3 0 1,0 4.6,0a2.3,2.3 0 1,0 -4.6,0M105.4,288.7a2.1,2.1 0 1,0 4.2,0a2.1,2.1 0 1,0 -4.2,0M107.2,289.5a2.4,2.4 0 1,0 4.7,0a2.4,2.4 0 1,0 -4.7,0M109.8,291.4a2.2,2.2 0 1,0 4.5,0a2.2,2.2 0 1,0 -4.5,0M108.6,290.3a2.3,2.3 0 1,0 4.6,0a2.3,2.3 0 1,0 -4.6,0M108.0,287.9a2.1,2.1 0 1,0 4.1,0a2.1,2.1 0 1,0 -4.1,0M108.7,286.2a2.3,2.3 0 1,0 4.5,0a2.3,2.3 0 1,0 -4.5,0M110.6,284.3a2.1,2.1 0 1,0 4.2,0a2.1,2.1 0 1,0 -4.2,0M111.0,284.0a2.3,2.3 0 1,0 4.7,0a2.3,2.3 0 1,0 -4.7,0M112.4,282.4a2.1,2.1 0 1,0 4.1,0a2.1,2.1 0 1,0 -4.1,0M111.0,277.8a2.2,2.2 0 1,0 4.3,0a2.2,2.2 0 1,0 -4.3,0M114.1,276.6a2.1,2.1 0 1,0 4.1,0a2.1,2.1 0 1,0 -4.1,0M113.1,275.8a2.1,2.1 0 1,0 4.3,0a2.1,2.1 0 1,0 -4.3,0M113.8,272.8a2.3,2.3 0 1,0 4.6,0a2.3,2.3 0 1,0 -4.6,0M114.3,271.6a2.2,2.2 0 1,0 4.5,0a2.2,2.2 0 1,0 -4.5,0M115.5,269.9a2.3,2.3 0 1,0 4.6,0a2.3,2.3 0 1,0 -4.6,0M115.4,267.1a2.1,2.1 0 1,0 4.1,0a2.1,2.1 0 1,0 -4.1,0M116.4,265.6a2.3,2.3 0 1,0 4.5,0a2.3,2.3 0 1,0 -4.5,0M118.2,268.2a2.2,2.2 0 1,0 4.3,0a2.2,2.2 0 1,0 -4.3,0M117.6,270.1a2.1,2.1 0 1,0 4.2,0a2.1,2.1 0 1,0 -4.2,0M119.8,272.8a2.2,2.2 0 1,0 4.3,0a2.2,2.2 0 1,0 -4.3,0M120.5,272.0a2.2,2.2 0 1,0 4.4,0a2.2,2.2 0 1,0 -4.4,0M120.2,275.4a2.4,2.4 0 1,0 4.7,0a2.4,2.4 0 1,0 -4.7,0M121.2,277.6a2.2,2.2 0 1,0 4.5,0a2.2,2.2 0 1,0 -4.5,0M121.8,279.5a2.1,2.1 0 1,0 4.2,0a2.1,2.1 0 1,0 -4.2,0M120.8,280.7a2.2,2.2 0 1,0 4.3,0a2.2,2.2 0 1,0 -4.3,0M122.3,283.5a2.1,2.1 0 1,0 4.2,0a2.1,2.1 0 1,0 -4.2,0M122.7,285.1a2.4,2.4 0 1,0 4.7,0a2.4,2.4 0 1,0 -4.7,0M121.9,286.6a2.0,2.0 0 1,0 4.1,0a2.0,2.0 0 1,0 -4.1,0M124.6,288.2a2.3,2.3 0 1,0 4.6,0a2.3,2.3 0 1,0 -4.6,0M123.8,289.9a2.1,2.1 0 1,0 4.2,0a2.1,2.1 0 1,0 -4.2,0M125.5,291.9a2.1,2.1 0 1,0 4.3,0a2.1,2.1 0 1,0 -4.3,0M126.5,290.5a2.2,2.2 0 1,0 4.5,0a2.2,2.2 0 1,0 -4.5,0M126.1,289.9a2.1,2.1 0 1,0 4.1,0a2.1,2.1 0 1,0 -4.1,0M126.3,286.3a2.3,2.3 0 1,0 4.5,0a2.3,2.3 0 1,0 -4.5,0M127.7,283.6a2.1,2.1 0 1,0 4.1,0a2.1,2.1 0 1,0 -4.1,0M127.6,283.7a2.4,2.4 0 1,0 4.8,0a2.4,2.4 0 1,0 -4.8,0M129.1,281.0a2.3,2.3 0 1,0 4.6,0a2.3,2.3 0 1,0 -4.6,0M128.7,278.5a2.3,2.3 0 1,0 4.7,0a2.3,2.3 0 1,0 -4.7,0M127.5,277.8a2.0,2.0 0 1,0 4.1,0a2.0,2.0 0 1,0 -4.1,0M129.9,275.5a2.2,2.2 0 1,0 4.4,0a2.2,2.2 0 1,0 -4.4,0M129.9,274.3a2.3,2.3 0 1,0 4.6,0a2.3,2.3 0 1,0 -4.6,0M129.7,272.0a2.2,2.2 0 1,0 4.3,0a2.2,2.2 0 1,0 -4.3,0M130.5,271.0a2.1,2.1 0 1,0 4.2,0a2.1,2.1 0 1,0 -4.2,0M129.3,270.6a2.4,2.4 0 1,0 4.8,0a2.4,2.4 0 1,0 -4.8,0M131.0,266.5a2.2,2.2 0 1,0 4.4,0a2.2,2.2 0 1,0 -4.4,0M131.3,264.1a2.3,2.3 0 1,0 4.6,0a2.3,2.3 0 1,0 -4.6,0M131.1,263.3a2.3,2.3 0 1,0 4.5,0a2.3,2.3 0 1,0 -4.5,0M132.7,260.7a2.1,2.1 0 1,0 4.1,0a2.1,2.1 0 1,0 -4.1,0M132.2,259.2a2.1,2.1 0 1,0 4.2,0a2.1,2.1 0 1,0 -4.2,0M133.5,257.7a2.3,2.3 0 1,0 4.6,0a2.3,2.3 0 1,0 -4.6,0M133.7,257.0a2.4,2.4 0 1,0 4.8,0a2.4,2.4 0 1,0 -4.8,0M136.1,253.3a2.3,2.3 0 1,0 4.7,0a2.3,2.3 0 1,0 -4.7,0M138.3,287.3a2.2,2.2 0 1,0 4.4,0a2.2,2.2 0 1,0 -4.4,0M139.2,288.7a2.4,2.4 0 1,0 4.7,0a2.4,2.4 0 1,0 -4.7,0M139.0,293.0a2.2,2.2 0 1,0 4.5,0a2.2,2.2 0 1,0 -4.5,0M140.5,292.8a2.4,2.4 0 1,0 4.8,0a2.4,2.4 0 1,0 -4.8,0M141.2,294.0a2.3,2.3 0 1,0 4.7,0a2.3,2.3 0 1,0 -4.7,0M142.8,293.9a2.2,2.2 0 1,0 4.4,0a2.2,2.2 0 1,0 -4.4,0M144.2,293.2a2.4,2.4 0 1,0 4.7,0a2.4,2.4 0 1,0 -4.7,0M146.0,257.9a2.2,2.2 0 1,0 4.4,0a2.2,2.2 0 1,0 -4.4,0M147.4,255.8a2.3,2.3 0 1,0 4.6,0a2.3,2.3 0 1,0 -4.6,0M149.2,254.7a2.2,2.2 0 1,0 4.4,0a2.2,2.2 0 1,0 -4.4,0M149.5,253.9a2.3,2.3 0 1,0 4.7,0a2.3,2.3 0 1,0 -4.7,0M149.0,252.3a2.3,2.3 0 1,0 4.7,0a2.3,2.3 0 1,0 -4.7,0M151.2,250.4a2.2,2.2 0 1,0 4.4,0a2.2,2.2 0 1,0 -4.4,0M152.9,249.4a2.3,2.3 0 1,0 4.7,0a2.3,2.3 0 1,0 -4.7,0M154.0,288.7a2.2,2.2 0 1,0 4.4,0a2.2,2.2 0 1,0 -4.4,0M155.2,290.3a2.2,2.2 0 1,0 4.3,0a2.2,2.2 0 1,0 -4.3,0M156.7,290.8a2.1,2.1 0 1,0 4.3,0a2.1,2.1 0 1,0 -4.3,0M157.1,293.5a2.3,2.3 0 1,0 4.6,0a2.3,2.3 0 1,0 -4.6,0M156.3,295.3a2.3,2.3 0 1,0 4.7,0a2.3,2.3 0 1,0 -4.7,0M158.9,297.3a2.1,2.1 0 1,0 4.1,0a2.1,2.1 0 1,0 -4.1,0M159.0,297.8a2.1,2.1 0 1,0 4.3,0a2.1,2.1 0 1,0 -4.3,0M160.3,299.6a2.1,2.1 0 1,0 4.2,0a2.1,2.1 0 1,0 -4.2,0M160.9,300.7a2.4,2.4 0 1,0 4.7,0a2.4,2.4 0 1,0 -4.7,0M160.3,303.4a2.4,2.4 0 1,0 4.8,0a2.4,2.4 0 1,0 -4.8,0M159.6,301.1a2.1,2.1 0 1,0 4.2,0a2.1,2.1 0 1,0 -4.2,0M162.3,299.0a2.2,2.2 0 1,0 4.5,0a2.2,2.2 0 1,0 -4.5,0M162.9,297.7a2.4,2.4 0 1,0 4.8,0a2.4,2.4 0 1,0 -4.8,0M162.0,296.3a2.1,2.1 0 1,0 4.3,0a2.1,2.1 0 1,0 -4.3,0M163.5,294.4a2.2,2.2 0 1,0 4.5,0a2.2,2.2 0 1,0 -4.5,0M164.8,291.8a2.2,2.2 0 1,0 4.4,0a2.2,2.2 0 1,0 -4.4,0M166.1,290.1a2.3,2.3 0 1,0 4.6,0a2.3,2.3 0 1,0 -4.6,0M166.3,289.5a2.2,2.2 0 1,0 4.4,0a2.2,2.2 0 1,0 -4.4,0M166.7,287.2a2.3,2.3 0 1,0 4.6,0a2.3,2.3 0 1,0 -4.6,0M166.3,285.2a2.2,2.2 0 1,0 4.5,0a2.2,2.2 0 1,0 -4.5,0M166.7,282.6a2.2,2.2 0 1,0 4.4,0a2.2,2.2 0 1,0 -4.4,0M167.3,283.9a2.1,2.1 0 1,0 4.1,0a2.1,2.1 0 1,0 -4.1,0M170.0,280.0a2.2,2.2 0 1,0 4.5,0a2.2,2.2 0 1,0 -4.5,0M168.8,283.1a2.4,2.4 0 1,0 4.7,0a2.4,2.4 0 1,0 -4.7,0M170.5,283.4a2.1,2.1 0 1,0 4.1,0a2.1,2.1 0 1,0 -4.1,0M170.7,286.7a2.4,2.4 0 1,0 4.8,0a2.4,2.4 0 1,0 -4.8,0M171.9,288.0a2.3,2.3 0 1,0 4.5,0a2.3,2.3 0 1,0 -4.5,0M171.8,289.8a2.2,2.2 0 1,0 4.4,0a2.2,2.2 0 1,0 -4.4,0M172.3,290.7a2.1,2.1 0 1,0 4.3,0a2.1,2.1 0 1,0 -4.3,0M172.7,292.9a2.2,2.2 0 1,0 4.5,0a2.2,2.2 0 1,0 -4.5,0M171.2,296.1a2.3,2.3 0 1,0 4.5,0a2.3,2.3 0 1,0 -4.5,0M173.7,296.0a2.2,2.2 0 1,0 4.4,0a2.2,2.2 0 1,0 -4.4,0M174.7,298.4a2.3,2.3 0 1,0 4.6,0a2.3,2.3 0 1,0 -4.6,0M174.2,300.8a2.2,2.2 0 1,0 4.5,0a2.2,2.2 0 1,0 -4.5,0M175.5,301.0a2.2,2.2 0 1,0 4.3,0a2.2,2.2 0 1,0 -4.3,0M175.9,304.4a2.4,2.4 0 1,0 4.7,0a2.4,2.4 0 1,0 -4.7,0M176.9,306.4a2.1,2.1 0 1,0 4.2,0a2.1,2.1 0 1,0 -4.2,0M176.8,307.3a2.1,2.1 0 1,0 4.3,0a2.1,2.1 0 1,0 -4.3,0M175.8,306.6a2.4,2.4 0 1,0 4.8,0a2.4,2.4 0 1,0 -4.8,0M177.9,304.2a2.4,2.4 0 1,0 4.8,0a2.4,2.4 0 1,0 -4.8,0M178.6,302.4a2.2,2.2 0 1,0 4.4,0a2.2,2.2 0 1,0 -4.4,0M179.4,300.4a2.2,2.2 0 1,0 4.4,0a2.2,2.2 0 1,0 -4.4,0M178.2,299.5a2.1,2.1 0 1,0 4.3,0a2.1,2.1 0 1,0 -4.3,0M180.4,298.1a2.2,2.2 0 1,0 4.4,0a2.2,2.2 0 1,0 -4.4,0M180.8,293.9a2.3,2.3 0 1,0 4.6,0a2.3,2.3 0 1,0 -4.6,0M180.6,293.4a2.3,2.3 0 1,0 4.6,0a2.3,2.3 0 1,0 -4.6,0M180.4,291.4a2.3,2.3 0 1,0 4.6,0a2.3,2.3 0 1,0 -4.6,0M181.8,288.8a2.2,2.2 0 1,0 4.3,0a2.2,2.2 0 1,0 -4.3,0M183.0,287.2a2.1,2.1 0 1,0 4.3,0a2.1,2.1 0 1,0 -4.3,0M182.2,285.4a2.3,2.3 0 1,0 4.6,0a2.3,2.3 0 1,0 -4.6,0M184.3,284.3a2.2,2.2 0 1,0 4.5,0a2.2,2.2 0 1,0 -4.5,0M182.8,283.6a2.1,2.1 0 1,0 4.3,0a2.1,2.1 0 1,0 -4.3,0M184.4,280.9a2.2,2.2 0 1,0 4.5,0a2.2,2.2 0 1,0 -4.5,0M185.1,277.9a2.2,2.2 0 1,0 4.4,0a2.2,2.2 0 1,0 -4.4,0M185.8,277.0a2.2,2.2 0 1,0 4.3,0a2.2,2.2 0 1,0 -4.3,0M185.1,274.2a2.3,2.3 0 1,0 4.5,0a2.3,2.3 0 1,0 -4.5,0M188.0,273.5a2.2,2.2 0 1,0 4.4,0a2.2,2.2 0 1,0 -4.4,0M193.6,306.7a2.2,2.2 0 1,0 4.3,0a2.2,2.2 0 1,0 -4.3,0M192.3,309.7a2.2,2.2 0 1,0 4.3,0a2.2,2.2 0 1,0 -4.3,0M194.6,312.1a2.2,2.2 0 1,0 4.5,0a2.2,2.2 0 1,0 -4.5,0M193.7,312.4a2.4,2.4 0 1,0 4.7,0a2.4,2.4 0 1,0 -4.7,0M196.3,314.9a2.1,2.1 0 1,0 4.1,0a2.1,2.1 0 1,0 -4.1,0M199.0,286.5a2.3,2.3 0 1,0 4.7,0a2.3,2.3 0 1,0 -4.7,0M200.0,283.6a2.2,2.2 0 1,0 4.4,0a2.2,2.2 0 1,0 -4.4,0M200.3,282.3a2.3,2.3 0 1,0 4.7,0a2.3,2.3 0 1,0 -4.7,0M201.9,279.6a2.1,2.1 0 1,0 4.2,0a2.1,2.1 0 1,0 -4.2,0M201.4,278.1a2.2,2.2 0 1,0 4.4,0a2.2,2.2 0 1,0 -4.4,0M203.6,276.5a2.3,2.3 0 1,0 4.6,0a2.3,2.3 0 1,0 -4.6,0M203.3,274.7a2.4,2.4 0 1,0 4.7,0a2.4,2.4 0 1,0 -4.7,0M204.7,275.0a2.3,2.3 0 1,0 4.6,0a2.3,2.3 0 1,0 -4.6,0M204.8,272.4a2.1,2.1 0 1,0 4.1,0a2.1,2.1 0 1,0 -4.1,0M205.2,270.6a2.1,2.1 0 1,0 4.3,0a2.1,2.1 0 1,0 -4.3,0M208.5,307.6a2.1,2.1 0 1,0 4.1,0a2.1,2.1 0 1,0 -4.1,0M207.9,307.1a2.3,2.3 0 1,0 4.7,0a2.3,2.3 0 1,0 -4.7,0M209.0,311.3a2.1,2.1 0 1,0 4.1,0a2.1,2.1 0 1,0 -4.1,0M210.6,311.6a2.0,2.0 0 1,0 4.1,0a2.0,2.0 0 1,0 -4.1,0M210.6,313.5a2.1,2.1 0 1,0 4.3,0a2.1,2.1 0 1,0 -4.3,0M212.1,315.8a2.2,2.2 0 1,0 4.5,0a2.2,2.2 0 1,0 -4.5,0M212.1,316.9a2.3,2.3 0 1,0 4.7,0a2.3,2.3 0 1,0 -4.7,0M213.3,319.0a2.3,2.3 0 1,0 4.5,0a2.3,2.3 0 1,0 -4.5,0M213.4,320.8a2.2,2.2 0 1,0 4.5,0a2.2,2.2 0 1,0 -4.5,0M214.9,323.0a2.1,2.1 0 1,0 4.2,0a2.1,2.1 0 1,0 -4.2,0M217.3,322.8a2.2,2.2 0 1,0 4.5,0a2.2,2.2 0 1,0 -4.5,0" fill="#0072BD"/><path d="M84.6,249.3 L85.0,255.5 L85.4,262.0 L85.8,268.0 L86.5,273.2M93.2,286.6 L93.2,279.5 L93.4,272.5 L94.0,265.5 L94.7,257.9M101.8,244.6 L102.8,252.2 L103.1,259.8 L103.7,267.5 L104.7,275.1M137.5,254.0 L138.1,265.0 L138.6,273.5 L139.2,282.0 L140.2,288.2M146.5,292.4 L146.8,284.0 L147.5,275.0 L148.2,266.5 L148.6,258.9M154.9,249.4 L155.2,263.0 L156.0,272.0 L157.0,281.0 L157.0,288.2M190.6,274.6 L191.6,284.0 L192.6,293.0 L193.7,301.0 L194.7,307.1M197.9,314.4 L200.0,307.0 L201.0,298.0 L202.0,290.0 L202.1,286.1M208.4,271.4 L208.4,290.0 L209.5,296.5 L210.5,302.9 L210.5,307.1" fill="none" stroke="#0072BD" stroke-width="3.6" stroke-linecap="round" stroke-dasharray="0 6.0"/>
<path d="M56.9,231.6 L64.6,233.0 L74.1,233.8 L83.7,234.7 L93.2,235.2 L102.8,235.4 L112.3,236.0 L121.9,236.0 L131.4,236.6 L142.8,236.4 L150.0,237.6 L158.0,236.8 L166.0,237.8 L172.0,237.9 L180.0,237.6 L186.0,236.6 L192.0,238.6 L197.0,237.2 L204.0,239.2 L210.0,238.2 L217.0,238.2" fill="none" stroke="#D95319" stroke-width="4.5" stroke-linecap="round" stroke-linejoin="round"/>
<path d="M57.0,374.2 L58.6,372.9 L60.2,371.7 L61.8,371.0 L63.4,370.5 L65.0,370.5 L66.6,371.3 L68.2,372.8 L69.8,374.6 L71.4,376.2 L73.0,376.5 L74.6,376.8 L76.2,375.6 L77.8,373.5 L79.4,371.4 L81.0,370.1 L82.6,368.8 L84.2,369.5 L85.8,371.9 L87.4,374.2 L89.0,375.8 L90.6,377.5 L92.2,373.1 L93.8,368.4 L95.4,366.2 L97.0,364.5 L98.6,363.3 L100.2,363.0 L101.8,364.4 L103.4,371.4 L105.0,375.4 L106.6,378.2 L108.2,377.8 L109.8,377.4 L111.4,376.1 L113.0,374.8 L114.6,373.7 L116.2,373.0 L117.8,372.3 L119.4,373.1 L121.0,376.4 L122.6,378.8 L124.2,379.0 L125.8,379.2 L127.4,378.1 L129.0,376.5 L130.6,374.9 L132.2,373.7 L133.8,373.3 L135.4,372.8 L137.0,373.9 L138.6,376.7 L140.2,378.8 L141.8,379.3 L143.4,379.7 L145.0,378.8 L146.6,375.7 L148.2,372.8 L149.8,370.6 L151.4,368.4 L153.0,367.7 L154.6,367.3 L156.2,375.0 L157.8,378.6 L159.4,380.2 L161.0,381.2 L162.6,380.4 L164.2,379.7 L165.8,378.8 L167.4,377.7 L169.0,376.6 L170.6,376.6 L172.2,376.6 L173.8,377.6 L175.4,379.8 L177.0,381.6 L178.6,382.2 L180.2,381.9 L181.8,378.7 L183.4,375.6 L185.0,374.4 L186.6,374.2 L188.2,374.0 L189.8,374.1 L191.4,374.5 L193.0,377.9 L194.6,383.1 L196.2,383.6 L197.8,383.9 L199.4,384.1 L201.0,374.3 L202.6,371.3 L204.2,370.5 L205.8,370.0 L207.4,370.3 L209.0,372.9 L210.6,380.2 L212.2,382.3 L213.8,384.2 L215.4,384.7 L217.0,385.2 L217.0,388.4 L215.4,388.9 L213.8,389.4 L212.2,387.3 L210.6,384.6 L209.0,375.6 L207.4,373.0 L205.8,373.3 L204.2,375.0 L202.6,377.2 L201.0,380.9 L199.4,389.5 L197.8,388.8 L196.2,388.1 L194.6,387.3 L193.0,383.3 L191.4,380.3 L189.8,379.1 L188.2,378.2 L186.6,378.7 L185.0,379.1 L183.4,380.5 L181.8,383.9 L180.2,387.3 L178.6,387.5 L177.0,386.5 L175.4,384.5 L173.8,381.9 L172.2,381.2 L170.6,382.0 L169.0,382.8 L167.4,383.9 L165.8,385.0 L164.2,385.6 L162.6,385.9 L161.0,386.1 L159.4,384.8 L157.8,383.0 L156.2,378.8 L154.6,370.4 L153.0,371.3 L151.4,372.5 L149.8,374.7 L148.2,376.9 L146.6,380.0 L145.0,383.5 L143.4,384.7 L141.8,384.4 L140.2,384.2 L138.6,381.7 L137.0,378.2 L135.4,377.2 L133.8,378.1 L132.2,379.1 L130.6,380.3 L129.0,381.7 L127.4,383.1 L125.8,384.0 L124.2,383.8 L122.6,383.6 L121.0,381.0 L119.4,377.4 L117.8,376.9 L116.2,378.3 L114.6,379.6 L113.0,381.1 L111.4,382.7 L109.8,384.1 L108.2,384.2 L106.6,384.4 L105.0,380.3 L103.4,374.7 L101.8,367.7 L100.2,366.7 L98.6,367.4 L97.0,370.4 L95.4,374.4 L93.8,378.3 L92.2,381.4 L90.6,384.3 L89.0,383.4 L87.4,382.4 L85.8,379.0 L84.2,375.6 L82.6,374.3 L81.0,375.6 L79.4,376.9 L77.8,378.7 L76.2,380.6 L74.6,381.7 L73.0,381.7 L71.4,381.7 L69.8,380.6 L68.2,379.3 L66.6,377.8 L65.0,375.8 L63.4,375.3 L61.8,375.8 L60.2,376.6 L58.6,378.8 L57.0,381.1Z" fill="#EDB120"/><path d="M53.9,374.2a2.3,2.3 0 1,0 4.6,0a2.3,2.3 0 1,0 -4.6,0M54.7,381.3a2.3,2.3 0 1,0 4.6,0a2.3,2.3 0 1,0 -4.6,0M56.2,374.0a2.3,2.3 0 1,0 4.6,0a2.3,2.3 0 1,0 -4.6,0M56.7,378.4a2.3,2.3 0 1,0 4.6,0a2.3,2.3 0 1,0 -4.6,0M58.0,370.9a2.3,2.3 0 1,0 4.6,0a2.3,2.3 0 1,0 -4.6,0M58.0,376.0a2.3,2.3 0 1,0 4.6,0a2.3,2.3 0 1,0 -4.6,0M59.1,372.8a2.3,2.3 0 1,0 4.6,0a2.3,2.3 0 1,0 -4.6,0M60.0,377.8a2.3,2.3 0 1,0 4.6,0a2.3,2.3 0 1,0 -4.6,0M61.8,369.4a2.3,2.3 0 1,0 4.6,0a2.3,2.3 0 1,0 -4.6,0M60.4,373.3a2.3,2.3 0 1,0 4.6,0a2.3,2.3 0 1,0 -4.6,0M62.7,371.1a2.3,2.3 0 1,0 4.6,0a2.3,2.3 0 1,0 -4.6,0M63.0,375.1a2.3,2.3 0 1,0 4.6,0a2.3,2.3 0 1,0 -4.6,0M64.6,370.6a2.3,2.3 0 1,0 4.6,0a2.3,2.3 0 1,0 -4.6,0M63.8,377.6a2.3,2.3 0 1,0 4.6,0a2.3,2.3 0 1,0 -4.6,0M65.7,372.7a2.3,2.3 0 1,0 4.6,0a2.3,2.3 0 1,0 -4.6,0M66.3,378.8a2.3,2.3 0 1,0 4.6,0a2.3,2.3 0 1,0 -4.6,0M67.5,374.1a2.3,2.3 0 1,0 4.6,0a2.3,2.3 0 1,0 -4.6,0M67.8,380.4a2.3,2.3 0 1,0 4.6,0a2.3,2.3 0 1,0 -4.6,0M68.6,376.1a2.3,2.3 0 1,0 4.6,0a2.3,2.3 0 1,0 -4.6,0M69.4,380.7a2.3,2.3 0 1,0 4.6,0a2.3,2.3 0 1,0 -4.6,0M71.5,376.5a2.3,2.3 0 1,0 4.6,0a2.3,2.3 0 1,0 -4.6,0M71.4,383.6a2.3,2.3 0 1,0 4.6,0a2.3,2.3 0 1,0 -4.6,0M72.7,376.7a2.3,2.3 0 1,0 4.6,0a2.3,2.3 0 1,0 -4.6,0M71.8,382.0a2.3,2.3 0 1,0 4.6,0a2.3,2.3 0 1,0 -4.6,0M73.1,376.4a2.3,2.3 0 1,0 4.6,0a2.3,2.3 0 1,0 -4.6,0M74.1,381.5a2.3,2.3 0 1,0 4.6,0a2.3,2.3 0 1,0 -4.6,0M75.1,373.2a2.3,2.3 0 1,0 4.6,0a2.3,2.3 0 1,0 -4.6,0M75.7,378.3a2.3,2.3 0 1,0 4.6,0a2.3,2.3 0 1,0 -4.6,0M77.9,371.3a2.3,2.3 0 1,0 4.6,0a2.3,2.3 0 1,0 -4.6,0M76.6,376.7a2.3,2.3 0 1,0 4.6,0a2.3,2.3 0 1,0 -4.6,0M78.5,371.3a2.3,2.3 0 1,0 4.6,0a2.3,2.3 0 1,0 -4.6,0M78.6,376.5a2.3,2.3 0 1,0 4.6,0a2.3,2.3 0 1,0 -4.6,0M79.7,369.1a2.3,2.3 0 1,0 4.6,0a2.3,2.3 0 1,0 -4.6,0M80.7,374.0a2.3,2.3 0 1,0 4.6,0a2.3,2.3 0 1,0 -4.6,0M81.9,371.3a2.3,2.3 0 1,0 4.6,0a2.3,2.3 0 1,0 -4.6,0M82.4,375.7a2.3,2.3 0 1,0 4.6,0a2.3,2.3 0 1,0 -4.6,0M83.5,372.0a2.3,2.3 0 1,0 4.6,0a2.3,2.3 0 1,0 -4.6,0M82.9,379.4a2.3,2.3 0 1,0 4.6,0a2.3,2.3 0 1,0 -4.6,0M85.2,373.7a2.3,2.3 0 1,0 4.6,0a2.3,2.3 0 1,0 -4.6,0M84.7,382.4a2.3,2.3 0 1,0 4.6,0a2.3,2.3 0 1,0 -4.6,0M85.9,376.9a2.3,2.3 0 1,0 4.6,0a2.3,2.3 0 1,0 -4.6,0M87.4,384.1a2.3,2.3 0 1,0 4.6,0a2.3,2.3 0 1,0 -4.6,0M89.1,376.3a2.3,2.3 0 1,0 4.6,0a2.3,2.3 0 1,0 -4.6,0M88.1,383.8a2.3,2.3 0 1,0 4.6,0a2.3,2.3 0 1,0 -4.6,0M90.4,373.4a2.3,2.3 0 1,0 4.6,0a2.3,2.3 0 1,0 -4.6,0M89.1,381.8a2.3,2.3 0 1,0 4.6,0a2.3,2.3 0 1,0 -4.6,0M91.0,367.7a2.3,2.3 0 1,0 4.6,0a2.3,2.3 0 1,0 -4.6,0M90.7,378.7a2.3,2.3 0 1,0 4.6,0a2.3,2.3 0 1,0 -4.6,0M93.6,366.4a2.3,2.3 0 1,0 4.6,0a2.3,2.3 0 1,0 -4.6,0M92.4,375.3a2.3,2.3 0 1,0 4.6,0a2.3,2.3 0 1,0 -4.6,0M95.3,364.2a2.3,2.3 0 1,0 4.6,0a2.3,2.3 0 1,0 -4.6,0M94.4,370.4a2.3,2.3 0 1,0 4.6,0a2.3,2.3 0 1,0 -4.6,0M96.5,364.0a2.3,2.3 0 1,0 4.6,0a2.3,2.3 0 1,0 -4.6,0M96.5,368.0a2.3,2.3 0 1,0 4.6,0a2.3,2.3 0 1,0 -4.6,0M97.4,363.1a2.3,2.3 0 1,0 4.6,0a2.3,2.3 0 1,0 -4.6,0M97.7,365.0a2.3,2.3 0 1,0 4.6,0a2.3,2.3 0 1,0 -4.6,0M98.9,364.0a2.3,2.3 0 1,0 4.6,0a2.3,2.3 0 1,0 -4.6,0M99.0,367.9a2.3,2.3 0 1,0 4.6,0a2.3,2.3 0 1,0 -4.6,0M101.0,370.4a2.3,2.3 0 1,0 4.6,0a2.3,2.3 0 1,0 -4.6,0M101.4,375.3a2.3,2.3 0 1,0 4.6,0a2.3,2.3 0 1,0 -4.6,0M102.6,376.5a2.3,2.3 0 1,0 4.6,0a2.3,2.3 0 1,0 -4.6,0M102.0,379.7a2.3,2.3 0 1,0 4.6,0a2.3,2.3 0 1,0 -4.6,0M104.3,377.2a2.3,2.3 0 1,0 4.6,0a2.3,2.3 0 1,0 -4.6,0M104.6,383.7a2.3,2.3 0 1,0 4.6,0a2.3,2.3 0 1,0 -4.6,0M105.5,377.0a2.3,2.3 0 1,0 4.6,0a2.3,2.3 0 1,0 -4.6,0M105.9,385.2a2.3,2.3 0 1,0 4.6,0a2.3,2.3 0 1,0 -4.6,0M106.9,378.3a2.3,2.3 0 1,0 4.6,0a2.3,2.3 0 1,0 -4.6,0M106.8,384.7a2.3,2.3 0 1,0 4.6,0a2.3,2.3 0 1,0 -4.6,0M108.7,376.7a2.3,2.3 0 1,0 4.6,0a2.3,2.3 0 1,0 -4.6,0M108.9,382.7a2.3,2.3 0 1,0 4.6,0a2.3,2.3 0 1,0 -4.6,0M111.2,375.3a2.3,2.3 0 1,0 4.6,0a2.3,2.3 0 1,0 -4.6,0M111.1,382.1a2.3,2.3 0 1,0 4.6,0a2.3,2.3 0 1,0 -4.6,0M111.6,375.5a2.3,2.3 0 1,0 4.6,0a2.3,2.3 0 1,0 -4.6,0M112.8,378.4a2.3,2.3 0 1,0 4.6,0a2.3,2.3 0 1,0 -4.6,0M113.2,373.5a2.3,2.3 0 1,0 4.6,0a2.3,2.3 0 1,0 -4.6,0M114.6,378.1a2.3,2.3 0 1,0 4.6,0a2.3,2.3 0 1,0 -4.6,0M115.1,371.4a2.3,2.3 0 1,0 4.6,0a2.3,2.3 0 1,0 -4.6,0M115.7,378.6a2.3,2.3 0 1,0 4.6,0a2.3,2.3 0 1,0 -4.6,0M117.8,373.1a2.3,2.3 0 1,0 4.6,0a2.3,2.3 0 1,0 -4.6,0M116.3,377.0a2.3,2.3 0 1,0 4.6,0a2.3,2.3 0 1,0 -4.6,0M119.1,378.1a2.3,2.3 0 1,0 4.6,0a2.3,2.3 0 1,0 -4.6,0M119.0,379.7a2.3,2.3 0 1,0 4.6,0a2.3,2.3 0 1,0 -4.6,0M119.8,378.9a2.3,2.3 0 1,0 4.6,0a2.3,2.3 0 1,0 -4.6,0M120.3,384.0a2.3,2.3 0 1,0 4.6,0a2.3,2.3 0 1,0 -4.6,0M121.3,379.4a2.3,2.3 0 1,0 4.6,0a2.3,2.3 0 1,0 -4.6,0M122.6,385.4a2.3,2.3 0 1,0 4.6,0a2.3,2.3 0 1,0 -4.6,0M122.7,379.8a2.3,2.3 0 1,0 4.6,0a2.3,2.3 0 1,0 -4.6,0M124.0,384.9a2.3,2.3 0 1,0 4.6,0a2.3,2.3 0 1,0 -4.6,0M125.1,377.3a2.3,2.3 0 1,0 4.6,0a2.3,2.3 0 1,0 -4.6,0M125.6,383.8a2.3,2.3 0 1,0 4.6,0a2.3,2.3 0 1,0 -4.6,0M126.0,377.4a2.3,2.3 0 1,0 4.6,0a2.3,2.3 0 1,0 -4.6,0M126.4,381.3a2.3,2.3 0 1,0 4.6,0a2.3,2.3 0 1,0 -4.6,0M128.1,376.2a2.3,2.3 0 1,0 4.6,0a2.3,2.3 0 1,0 -4.6,0M127.5,380.2a2.3,2.3 0 1,0 4.6,0a2.3,2.3 0 1,0 -4.6,0M130.4,374.1a2.3,2.3 0 1,0 4.6,0a2.3,2.3 0 1,0 -4.6,0M129.3,379.9a2.3,2.3 0 1,0 4.6,0a2.3,2.3 0 1,0 -4.6,0M131.7,373.5a2.3,2.3 0 1,0 4.6,0a2.3,2.3 0 1,0 -4.6,0M130.9,377.3a2.3,2.3 0 1,0 4.6,0a2.3,2.3 0 1,0 -4.6,0M133.9,372.1a2.3,2.3 0 1,0 4.6,0a2.3,2.3 0 1,0 -4.6,0M132.5,377.4a2.3,2.3 0 1,0 4.6,0a2.3,2.3 0 1,0 -4.6,0M135.1,374.8a2.3,2.3 0 1,0 4.6,0a2.3,2.3 0 1,0 -4.6,0M134.1,379.5a2.3,2.3 0 1,0 4.6,0a2.3,2.3 0 1,0 -4.6,0M136.1,376.3a2.3,2.3 0 1,0 4.6,0a2.3,2.3 0 1,0 -4.6,0M135.7,380.4a2.3,2.3 0 1,0 4.6,0a2.3,2.3 0 1,0 -4.6,0M138.1,380.2a2.3,2.3 0 1,0 4.6,0a2.3,2.3 0 1,0 -4.6,0M137.1,384.4a2.3,2.3 0 1,0 4.6,0a2.3,2.3 0 1,0 -4.6,0M138.8,380.2a2.3,2.3 0 1,0 4.6,0a2.3,2.3 0 1,0 -4.6,0M139.7,383.6a2.3,2.3 0 1,0 4.6,0a2.3,2.3 0 1,0 -4.6,0M141.1,378.9a2.3,2.3 0 1,0 4.6,0a2.3,2.3 0 1,0 -4.6,0M141.3,384.4a2.3,2.3 0 1,0 4.6,0a2.3,2.3 0 1,0 -4.6,0M142.9,379.9a2.3,2.3 0 1,0 4.6,0a2.3,2.3 0 1,0 -4.6,0M143.2,384.1a2.3,2.3 0 1,0 4.6,0a2.3,2.3 0 1,0 -4.6,0M145.0,376.3a2.3,2.3 0 1,0 4.6,0a2.3,2.3 0 1,0 -4.6,0M143.5,381.1a2.3,2.3 0 1,0 4.6,0a2.3,2.3 0 1,0 -4.6,0M146.2,373.3a2.3,2.3 0 1,0 4.6,0a2.3,2.3 0 1,0 -4.6,0M146.5,377.5a2.3,2.3 0 1,0 4.6,0a2.3,2.3 0 1,0 -4.6,0M147.0,371.4a2.3,2.3 0 1,0 4.6,0a2.3,2.3 0 1,0 -4.6,0M147.8,375.0a2.3,2.3 0 1,0 4.6,0a2.3,2.3 0 1,0 -4.6,0M148.7,368.2a2.3,2.3 0 1,0 4.6,0a2.3,2.3 0 1,0 -4.6,0M148.8,371.8a2.3,2.3 0 1,0 4.6,0a2.3,2.3 0 1,0 -4.6,0M150.1,365.5a2.3,2.3 0 1,0 4.6,0a2.3,2.3 0 1,0 -4.6,0M150.9,370.5a2.3,2.3 0 1,0 4.6,0a2.3,2.3 0 1,0 -4.6,0M153.0,367.4a2.3,2.3 0 1,0 4.6,0a2.3,2.3 0 1,0 -4.6,0M153.1,371.9a2.3,2.3 0 1,0 4.6,0a2.3,2.3 0 1,0 -4.6,0M154.3,374.9a2.3,2.3 0 1,0 4.6,0a2.3,2.3 0 1,0 -4.6,0M153.8,378.2a2.3,2.3 0 1,0 4.6,0a2.3,2.3 0 1,0 -4.6,0M154.7,378.8a2.3,2.3 0 1,0 4.6,0a2.3,2.3 0 1,0 -4.6,0M156.2,381.3a2.3,2.3 0 1,0 4.6,0a2.3,2.3 0 1,0 -4.6,0M156.8,380.4a2.3,2.3 0 1,0 4.6,0a2.3,2.3 0 1,0 -4.6,0M157.7,386.2a2.3,2.3 0 1,0 4.6,0a2.3,2.3 0 1,0 -4.6,0M159.2,380.8a2.3,2.3 0 1,0 4.6,0a2.3,2.3 0 1,0 -4.6,0M159.2,386.2a2.3,2.3 0 1,0 4.6,0a2.3,2.3 0 1,0 -4.6,0M160.0,379.9a2.3,2.3 0 1,0 4.6,0a2.3,2.3 0 1,0 -4.6,0M160.4,386.4a2.3,2.3 0 1,0 4.6,0a2.3,2.3 0 1,0 -4.6,0M162.6,380.2a2.3,2.3 0 1,0 4.6,0a2.3,2.3 0 1,0 -4.6,0M162.1,384.8a2.3,2.3 0 1,0 4.6,0a2.3,2.3 0 1,0 -4.6,0M163.6,379.5a2.3,2.3 0 1,0 4.6,0a2.3,2.3 0 1,0 -4.6,0M164.2,385.3a2.3,2.3 0 1,0 4.6,0a2.3,2.3 0 1,0 -4.6,0M165.4,378.0a2.3,2.3 0 1,0 4.6,0a2.3,2.3 0 1,0 -4.6,0M164.6,384.0a2.3,2.3 0 1,0 4.6,0a2.3,2.3 0 1,0 -4.6,0M166.4,376.7a2.3,2.3 0 1,0 4.6,0a2.3,2.3 0 1,0 -4.6,0M166.3,382.9a2.3,2.3 0 1,0 4.6,0a2.3,2.3 0 1,0 -4.6,0M168.6,377.1a2.3,2.3 0 1,0 4.6,0a2.3,2.3 0 1,0 -4.6,0M168.2,382.1a2.3,2.3 0 1,0 4.6,0a2.3,2.3 0 1,0 -4.6,0M170.2,376.1a2.3,2.3 0 1,0 4.6,0a2.3,2.3 0 1,0 -4.6,0M170.3,382.5a2.3,2.3 0 1,0 4.6,0a2.3,2.3 0 1,0 -4.6,0M171.1,377.6a2.3,2.3 0 1,0 4.6,0a2.3,2.3 0 1,0 -4.6,0M171.8,381.7a2.3,2.3 0 1,0 4.6,0a2.3,2.3 0 1,0 -4.6,0M172.6,379.7a2.3,2.3 0 1,0 4.6,0a2.3,2.3 0 1,0 -4.6,0M173.3,382.4a2.3,2.3 0 1,0 4.6,0a2.3,2.3 0 1,0 -4.6,0M174.8,381.0a2.3,2.3 0 1,0 4.6,0a2.3,2.3 0 1,0 -4.6,0M175.0,387.4a2.3,2.3 0 1,0 4.6,0a2.3,2.3 0 1,0 -4.6,0M176.0,382.5a2.3,2.3 0 1,0 4.6,0a2.3,2.3 0 1,0 -4.6,0M175.5,387.4a2.3,2.3 0 1,0 4.6,0a2.3,2.3 0 1,0 -4.6,0M177.7,382.2a2.3,2.3 0 1,0 4.6,0a2.3,2.3 0 1,0 -4.6,0M177.9,387.0a2.3,2.3 0 1,0 4.6,0a2.3,2.3 0 1,0 -4.6,0M180.3,378.5a2.3,2.3 0 1,0 4.6,0a2.3,2.3 0 1,0 -4.6,0M179.9,384.5a2.3,2.3 0 1,0 4.6,0a2.3,2.3 0 1,0 -4.6,0M180.6,376.1a2.3,2.3 0 1,0 4.6,0a2.3,2.3 0 1,0 -4.6,0M181.0,380.1a2.3,2.3 0 1,0 4.6,0a2.3,2.3 0 1,0 -4.6,0M183.0,373.2a2.3,2.3 0 1,0 4.6,0a2.3,2.3 0 1,0 -4.6,0M182.1,378.7a2.3,2.3 0 1,0 4.6,0a2.3,2.3 0 1,0 -4.6,0M185.0,373.4a2.3,2.3 0 1,0 4.6,0a2.3,2.3 0 1,0 -4.6,0M183.5,377.4a2.3,2.3 0 1,0 4.6,0a2.3,2.3 0 1,0 -4.6,0M186.4,374.2a2.3,2.3 0 1,0 4.6,0a2.3,2.3 0 1,0 -4.6,0M186.4,376.7a2.3,2.3 0 1,0 4.6,0a2.3,2.3 0 1,0 -4.6,0M187.8,374.1a2.3,2.3 0 1,0 4.6,0a2.3,2.3 0 1,0 -4.6,0M187.0,378.9a2.3,2.3 0 1,0 4.6,0a2.3,2.3 0 1,0 -4.6,0M189.7,375.1a2.3,2.3 0 1,0 4.6,0a2.3,2.3 0 1,0 -4.6,0M189.2,379.3a2.3,2.3 0 1,0 4.6,0a2.3,2.3 0 1,0 -4.6,0M191.0,378.0a2.3,2.3 0 1,0 4.6,0a2.3,2.3 0 1,0 -4.6,0M190.1,382.9a2.3,2.3 0 1,0 4.6,0a2.3,2.3 0 1,0 -4.6,0M193.1,382.2a2.3,2.3 0 1,0 4.6,0a2.3,2.3 0 1,0 -4.6,0M192.4,386.5a2.3,2.3 0 1,0 4.6,0a2.3,2.3 0 1,0 -4.6,0M193.5,383.8a2.3,2.3 0 1,0 4.6,0a2.3,2.3 0 1,0 -4.6,0M194.5,388.1a2.3,2.3 0 1,0 4.6,0a2.3,2.3 0 1,0 -4.6,0M194.9,384.6a2.3,2.3 0 1,0 4.6,0a2.3,2.3 0 1,0 -4.6,0M195.9,389.0a2.3,2.3 0 1,0 4.6,0a2.3,2.3 0 1,0 -4.6,0M196.5,384.2a2.3,2.3 0 1,0 4.6,0a2.3,2.3 0 1,0 -4.6,0M196.9,390.1a2.3,2.3 0 1,0 4.6,0a2.3,2.3 0 1,0 -4.6,0M198.7,374.8a2.3,2.3 0 1,0 4.6,0a2.3,2.3 0 1,0 -4.6,0M199.2,380.6a2.3,2.3 0 1,0 4.6,0a2.3,2.3 0 1,0 -4.6,0M200.0,370.3a2.3,2.3 0 1,0 4.6,0a2.3,2.3 0 1,0 -4.6,0M199.9,376.3a2.3,2.3 0 1,0 4.6,0a2.3,2.3 0 1,0 -4.6,0M201.4,370.7a2.3,2.3 0 1,0 4.6,0a2.3,2.3 0 1,0 -4.6,0M201.7,374.2a2.3,2.3 0 1,0 4.6,0a2.3,2.3 0 1,0 -4.6,0M203.7,368.4a2.3,2.3 0 1,0 4.6,0a2.3,2.3 0 1,0 -4.6,0M202.8,373.0a2.3,2.3 0 1,0 4.6,0a2.3,2.3 0 1,0 -4.6,0M205.4,370.6a2.3,2.3 0 1,0 4.6,0a2.3,2.3 0 1,0 -4.6,0M204.3,373.5a2.3,2.3 0 1,0 4.6,0a2.3,2.3 0 1,0 -4.6,0M206.6,373.6a2.3,2.3 0 1,0 4.6,0a2.3,2.3 0 1,0 -4.6,0M207.0,375.0a2.3,2.3 0 1,0 4.6,0a2.3,2.3 0 1,0 -4.6,0M207.6,380.9a2.3,2.3 0 1,0 4.6,0a2.3,2.3 0 1,0 -4.6,0M207.8,384.0a2.3,2.3 0 1,0 4.6,0a2.3,2.3 0 1,0 -4.6,0M209.5,382.0a2.3,2.3 0 1,0 4.6,0a2.3,2.3 0 1,0 -4.6,0M209.2,387.2a2.3,2.3 0 1,0 4.6,0a2.3,2.3 0 1,0 -4.6,0M211.3,382.4a2.3,2.3 0 1,0 4.6,0a2.3,2.3 0 1,0 -4.6,0M211.6,389.0a2.3,2.3 0 1,0 4.6,0a2.3,2.3 0 1,0 -4.6,0M212.4,384.9a2.3,2.3 0 1,0 4.6,0a2.3,2.3 0 1,0 -4.6,0M213.2,387.6a2.3,2.3 0 1,0 4.6,0a2.3,2.3 0 1,0 -4.6,0M215.3,386.7a2.3,2.3 0 1,0 4.6,0a2.3,2.3 0 1,0 -4.6,0M214.1,388.8a2.3,2.3 0 1,0 4.6,0a2.3,2.3 0 1,0 -4.6,0" fill="#EDB120"/>
<path d="M282.4,265.9 L284.1,257.7 L286.5,252.8 L290.6,250.4 L292.2,257.7 L294.7,267.5 L297.9,270.8 L300.4,264.2 L302.0,254.5 L304.5,245.5 L307.7,243.9M311.0,269.1 L314.2,274.8 L317.5,277.3M318.6,244.7 L320.0,238.2 L323.2,234.1 L326.5,236.5 L326.5,241.4M328.1,269.1 L330.5,277.3 L333.8,283.0 L336.3,274.0 L336.9,271.7 L340.6,265.2 L343.4,262.4 L345.2,269.8 L349.0,281.0 L351.8,288.4 L353.6,277.3 L356.4,264.2 L359.2,256.8 L361.1,254.9M364.8,284.7 L366.7,290.3 L369.5,294.0M372.3,262.4 L373.2,256.8 L376.0,253.0 L378.8,256.8M379.7,279.1 L380.6,286.6 L384.4,295.9 L388.1,301.5 L390.9,288.4 L394.3,280.7 L396.2,278.9 L397.1,289.1 L399.9,300.3 L403.6,307.8 L405.5,298.4 L407.4,287.3 L410.2,279.8 L413.0,277.0M415.7,302.2 L417.6,307.8 L421.3,314.3M424.1,291.0 L426.0,281.7 L428.8,276.1 L431.6,275.2M433.4,305.9 L435.3,313.4 L438.1,318.0 L440.9,321.7" fill="none" stroke="#0072BD" stroke-width="3.2" stroke-linecap="round" stroke-linejoin="round"/><path d="M281.1,265.6a2.1,2.1 0 1,0 4.3,0a2.1,2.1 0 1,0 -4.3,0M281.4,265.1a2.1,2.1 0 1,0 4.2,0a2.1,2.1 0 1,0 -4.2,0M281.4,262.1a2.4,2.4 0 1,0 4.7,0a2.4,2.4 0 1,0 -4.7,0M280.5,260.0a2.1,2.1 0 1,0 4.1,0a2.1,2.1 0 1,0 -4.1,0M281.4,257.9a2.1,2.1 0 1,0 4.2,0a2.1,2.1 0 1,0 -4.2,0M282.5,255.5a2.1,2.1 0 1,0 4.2,0a2.1,2.1 0 1,0 -4.2,0M284.4,254.4a2.1,2.1 0 1,0 4.2,0a2.1,2.1 0 1,0 -4.2,0M285.3,252.9a2.2,2.2 0 1,0 4.5,0a2.2,2.2 0 1,0 -4.5,0M287.0,251.7a2.3,2.3 0 1,0 4.6,0a2.3,2.3 0 1,0 -4.6,0M287.9,250.3a2.2,2.2 0 1,0 4.4,0a2.2,2.2 0 1,0 -4.4,0M288.1,251.6a2.1,2.1 0 1,0 4.2,0a2.1,2.1 0 1,0 -4.2,0M289.7,252.5a2.3,2.3 0 1,0 4.6,0a2.3,2.3 0 1,0 -4.6,0M289.9,255.4a2.4,2.4 0 1,0 4.7,0a2.4,2.4 0 1,0 -4.7,0M290.2,258.2a2.3,2.3 0 1,0 4.5,0a2.3,2.3 0 1,0 -4.5,0M290.8,259.5a2.1,2.1 0 1,0 4.2,0a2.1,2.1 0 1,0 -4.2,0M291.8,261.8a2.1,2.1 0 1,0 4.2,0a2.1,2.1 0 1,0 -4.2,0M291.9,264.7a2.2,2.2 0 1,0 4.5,0a2.2,2.2 0 1,0 -4.5,0M292.6,265.3a2.3,2.3 0 1,0 4.6,0a2.3,2.3 0 1,0 -4.6,0M294.3,267.6a2.1,2.1 0 1,0 4.2,0a2.1,2.1 0 1,0 -4.2,0M293.1,269.3a2.4,2.4 0 1,0 4.8,0a2.4,2.4 0 1,0 -4.8,0M293.5,270.9a2.3,2.3 0 1,0 4.5,0a2.3,2.3 0 1,0 -4.5,0M296.7,270.4a2.1,2.1 0 1,0 4.2,0a2.1,2.1 0 1,0 -4.2,0M297.8,267.5a2.1,2.1 0 1,0 4.2,0a2.1,2.1 0 1,0 -4.2,0M298.2,265.7a2.2,2.2 0 1,0 4.4,0a2.2,2.2 0 1,0 -4.4,0M297.8,265.1a2.0,2.0 0 1,0 4.1,0a2.0,2.0 0 1,0 -4.1,0M298.1,262.6a2.3,2.3 0 1,0 4.7,0a2.3,2.3 0 1,0 -4.7,0M299.9,260.3a2.1,2.1 0 1,0 4.3,0a2.1,2.1 0 1,0 -4.3,0M298.2,258.6a2.3,2.3 0 1,0 4.6,0a2.3,2.3 0 1,0 -4.6,0M299.9,256.8a2.1,2.1 0 1,0 4.2,0a2.1,2.1 0 1,0 -4.2,0M300.3,254.4a2.1,2.1 0 1,0 4.2,0a2.1,2.1 0 1,0 -4.2,0M299.2,252.6a2.4,2.4 0 1,0 4.7,0a2.4,2.4 0 1,0 -4.7,0M301.4,251.1a2.1,2.1 0 1,0 4.2,0a2.1,2.1 0 1,0 -4.2,0M300.7,248.7a2.2,2.2 0 1,0 4.4,0a2.2,2.2 0 1,0 -4.4,0M302.4,246.6a2.3,2.3 0 1,0 4.7,0a2.3,2.3 0 1,0 -4.7,0M302.7,245.4a2.4,2.4 0 1,0 4.8,0a2.4,2.4 0 1,0 -4.8,0M303.5,244.8a2.4,2.4 0 1,0 4.7,0a2.4,2.4 0 1,0 -4.7,0M305.7,244.0a2.1,2.1 0 1,0 4.3,0a2.1,2.1 0 1,0 -4.3,0M308.2,270.9a2.4,2.4 0 1,0 4.7,0a2.4,2.4 0 1,0 -4.7,0M309.0,271.4a2.3,2.3 0 1,0 4.7,0a2.3,2.3 0 1,0 -4.7,0M311.3,271.9a2.2,2.2 0 1,0 4.4,0a2.2,2.2 0 1,0 -4.4,0M312.3,275.1a2.3,2.3 0 1,0 4.6,0a2.3,2.3 0 1,0 -4.6,0M312.4,275.4a2.4,2.4 0 1,0 4.7,0a2.4,2.4 0 1,0 -4.7,0M315.9,277.2a2.1,2.1 0 1,0 4.1,0a2.1,2.1 0 1,0 -4.1,0M317.2,244.2a2.1,2.1 0 1,0 4.2,0a2.1,2.1 0 1,0 -4.2,0M316.8,242.0a2.1,2.1 0 1,0 4.3,0a2.1,2.1 0 1,0 -4.3,0M316.7,241.0a2.3,2.3 0 1,0 4.6,0a2.3,2.3 0 1,0 -4.6,0M318.8,238.7a2.3,2.3 0 1,0 4.5,0a2.3,2.3 0 1,0 -4.5,0M317.7,237.0a2.3,2.3 0 1,0 4.7,0a2.3,2.3 0 1,0 -4.7,0M320.6,235.5a2.3,2.3 0 1,0 4.6,0a2.3,2.3 0 1,0 -4.6,0M320.8,233.1a2.1,2.1 0 1,0 4.2,0a2.1,2.1 0 1,0 -4.2,0M323.9,235.0a2.1,2.1 0 1,0 4.2,0a2.1,2.1 0 1,0 -4.2,0M322.8,237.2a2.1,2.1 0 1,0 4.2,0a2.1,2.1 0 1,0 -4.2,0M322.6,239.9a2.4,2.4 0 1,0 4.7,0a2.4,2.4 0 1,0 -4.7,0M324.5,242.5a2.2,2.2 0 1,0 4.3,0a2.2,2.2 0 1,0 -4.3,0M325.4,268.1a2.1,2.1 0 1,0 4.2,0a2.1,2.1 0 1,0 -4.2,0M326.5,271.2a2.1,2.1 0 1,0 4.3,0a2.1,2.1 0 1,0 -4.3,0M327.2,272.5a2.2,2.2 0 1,0 4.4,0a2.2,2.2 0 1,0 -4.4,0M327.0,274.2a2.2,2.2 0 1,0 4.5,0a2.2,2.2 0 1,0 -4.5,0M328.7,275.3a2.2,2.2 0 1,0 4.3,0a2.2,2.2 0 1,0 -4.3,0M328.2,276.6a2.1,2.1 0 1,0 4.2,0a2.1,2.1 0 1,0 -4.2,0M329.2,279.2a2.3,2.3 0 1,0 4.6,0a2.3,2.3 0 1,0 -4.6,0M330.7,281.7a2.4,2.4 0 1,0 4.8,0a2.4,2.4 0 1,0 -4.8,0M331.7,281.7a2.3,2.3 0 1,0 4.5,0a2.3,2.3 0 1,0 -4.5,0M331.2,280.4a2.4,2.4 0 1,0 4.8,0a2.4,2.4 0 1,0 -4.8,0M333.0,280.5a2.1,2.1 0 1,0 4.3,0a2.1,2.1 0 1,0 -4.3,0M333.0,278.9a2.3,2.3 0 1,0 4.5,0a2.3,2.3 0 1,0 -4.5,0M334.4,274.6a2.3,2.3 0 1,0 4.5,0a2.3,2.3 0 1,0 -4.5,0M334.1,274.1a2.2,2.2 0 1,0 4.5,0a2.2,2.2 0 1,0 -4.5,0M334.7,271.1a2.1,2.1 0 1,0 4.1,0a2.1,2.1 0 1,0 -4.1,0M336.0,270.1a2.3,2.3 0 1,0 4.6,0a2.3,2.3 0 1,0 -4.6,0M337.1,268.5a2.1,2.1 0 1,0 4.3,0a2.1,2.1 0 1,0 -4.3,0M337.1,264.8a2.0,2.0 0 1,0 4.1,0a2.0,2.0 0 1,0 -4.1,0M339.4,266.3a2.4,2.4 0 1,0 4.8,0a2.4,2.4 0 1,0 -4.8,0M340.1,264.3a2.2,2.2 0 1,0 4.5,0a2.2,2.2 0 1,0 -4.5,0M340.9,263.1a2.2,2.2 0 1,0 4.4,0a2.2,2.2 0 1,0 -4.4,0M341.8,264.5a2.1,2.1 0 1,0 4.1,0a2.1,2.1 0 1,0 -4.1,0M342.2,266.4a2.3,2.3 0 1,0 4.5,0a2.3,2.3 0 1,0 -4.5,0M342.2,267.4a2.3,2.3 0 1,0 4.7,0a2.3,2.3 0 1,0 -4.7,0M342.9,269.2a2.2,2.2 0 1,0 4.4,0a2.2,2.2 0 1,0 -4.4,0M344.2,273.2a2.2,2.2 0 1,0 4.5,0a2.2,2.2 0 1,0 -4.5,0M344.6,273.7a2.3,2.3 0 1,0 4.6,0a2.3,2.3 0 1,0 -4.6,0M344.1,276.1a2.1,2.1 0 1,0 4.2,0a2.1,2.1 0 1,0 -4.2,0M346.0,276.1a2.1,2.1 0 1,0 4.1,0a2.1,2.1 0 1,0 -4.1,0M345.7,278.9a2.3,2.3 0 1,0 4.6,0a2.3,2.3 0 1,0 -4.6,0M347.3,279.8a2.1,2.1 0 1,0 4.2,0a2.1,2.1 0 1,0 -4.2,0M348.3,283.4a2.2,2.2 0 1,0 4.5,0a2.2,2.2 0 1,0 -4.5,0M348.4,285.0a2.2,2.2 0 1,0 4.5,0a2.2,2.2 0 1,0 -4.5,0M349.7,287.2a2.1,2.1 0 1,0 4.3,0a2.1,2.1 0 1,0 -4.3,0M349.5,289.1a2.2,2.2 0 1,0 4.5,0a2.2,2.2 0 1,0 -4.5,0M349.8,286.4a2.3,2.3 0 1,0 4.6,0a2.3,2.3 0 1,0 -4.6,0M350.2,285.3a2.3,2.3 0 1,0 4.5,0a2.3,2.3 0 1,0 -4.5,0M350.0,281.9a2.4,2.4 0 1,0 4.7,0a2.4,2.4 0 1,0 -4.7,0M350.9,281.6a2.3,2.3 0 1,0 4.6,0a2.3,2.3 0 1,0 -4.6,0M351.2,279.6a2.1,2.1 0 1,0 4.2,0a2.1,2.1 0 1,0 -4.2,0M351.5,276.0a2.3,2.3 0 1,0 4.6,0a2.3,2.3 0 1,0 -4.6,0M353.1,275.1a2.2,2.2 0 1,0 4.3,0a2.2,2.2 0 1,0 -4.3,0M351.9,274.6a2.1,2.1 0 1,0 4.1,0a2.1,2.1 0 1,0 -4.1,0M352.5,271.5a2.1,2.1 0 1,0 4.1,0a2.1,2.1 0 1,0 -4.1,0M352.4,269.8a2.4,2.4 0 1,0 4.8,0a2.4,2.4 0 1,0 -4.8,0M354.0,267.4a2.1,2.1 0 1,0 4.2,0a2.1,2.1 0 1,0 -4.2,0M354.4,266.6a2.2,2.2 0 1,0 4.5,0a2.2,2.2 0 1,0 -4.5,0M353.4,265.0a2.2,2.2 0 1,0 4.5,0a2.2,2.2 0 1,0 -4.5,0M355.1,262.0a2.1,2.1 0 1,0 4.1,0a2.1,2.1 0 1,0 -4.1,0M355.1,261.0a2.1,2.1 0 1,0 4.3,0a2.1,2.1 0 1,0 -4.3,0M356.1,258.2a2.2,2.2 0 1,0 4.3,0a2.2,2.2 0 1,0 -4.3,0M355.8,257.0a2.3,2.3 0 1,0 4.6,0a2.3,2.3 0 1,0 -4.6,0M358.2,255.4a2.4,2.4 0 1,0 4.7,0a2.4,2.4 0 1,0 -4.7,0M363.6,284.3a2.1,2.1 0 1,0 4.2,0a2.1,2.1 0 1,0 -4.2,0M362.3,286.8a2.1,2.1 0 1,0 4.3,0a2.1,2.1 0 1,0 -4.3,0M365.6,288.9a2.4,2.4 0 1,0 4.7,0a2.4,2.4 0 1,0 -4.7,0M365.0,290.9a2.3,2.3 0 1,0 4.5,0a2.3,2.3 0 1,0 -4.5,0M365.7,292.4a2.3,2.3 0 1,0 4.6,0a2.3,2.3 0 1,0 -4.6,0M367.5,293.3a2.1,2.1 0 1,0 4.1,0a2.1,2.1 0 1,0 -4.1,0M369.7,262.6a2.4,2.4 0 1,0 4.8,0a2.4,2.4 0 1,0 -4.8,0M370.8,260.7a2.3,2.3 0 1,0 4.6,0a2.3,2.3 0 1,0 -4.6,0M371.1,258.9a2.1,2.1 0 1,0 4.1,0a2.1,2.1 0 1,0 -4.1,0M371.3,257.5a2.3,2.3 0 1,0 4.7,0a2.3,2.3 0 1,0 -4.7,0M372.5,255.3a2.3,2.3 0 1,0 4.6,0a2.3,2.3 0 1,0 -4.6,0M373.3,253.3a2.1,2.1 0 1,0 4.2,0a2.1,2.1 0 1,0 -4.2,0M375.4,256.8a2.1,2.1 0 1,0 4.2,0a2.1,2.1 0 1,0 -4.2,0M376.4,257.9a2.4,2.4 0 1,0 4.7,0a2.4,2.4 0 1,0 -4.7,0M378.0,278.7a2.4,2.4 0 1,0 4.8,0a2.4,2.4 0 1,0 -4.8,0M377.3,280.6a2.2,2.2 0 1,0 4.4,0a2.2,2.2 0 1,0 -4.4,0M377.8,281.7a2.1,2.1 0 1,0 4.2,0a2.1,2.1 0 1,0 -4.2,0M378.9,286.4a2.1,2.1 0 1,0 4.2,0a2.1,2.1 0 1,0 -4.2,0M378.7,286.0a2.1,2.1 0 1,0 4.3,0a2.1,2.1 0 1,0 -4.3,0M378.9,289.2a2.4,2.4 0 1,0 4.8,0a2.4,2.4 0 1,0 -4.8,0M380.8,291.4a2.2,2.2 0 1,0 4.3,0a2.2,2.2 0 1,0 -4.3,0M381.3,293.2a2.2,2.2 0 1,0 4.3,0a2.2,2.2 0 1,0 -4.3,0M381.6,294.7a2.3,2.3 0 1,0 4.7,0a2.3,2.3 0 1,0 -4.7,0M383.0,295.2a2.0,2.0 0 1,0 4.1,0a2.0,2.0 0 1,0 -4.1,0M383.4,296.8a2.4,2.4 0 1,0 4.7,0a2.4,2.4 0 1,0 -4.7,0M385.1,299.4a2.3,2.3 0 1,0 4.7,0a2.3,2.3 0 1,0 -4.7,0M386.2,301.0a2.2,2.2 0 1,0 4.3,0a2.2,2.2 0 1,0 -4.3,0M385.9,300.1a2.2,2.2 0 1,0 4.4,0a2.2,2.2 0 1,0 -4.4,0M386.9,298.1a2.4,2.4 0 1,0 4.7,0a2.4,2.4 0 1,0 -4.7,0M386.1,296.4a2.4,2.4 0 1,0 4.7,0a2.4,2.4 0 1,0 -4.7,0M387.3,293.5a2.4,2.4 0 1,0 4.7,0a2.4,2.4 0 1,0 -4.7,0M388.5,290.1a2.3,2.3 0 1,0 4.6,0a2.3,2.3 0 1,0 -4.6,0M388.4,289.0a2.1,2.1 0 1,0 4.3,0a2.1,2.1 0 1,0 -4.3,0M388.2,287.8a2.3,2.3 0 1,0 4.7,0a2.3,2.3 0 1,0 -4.7,0M390.2,287.1a2.2,2.2 0 1,0 4.3,0a2.2,2.2 0 1,0 -4.3,0M390.5,284.0a2.3,2.3 0 1,0 4.7,0a2.3,2.3 0 1,0 -4.7,0M392.2,281.5a2.1,2.1 0 1,0 4.2,0a2.1,2.1 0 1,0 -4.2,0M393.1,280.3a2.3,2.3 0 1,0 4.6,0a2.3,2.3 0 1,0 -4.6,0M393.7,278.7a2.4,2.4 0 1,0 4.7,0a2.4,2.4 0 1,0 -4.7,0M393.5,280.4a2.2,2.2 0 1,0 4.3,0a2.2,2.2 0 1,0 -4.3,0M394.4,281.1a2.4,2.4 0 1,0 4.7,0a2.4,2.4 0 1,0 -4.7,0M394.7,284.6a2.1,2.1 0 1,0 4.3,0a2.1,2.1 0 1,0 -4.3,0M395.3,286.1a2.0,2.0 0 1,0 4.1,0a2.0,2.0 0 1,0 -4.1,0M395.0,286.9a2.1,2.1 0 1,0 4.1,0a2.1,2.1 0 1,0 -4.1,0M396.0,289.6a2.1,2.1 0 1,0 4.2,0a2.1,2.1 0 1,0 -4.2,0M394.5,291.1a2.3,2.3 0 1,0 4.7,0a2.3,2.3 0 1,0 -4.7,0M396.3,292.7a2.3,2.3 0 1,0 4.5,0a2.3,2.3 0 1,0 -4.5,0M396.8,294.2a2.4,2.4 0 1,0 4.7,0a2.4,2.4 0 1,0 -4.7,0M396.6,296.0a2.4,2.4 0 1,0 4.7,0a2.4,2.4 0 1,0 -4.7,0M396.9,298.3a2.3,2.3 0 1,0 4.5,0a2.3,2.3 0 1,0 -4.5,0M398.1,299.6a2.2,2.2 0 1,0 4.4,0a2.2,2.2 0 1,0 -4.4,0M397.3,302.9a2.3,2.3 0 1,0 4.6,0a2.3,2.3 0 1,0 -4.6,0M399.8,304.7a2.2,2.2 0 1,0 4.3,0a2.2,2.2 0 1,0 -4.3,0M401.6,305.6a2.1,2.1 0 1,0 4.2,0a2.1,2.1 0 1,0 -4.2,0M401.5,307.7a2.3,2.3 0 1,0 4.5,0a2.3,2.3 0 1,0 -4.5,0M400.8,306.4a2.2,2.2 0 1,0 4.4,0a2.2,2.2 0 1,0 -4.4,0M402.7,304.5a2.3,2.3 0 1,0 4.7,0a2.3,2.3 0 1,0 -4.7,0M402.8,301.5a2.1,2.1 0 1,0 4.2,0a2.1,2.1 0 1,0 -4.2,0M403.0,299.0a2.1,2.1 0 1,0 4.2,0a2.1,2.1 0 1,0 -4.2,0M404.9,296.9a2.2,2.2 0 1,0 4.4,0a2.2,2.2 0 1,0 -4.4,0M402.6,297.3a2.4,2.4 0 1,0 4.7,0a2.4,2.4 0 1,0 -4.7,0M404.2,295.3a2.2,2.2 0 1,0 4.3,0a2.2,2.2 0 1,0 -4.3,0M404.2,292.4a2.2,2.2 0 1,0 4.5,0a2.2,2.2 0 1,0 -4.5,0M403.6,291.0a2.1,2.1 0 1,0 4.2,0a2.1,2.1 0 1,0 -4.2,0M407.9,288.3a2.2,2.2 0 1,0 4.5,0a2.2,2.2 0 1,0 -4.5,0M405.2,286.9a2.4,2.4 0 1,0 4.7,0a2.4,2.4 0 1,0 -4.7,0M404.6,285.1a2.4,2.4 0 1,0 4.7,0a2.4,2.4 0 1,0 -4.7,0M405.7,284.8a2.1,2.1 0 1,0 4.2,0a2.1,2.1 0 1,0 -4.2,0M408.0,281.8a2.4,2.4 0 1,0 4.7,0a2.4,2.4 0 1,0 -4.7,0M409.4,278.8a2.2,2.2 0 1,0 4.4,0a2.2,2.2 0 1,0 -4.4,0M410.3,278.0a2.1,2.1 0 1,0 4.2,0a2.1,2.1 0 1,0 -4.2,0M409.9,276.1a2.2,2.2 0 1,0 4.4,0a2.2,2.2 0 1,0 -4.4,0M413.1,301.9a2.1,2.1 0 1,0 4.3,0a2.1,2.1 0 1,0 -4.3,0M413.4,304.5a2.2,2.2 0 1,0 4.4,0a2.2,2.2 0 1,0 -4.4,0M414.9,306.0a2.2,2.2 0 1,0 4.3,0a2.2,2.2 0 1,0 -4.3,0M415.2,306.7a2.1,2.1 0 1,0 4.3,0a2.1,2.1 0 1,0 -4.3,0M416.4,310.3a2.1,2.1 0 1,0 4.2,0a2.1,2.1 0 1,0 -4.2,0M416.1,310.1a2.1,2.1 0 1,0 4.2,0a2.1,2.1 0 1,0 -4.2,0M417.1,312.1a2.3,2.3 0 1,0 4.6,0a2.3,2.3 0 1,0 -4.6,0M418.9,313.2a2.1,2.1 0 1,0 4.3,0a2.1,2.1 0 1,0 -4.3,0M422.9,289.6a2.1,2.1 0 1,0 4.1,0a2.1,2.1 0 1,0 -4.1,0M423.1,288.9a2.1,2.1 0 1,0 4.1,0a2.1,2.1 0 1,0 -4.1,0M423.7,287.8a2.3,2.3 0 1,0 4.6,0a2.3,2.3 0 1,0 -4.6,0M423.5,286.0a2.3,2.3 0 1,0 4.5,0a2.3,2.3 0 1,0 -4.5,0M423.9,283.6a2.3,2.3 0 1,0 4.6,0a2.3,2.3 0 1,0 -4.6,0M423.9,282.2a2.1,2.1 0 1,0 4.2,0a2.1,2.1 0 1,0 -4.2,0M424.0,280.4a2.1,2.1 0 1,0 4.3,0a2.1,2.1 0 1,0 -4.3,0M426.1,278.4a2.1,2.1 0 1,0 4.1,0a2.1,2.1 0 1,0 -4.1,0M426.8,276.7a2.2,2.2 0 1,0 4.4,0a2.2,2.2 0 1,0 -4.4,0M429.7,275.9a2.2,2.2 0 1,0 4.4,0a2.2,2.2 0 1,0 -4.4,0M431.8,305.8a2.4,2.4 0 1,0 4.8,0a2.4,2.4 0 1,0 -4.8,0M431.2,307.9a2.3,2.3 0 1,0 4.5,0a2.3,2.3 0 1,0 -4.5,0M432.5,310.0a2.1,2.1 0 1,0 4.1,0a2.1,2.1 0 1,0 -4.1,0M432.1,309.8a2.2,2.2 0 1,0 4.4,0a2.2,2.2 0 1,0 -4.4,0M432.7,314.0a2.2,2.2 0 1,0 4.3,0a2.2,2.2 0 1,0 -4.3,0M433.9,314.3a2.1,2.1 0 1,0 4.2,0a2.1,2.1 0 1,0 -4.2,0M435.7,315.8a2.0,2.0 0 1,0 4.1,0a2.0,2.0 0 1,0 -4.1,0M436.6,317.1a2.2,2.2 0 1,0 4.3,0a2.2,2.2 0 1,0 -4.3,0M436.2,318.7a2.2,2.2 0 1,0 4.4,0a2.2,2.2 0 1,0 -4.4,0M438.1,321.9a2.2,2.2 0 1,0 4.5,0a2.2,2.2 0 1,0 -4.5,0" fill="#0072BD"/><path d="M307.7,243.9 L309.3,251.2 L309.3,257.7 L310.2,262.6 L311.0,269.1M317.5,277.3 L317.8,270.8 L317.8,262.6 L318.3,256.1 L318.3,251.2 L318.6,244.7M326.5,241.4 L327.3,247.1 L327.3,254.5 L327.3,262.6 L328.1,269.1M361.1,254.9 L362.0,268.0 L363.0,277.3 L364.8,284.7M369.5,294.0 L370.4,281.0 L371.3,271.7 L372.3,262.4M378.8,256.8 L379.7,262.4 L379.7,269.8 L379.7,279.1M413.0,277.0 L413.9,287.3 L414.8,294.7 L415.7,302.2M421.3,314.3 L423.2,304.0 L423.2,296.6 L424.1,291.0M431.6,275.2 L432.5,289.1 L432.5,298.4 L433.4,305.9" fill="none" stroke="#0072BD" stroke-width="3.6" stroke-linecap="round" stroke-dasharray="0 6.0"/>
<path d="M281.7,317.2 L284.3,309.3 L287.6,307.3 L291.0,307.9 L293.0,319.9 L295.6,325.2 L298.3,326.5 L300.9,313.3 L304.3,305.3 L308.2,302.6 L310.2,314.6 L312.9,325.2 L316.2,330.5M320.0,297.0 L322.0,293.5 L325.0,300.6 L327.3,305.2M329.6,326.4 L332.6,332.4 L335.7,329.4 L335.7,318.8 L338.7,314.2 L341.7,315.0 L345.5,324.8 L348.5,335.5 L351.6,340.0 L353.8,320.3 L356.1,309.7 L359.2,306.7 L359.4,314.6 L361.9,327.6 L365.1,337.4 L368.4,342.3 L370.9,316.2 L373.3,306.4 L376.6,301.5M381.4,337.4 L384.7,345.5 L387.1,347.2 L389.6,332.5 L392.9,326.0 L396.1,323.5 L399.6,339.9 L403.1,346.9 L405.7,348.6 L407.5,329.4 L411.0,324.2 L413.6,321.6M417.9,346.9 L421.4,352.1 L423.2,353.9 L424.9,331.2 L427.5,322.5 L431.0,318.1M435.4,348.6 L438.9,353.9 L441.5,357.4" fill="none" stroke="#D95319" stroke-width="4.0" stroke-linecap="round" stroke-linejoin="round"/><path d="M278.3,316.2a2.8,2.8 0 1,0 5.6,0a2.8,2.8 0 1,0 -5.6,0M280.0,315.8a2.7,2.7 0 1,0 5.5,0a2.7,2.7 0 1,0 -5.5,0M280.6,312.3a2.7,2.7 0 1,0 5.3,0a2.7,2.7 0 1,0 -5.3,0M280.1,312.7a2.6,2.6 0 1,0 5.2,0a2.6,2.6 0 1,0 -5.2,0M281.5,309.6a2.4,2.4 0 1,0 4.9,0a2.4,2.4 0 1,0 -4.9,0M284.6,307.5a2.4,2.4 0 1,0 4.8,0a2.4,2.4 0 1,0 -4.8,0M284.7,308.0a2.6,2.6 0 1,0 5.2,0a2.6,2.6 0 1,0 -5.2,0M285.8,308.7a2.5,2.5 0 1,0 5.1,0a2.5,2.5 0 1,0 -5.1,0M286.8,307.6a2.6,2.6 0 1,0 5.3,0a2.6,2.6 0 1,0 -5.3,0M288.1,309.7a2.5,2.5 0 1,0 5.1,0a2.5,2.5 0 1,0 -5.1,0M288.1,310.6a2.5,2.5 0 1,0 5.0,0a2.5,2.5 0 1,0 -5.0,0M288.8,313.5a2.5,2.5 0 1,0 5.1,0a2.5,2.5 0 1,0 -5.1,0M290.4,314.3a2.5,2.5 0 1,0 5.0,0a2.5,2.5 0 1,0 -5.0,0M289.3,317.6a2.4,2.4 0 1,0 4.9,0a2.4,2.4 0 1,0 -4.9,0M290.2,318.0a2.5,2.5 0 1,0 4.9,0a2.5,2.5 0 1,0 -4.9,0M291.7,320.4a2.4,2.4 0 1,0 4.9,0a2.4,2.4 0 1,0 -4.9,0M291.4,321.9a2.5,2.5 0 1,0 5.0,0a2.5,2.5 0 1,0 -5.0,0M291.9,322.3a2.8,2.8 0 1,0 5.5,0a2.8,2.8 0 1,0 -5.5,0M293.7,324.9a2.8,2.8 0 1,0 5.5,0a2.8,2.8 0 1,0 -5.5,0M297.1,327.4a2.6,2.6 0 1,0 5.1,0a2.6,2.6 0 1,0 -5.1,0M296.3,325.7a2.7,2.7 0 1,0 5.5,0a2.7,2.7 0 1,0 -5.5,0M296.1,322.9a2.7,2.7 0 1,0 5.5,0a2.7,2.7 0 1,0 -5.5,0M296.6,319.9a2.8,2.8 0 1,0 5.6,0a2.8,2.8 0 1,0 -5.6,0M297.6,319.0a2.4,2.4 0 1,0 4.9,0a2.4,2.4 0 1,0 -4.9,0M298.6,317.2a2.6,2.6 0 1,0 5.3,0a2.6,2.6 0 1,0 -5.3,0M298.4,315.5a2.5,2.5 0 1,0 4.9,0a2.5,2.5 0 1,0 -4.9,0M297.3,312.6a2.8,2.8 0 1,0 5.6,0a2.8,2.8 0 1,0 -5.6,0M297.8,313.2a2.6,2.6 0 1,0 5.1,0a2.6,2.6 0 1,0 -5.1,0M299.4,310.4a2.5,2.5 0 1,0 5.0,0a2.5,2.5 0 1,0 -5.0,0M302.5,308.1a2.7,2.7 0 1,0 5.4,0a2.7,2.7 0 1,0 -5.4,0M301.4,307.3a2.4,2.4 0 1,0 4.9,0a2.4,2.4 0 1,0 -4.9,0M301.2,306.2a2.4,2.4 0 1,0 4.8,0a2.4,2.4 0 1,0 -4.8,0M302.8,303.8a2.4,2.4 0 1,0 4.8,0a2.4,2.4 0 1,0 -4.8,0M304.4,303.1a2.6,2.6 0 1,0 5.2,0a2.6,2.6 0 1,0 -5.2,0M304.5,304.7a2.6,2.6 0 1,0 5.3,0a2.6,2.6 0 1,0 -5.3,0M305.6,306.6a2.8,2.8 0 1,0 5.6,0a2.8,2.8 0 1,0 -5.6,0M307.4,306.5a2.6,2.6 0 1,0 5.2,0a2.6,2.6 0 1,0 -5.2,0M307.1,309.8a2.5,2.5 0 1,0 5.1,0a2.5,2.5 0 1,0 -5.1,0M306.9,311.1a2.7,2.7 0 1,0 5.4,0a2.7,2.7 0 1,0 -5.4,0M307.7,312.1a2.4,2.4 0 1,0 4.8,0a2.4,2.4 0 1,0 -4.8,0M307.8,313.9a2.7,2.7 0 1,0 5.3,0a2.7,2.7 0 1,0 -5.3,0M307.1,315.9a2.6,2.6 0 1,0 5.1,0a2.6,2.6 0 1,0 -5.1,0M310.0,317.7a2.8,2.8 0 1,0 5.5,0a2.8,2.8 0 1,0 -5.5,0M308.6,319.5a2.5,2.5 0 1,0 5.1,0a2.5,2.5 0 1,0 -5.1,0M309.1,323.2a2.7,2.7 0 1,0 5.4,0a2.7,2.7 0 1,0 -5.4,0M310.0,322.2a2.8,2.8 0 1,0 5.6,0a2.8,2.8 0 1,0 -5.6,0M310.0,324.6a2.7,2.7 0 1,0 5.4,0a2.7,2.7 0 1,0 -5.4,0M311.5,327.9a2.4,2.4 0 1,0 4.9,0a2.4,2.4 0 1,0 -4.9,0M313.1,328.1a2.5,2.5 0 1,0 5.0,0a2.5,2.5 0 1,0 -5.0,0M313.7,330.4a2.8,2.8 0 1,0 5.5,0a2.8,2.8 0 1,0 -5.5,0M317.3,296.6a2.7,2.7 0 1,0 5.4,0a2.7,2.7 0 1,0 -5.4,0M317.0,294.6a2.6,2.6 0 1,0 5.3,0a2.6,2.6 0 1,0 -5.3,0M318.1,294.2a2.4,2.4 0 1,0 4.8,0a2.4,2.4 0 1,0 -4.8,0M320.3,295.0a2.5,2.5 0 1,0 5.0,0a2.5,2.5 0 1,0 -5.0,0M322.0,298.0a2.6,2.6 0 1,0 5.1,0a2.6,2.6 0 1,0 -5.1,0M321.5,298.3a2.7,2.7 0 1,0 5.4,0a2.7,2.7 0 1,0 -5.4,0M322.2,300.3a2.6,2.6 0 1,0 5.2,0a2.6,2.6 0 1,0 -5.2,0M323.0,301.7a2.7,2.7 0 1,0 5.3,0a2.7,2.7 0 1,0 -5.3,0M323.6,304.3a2.8,2.8 0 1,0 5.5,0a2.8,2.8 0 1,0 -5.5,0M327.0,304.3a2.6,2.6 0 1,0 5.1,0a2.6,2.6 0 1,0 -5.1,0M325.8,325.8a2.7,2.7 0 1,0 5.4,0a2.7,2.7 0 1,0 -5.4,0M326.7,328.8a2.5,2.5 0 1,0 5.1,0a2.5,2.5 0 1,0 -5.1,0M329.9,330.2a2.4,2.4 0 1,0 4.9,0a2.4,2.4 0 1,0 -4.9,0M329.9,332.0a2.7,2.7 0 1,0 5.3,0a2.7,2.7 0 1,0 -5.3,0M333.5,331.6a2.6,2.6 0 1,0 5.2,0a2.6,2.6 0 1,0 -5.2,0M333.0,329.0a2.6,2.6 0 1,0 5.3,0a2.6,2.6 0 1,0 -5.3,0M332.6,328.0a2.7,2.7 0 1,0 5.4,0a2.7,2.7 0 1,0 -5.4,0M334.1,326.0a2.4,2.4 0 1,0 4.8,0a2.4,2.4 0 1,0 -4.8,0M334.2,322.9a2.4,2.4 0 1,0 4.8,0a2.4,2.4 0 1,0 -4.8,0M332.2,322.5a2.7,2.7 0 1,0 5.4,0a2.7,2.7 0 1,0 -5.4,0M332.8,319.9a2.8,2.8 0 1,0 5.5,0a2.8,2.8 0 1,0 -5.5,0M333.1,319.1a2.7,2.7 0 1,0 5.4,0a2.7,2.7 0 1,0 -5.4,0M334.4,317.6a2.6,2.6 0 1,0 5.2,0a2.6,2.6 0 1,0 -5.2,0M334.7,316.1a2.8,2.8 0 1,0 5.5,0a2.8,2.8 0 1,0 -5.5,0M335.0,314.4a2.5,2.5 0 1,0 5.0,0a2.5,2.5 0 1,0 -5.0,0M339.4,314.7a2.8,2.8 0 1,0 5.5,0a2.8,2.8 0 1,0 -5.5,0M338.2,315.4a2.7,2.7 0 1,0 5.4,0a2.7,2.7 0 1,0 -5.4,0M339.6,317.6a2.7,2.7 0 1,0 5.5,0a2.7,2.7 0 1,0 -5.5,0M340.5,320.0a2.8,2.8 0 1,0 5.5,0a2.8,2.8 0 1,0 -5.5,0M341.9,320.5a2.7,2.7 0 1,0 5.4,0a2.7,2.7 0 1,0 -5.4,0M342.2,323.9a2.7,2.7 0 1,0 5.5,0a2.7,2.7 0 1,0 -5.5,0M344.6,324.4a2.4,2.4 0 1,0 4.9,0a2.4,2.4 0 1,0 -4.9,0M343.1,325.8a2.6,2.6 0 1,0 5.1,0a2.6,2.6 0 1,0 -5.1,0M344.1,328.7a2.6,2.6 0 1,0 5.2,0a2.6,2.6 0 1,0 -5.2,0M343.9,330.2a2.5,2.5 0 1,0 5.1,0a2.5,2.5 0 1,0 -5.1,0M343.8,331.5a2.6,2.6 0 1,0 5.3,0a2.6,2.6 0 1,0 -5.3,0M346.2,335.0a2.5,2.5 0 1,0 5.1,0a2.5,2.5 0 1,0 -5.1,0M348.0,335.0a2.4,2.4 0 1,0 4.9,0a2.4,2.4 0 1,0 -4.9,0M345.4,336.1a2.5,2.5 0 1,0 5.1,0a2.5,2.5 0 1,0 -5.1,0M347.6,338.3a2.4,2.4 0 1,0 4.8,0a2.4,2.4 0 1,0 -4.8,0M349.2,340.3a2.5,2.5 0 1,0 5.0,0a2.5,2.5 0 1,0 -5.0,0M348.4,337.6a2.8,2.8 0 1,0 5.6,0a2.8,2.8 0 1,0 -5.6,0M349.0,335.8a2.8,2.8 0 1,0 5.6,0a2.8,2.8 0 1,0 -5.6,0M348.9,334.0a2.7,2.7 0 1,0 5.5,0a2.7,2.7 0 1,0 -5.5,0M349.4,332.3a2.6,2.6 0 1,0 5.3,0a2.6,2.6 0 1,0 -5.3,0M349.5,332.8a2.5,2.5 0 1,0 5.0,0a2.5,2.5 0 1,0 -5.0,0M350.7,329.2a2.4,2.4 0 1,0 4.8,0a2.4,2.4 0 1,0 -4.8,0M350.0,327.3a2.6,2.6 0 1,0 5.2,0a2.6,2.6 0 1,0 -5.2,0M351.5,326.6a2.7,2.7 0 1,0 5.3,0a2.7,2.7 0 1,0 -5.3,0M350.0,322.4a2.8,2.8 0 1,0 5.6,0a2.8,2.8 0 1,0 -5.6,0M350.7,321.1a2.4,2.4 0 1,0 4.8,0a2.4,2.4 0 1,0 -4.8,0M351.7,320.5a2.8,2.8 0 1,0 5.6,0a2.8,2.8 0 1,0 -5.6,0M351.4,319.4a2.4,2.4 0 1,0 4.8,0a2.4,2.4 0 1,0 -4.8,0M350.6,317.5a2.6,2.6 0 1,0 5.3,0a2.6,2.6 0 1,0 -5.3,0M352.5,314.9a2.5,2.5 0 1,0 4.9,0a2.5,2.5 0 1,0 -4.9,0M353.5,314.4a2.4,2.4 0 1,0 4.8,0a2.4,2.4 0 1,0 -4.8,0M353.5,311.2a2.7,2.7 0 1,0 5.5,0a2.7,2.7 0 1,0 -5.5,0M352.7,309.6a2.8,2.8 0 1,0 5.6,0a2.8,2.8 0 1,0 -5.6,0M354.3,308.8a2.4,2.4 0 1,0 4.8,0a2.4,2.4 0 1,0 -4.8,0M357.7,305.0a2.4,2.4 0 1,0 4.9,0a2.4,2.4 0 1,0 -4.9,0M356.8,308.1a2.4,2.4 0 1,0 4.9,0a2.4,2.4 0 1,0 -4.9,0M355.8,311.4a2.8,2.8 0 1,0 5.6,0a2.8,2.8 0 1,0 -5.6,0M358.9,312.5a2.6,2.6 0 1,0 5.3,0a2.6,2.6 0 1,0 -5.3,0M356.5,314.3a2.7,2.7 0 1,0 5.4,0a2.7,2.7 0 1,0 -5.4,0M356.4,316.2a2.8,2.8 0 1,0 5.5,0a2.8,2.8 0 1,0 -5.5,0M357.7,318.7a2.4,2.4 0 1,0 4.9,0a2.4,2.4 0 1,0 -4.9,0M358.3,320.9a2.7,2.7 0 1,0 5.4,0a2.7,2.7 0 1,0 -5.4,0M358.7,322.7a2.6,2.6 0 1,0 5.2,0a2.6,2.6 0 1,0 -5.2,0M357.9,323.6a2.6,2.6 0 1,0 5.2,0a2.6,2.6 0 1,0 -5.2,0M359.2,325.8a2.6,2.6 0 1,0 5.1,0a2.6,2.6 0 1,0 -5.1,0M359.5,328.8a2.5,2.5 0 1,0 5.0,0a2.5,2.5 0 1,0 -5.0,0M360.2,328.8a2.4,2.4 0 1,0 4.8,0a2.4,2.4 0 1,0 -4.8,0M359.8,331.0a2.5,2.5 0 1,0 5.0,0a2.5,2.5 0 1,0 -5.0,0M360.9,332.0a2.7,2.7 0 1,0 5.3,0a2.7,2.7 0 1,0 -5.3,0M361.8,333.5a2.6,2.6 0 1,0 5.2,0a2.6,2.6 0 1,0 -5.2,0M363.0,335.3a2.5,2.5 0 1,0 4.9,0a2.5,2.5 0 1,0 -4.9,0M362.8,337.5a2.5,2.5 0 1,0 5.0,0a2.5,2.5 0 1,0 -5.0,0M364.5,339.6a2.6,2.6 0 1,0 5.1,0a2.6,2.6 0 1,0 -5.1,0M364.2,341.4a2.8,2.8 0 1,0 5.5,0a2.8,2.8 0 1,0 -5.5,0M365.9,342.7a2.5,2.5 0 1,0 5.0,0a2.5,2.5 0 1,0 -5.0,0M365.2,341.9a2.7,2.7 0 1,0 5.4,0a2.7,2.7 0 1,0 -5.4,0M366.0,339.0a2.4,2.4 0 1,0 4.8,0a2.4,2.4 0 1,0 -4.8,0M367.2,338.0a2.7,2.7 0 1,0 5.3,0a2.7,2.7 0 1,0 -5.3,0M367.2,336.2a2.4,2.4 0 1,0 4.8,0a2.4,2.4 0 1,0 -4.8,0M366.2,333.6a2.4,2.4 0 1,0 4.8,0a2.4,2.4 0 1,0 -4.8,0M366.8,330.7a2.6,2.6 0 1,0 5.2,0a2.6,2.6 0 1,0 -5.2,0M367.5,331.0a2.6,2.6 0 1,0 5.1,0a2.6,2.6 0 1,0 -5.1,0M366.8,328.1a2.8,2.8 0 1,0 5.5,0a2.8,2.8 0 1,0 -5.5,0M367.8,326.7a2.5,2.5 0 1,0 5.1,0a2.5,2.5 0 1,0 -5.1,0M367.5,325.2a2.7,2.7 0 1,0 5.3,0a2.7,2.7 0 1,0 -5.3,0M368.4,323.1a2.5,2.5 0 1,0 5.0,0a2.5,2.5 0 1,0 -5.0,0M367.6,321.0a2.5,2.5 0 1,0 5.1,0a2.5,2.5 0 1,0 -5.1,0M367.8,319.0a2.4,2.4 0 1,0 4.9,0a2.4,2.4 0 1,0 -4.9,0M368.7,318.3a2.8,2.8 0 1,0 5.6,0a2.8,2.8 0 1,0 -5.6,0M368.6,316.0a2.6,2.6 0 1,0 5.2,0a2.6,2.6 0 1,0 -5.2,0M368.3,314.3a2.7,2.7 0 1,0 5.3,0a2.7,2.7 0 1,0 -5.3,0M368.1,312.3a2.5,2.5 0 1,0 5.0,0a2.5,2.5 0 1,0 -5.0,0M370.9,309.8a2.6,2.6 0 1,0 5.2,0a2.6,2.6 0 1,0 -5.2,0M370.9,309.0a2.4,2.4 0 1,0 4.9,0a2.4,2.4 0 1,0 -4.9,0M370.3,305.4a2.6,2.6 0 1,0 5.2,0a2.6,2.6 0 1,0 -5.2,0M371.9,304.7a2.7,2.7 0 1,0 5.4,0a2.7,2.7 0 1,0 -5.4,0M373.1,302.8a2.5,2.5 0 1,0 5.0,0a2.5,2.5 0 1,0 -5.0,0M374.8,301.8a2.7,2.7 0 1,0 5.4,0a2.7,2.7 0 1,0 -5.4,0M378.2,338.3a2.5,2.5 0 1,0 5.1,0a2.5,2.5 0 1,0 -5.1,0M379.1,338.5a2.8,2.8 0 1,0 5.6,0a2.8,2.8 0 1,0 -5.6,0M380.2,340.7a2.4,2.4 0 1,0 4.8,0a2.4,2.4 0 1,0 -4.8,0M380.5,340.9a2.6,2.6 0 1,0 5.3,0a2.6,2.6 0 1,0 -5.3,0M382.2,345.1a2.7,2.7 0 1,0 5.4,0a2.7,2.7 0 1,0 -5.4,0M382.6,346.0a2.7,2.7 0 1,0 5.3,0a2.7,2.7 0 1,0 -5.3,0M384.8,347.2a2.5,2.5 0 1,0 5.1,0a2.5,2.5 0 1,0 -5.1,0M386.6,343.7a2.5,2.5 0 1,0 5.0,0a2.5,2.5 0 1,0 -5.0,0M386.0,342.9a2.7,2.7 0 1,0 5.5,0a2.7,2.7 0 1,0 -5.5,0M383.8,340.7a2.7,2.7 0 1,0 5.3,0a2.7,2.7 0 1,0 -5.3,0M386.7,339.6a2.5,2.5 0 1,0 4.9,0a2.5,2.5 0 1,0 -4.9,0M385.3,337.9a2.5,2.5 0 1,0 5.0,0a2.5,2.5 0 1,0 -5.0,0M385.8,336.8a2.6,2.6 0 1,0 5.3,0a2.6,2.6 0 1,0 -5.3,0M386.8,334.9a2.6,2.6 0 1,0 5.2,0a2.6,2.6 0 1,0 -5.2,0M386.2,332.5a2.7,2.7 0 1,0 5.3,0a2.7,2.7 0 1,0 -5.3,0M388.3,331.7a2.5,2.5 0 1,0 5.0,0a2.5,2.5 0 1,0 -5.0,0M388.7,328.2a2.7,2.7 0 1,0 5.4,0a2.7,2.7 0 1,0 -5.4,0M388.8,327.6a2.8,2.8 0 1,0 5.5,0a2.8,2.8 0 1,0 -5.5,0M389.7,326.0a2.5,2.5 0 1,0 5.0,0a2.5,2.5 0 1,0 -5.0,0M390.9,325.4a2.7,2.7 0 1,0 5.4,0a2.7,2.7 0 1,0 -5.4,0M392.5,323.6a2.5,2.5 0 1,0 4.9,0a2.5,2.5 0 1,0 -4.9,0M393.4,325.5a2.5,2.5 0 1,0 5.0,0a2.5,2.5 0 1,0 -5.0,0M393.4,328.1a2.7,2.7 0 1,0 5.4,0a2.7,2.7 0 1,0 -5.4,0M394.7,329.5a2.7,2.7 0 1,0 5.4,0a2.7,2.7 0 1,0 -5.4,0M394.4,329.9a2.6,2.6 0 1,0 5.3,0a2.6,2.6 0 1,0 -5.3,0M395.4,332.1a2.4,2.4 0 1,0 4.8,0a2.4,2.4 0 1,0 -4.8,0M395.5,334.6a2.8,2.8 0 1,0 5.6,0a2.8,2.8 0 1,0 -5.6,0M395.0,336.1a2.8,2.8 0 1,0 5.6,0a2.8,2.8 0 1,0 -5.6,0M396.9,337.6a2.5,2.5 0 1,0 5.0,0a2.5,2.5 0 1,0 -5.0,0M397.9,340.7a2.7,2.7 0 1,0 5.4,0a2.7,2.7 0 1,0 -5.4,0M397.3,341.7a2.5,2.5 0 1,0 5.0,0a2.5,2.5 0 1,0 -5.0,0M397.5,343.5a2.8,2.8 0 1,0 5.5,0a2.8,2.8 0 1,0 -5.5,0M400.5,344.0a2.6,2.6 0 1,0 5.1,0a2.6,2.6 0 1,0 -5.1,0M399.8,347.2a2.8,2.8 0 1,0 5.6,0a2.8,2.8 0 1,0 -5.6,0M403.4,349.0a2.5,2.5 0 1,0 5.0,0a2.5,2.5 0 1,0 -5.0,0M404.6,346.2a2.5,2.5 0 1,0 5.0,0a2.5,2.5 0 1,0 -5.0,0M404.3,343.9a2.6,2.6 0 1,0 5.1,0a2.6,2.6 0 1,0 -5.1,0M404.1,344.5a2.5,2.5 0 1,0 5.1,0a2.5,2.5 0 1,0 -5.1,0M404.9,342.6a2.6,2.6 0 1,0 5.1,0a2.6,2.6 0 1,0 -5.1,0M403.3,340.4a2.5,2.5 0 1,0 5.0,0a2.5,2.5 0 1,0 -5.0,0M404.8,338.2a2.5,2.5 0 1,0 5.1,0a2.5,2.5 0 1,0 -5.1,0M404.8,336.4a2.7,2.7 0 1,0 5.4,0a2.7,2.7 0 1,0 -5.4,0M403.8,335.6a2.6,2.6 0 1,0 5.3,0a2.6,2.6 0 1,0 -5.3,0M404.6,333.0a2.7,2.7 0 1,0 5.3,0a2.7,2.7 0 1,0 -5.3,0M404.4,330.8a2.5,2.5 0 1,0 4.9,0a2.5,2.5 0 1,0 -4.9,0M406.0,328.2a2.5,2.5 0 1,0 5.0,0a2.5,2.5 0 1,0 -5.0,0M405.4,327.2a2.5,2.5 0 1,0 5.0,0a2.5,2.5 0 1,0 -5.0,0M407.8,326.1a2.7,2.7 0 1,0 5.3,0a2.7,2.7 0 1,0 -5.3,0M407.9,323.7a2.4,2.4 0 1,0 4.9,0a2.4,2.4 0 1,0 -4.9,0M409.9,323.5a2.6,2.6 0 1,0 5.1,0a2.6,2.6 0 1,0 -5.1,0M410.2,322.7a2.4,2.4 0 1,0 4.9,0a2.4,2.4 0 1,0 -4.9,0M415.7,346.9a2.7,2.7 0 1,0 5.5,0a2.7,2.7 0 1,0 -5.5,0M416.6,349.6a2.5,2.5 0 1,0 5.1,0a2.5,2.5 0 1,0 -5.1,0M418.7,350.7a2.7,2.7 0 1,0 5.4,0a2.7,2.7 0 1,0 -5.4,0M418.7,353.3a2.6,2.6 0 1,0 5.2,0a2.6,2.6 0 1,0 -5.2,0M420.9,353.9a2.5,2.5 0 1,0 5.1,0a2.5,2.5 0 1,0 -5.1,0M420.8,353.1a2.7,2.7 0 1,0 5.4,0a2.7,2.7 0 1,0 -5.4,0M421.4,349.7a2.5,2.5 0 1,0 5.1,0a2.5,2.5 0 1,0 -5.1,0M421.2,348.3a2.5,2.5 0 1,0 5.0,0a2.5,2.5 0 1,0 -5.0,0M420.9,346.2a2.8,2.8 0 1,0 5.6,0a2.8,2.8 0 1,0 -5.6,0M422.0,345.6a2.5,2.5 0 1,0 4.9,0a2.5,2.5 0 1,0 -4.9,0M421.9,343.4a2.4,2.4 0 1,0 4.8,0a2.4,2.4 0 1,0 -4.8,0M421.0,342.2a2.6,2.6 0 1,0 5.2,0a2.6,2.6 0 1,0 -5.2,0M421.4,341.0a2.6,2.6 0 1,0 5.2,0a2.6,2.6 0 1,0 -5.2,0M422.2,338.1a2.6,2.6 0 1,0 5.2,0a2.6,2.6 0 1,0 -5.2,0M421.1,336.5a2.7,2.7 0 1,0 5.5,0a2.7,2.7 0 1,0 -5.5,0M422.5,336.1a2.5,2.5 0 1,0 5.1,0a2.5,2.5 0 1,0 -5.1,0M421.7,333.8a2.6,2.6 0 1,0 5.2,0a2.6,2.6 0 1,0 -5.2,0M422.1,331.5a2.8,2.8 0 1,0 5.6,0a2.8,2.8 0 1,0 -5.6,0M422.5,329.7a2.7,2.7 0 1,0 5.3,0a2.7,2.7 0 1,0 -5.3,0M422.8,327.6a2.5,2.5 0 1,0 5.0,0a2.5,2.5 0 1,0 -5.0,0M424.3,325.5a2.6,2.6 0 1,0 5.1,0a2.6,2.6 0 1,0 -5.1,0M425.1,324.1a2.5,2.5 0 1,0 5.1,0a2.5,2.5 0 1,0 -5.1,0M425.4,323.4a2.7,2.7 0 1,0 5.3,0a2.7,2.7 0 1,0 -5.3,0M425.5,321.3a2.5,2.5 0 1,0 5.0,0a2.5,2.5 0 1,0 -5.0,0M427.3,318.8a2.7,2.7 0 1,0 5.5,0a2.7,2.7 0 1,0 -5.5,0M427.8,318.9a2.4,2.4 0 1,0 4.8,0a2.4,2.4 0 1,0 -4.8,0M433.1,350.3a2.7,2.7 0 1,0 5.3,0a2.7,2.7 0 1,0 -5.3,0M433.6,349.6a2.6,2.6 0 1,0 5.2,0a2.6,2.6 0 1,0 -5.2,0M435.2,352.5a2.7,2.7 0 1,0 5.3,0a2.7,2.7 0 1,0 -5.3,0M436.1,353.4a2.7,2.7 0 1,0 5.3,0a2.7,2.7 0 1,0 -5.3,0M438.4,356.4a2.5,2.5 0 1,0 4.9,0a2.5,2.5 0 1,0 -4.9,0M438.3,357.4a2.6,2.6 0 1,0 5.2,0a2.6,2.6 0 1,0 -5.2,0" fill="#D95319"/><path d="M316.2,330.5 L317.5,320.0 L318.2,311.0 L319.0,303.0 L320.0,297.0M327.3,305.2 L325.8,311.2 L325.8,318.8 L329.6,326.4M376.6,301.5 L378.2,314.6 L379.0,322.7 L379.0,329.2 L381.4,337.4M413.6,321.6 L414.5,329.4 L415.3,338.2 L417.9,346.9M431.0,318.1 L431.9,331.2 L432.8,339.9 L435.4,348.6" fill="none" stroke="#D95319" stroke-width="3.6" stroke-linecap="round" stroke-dasharray="0 6.0"/>
<path d="M281.7,331.9 L283.0,322.6 L285.0,314.6 L287.6,311.3 L290.3,311.9 L291.0,317.2 L292.3,326.5 L295.6,333.2 L299.6,337.2 L300.9,327.9 L302.3,317.2 L304.9,310.6 L308.2,307.9 L308.9,314.6 L309.6,325.2 L312.2,333.2 L315.6,339.8M319.5,301.3 L321.3,299.1 L324.3,294.5 L326.6,296.1M328.1,330.9 L331.1,338.5 L334.2,342.3 L336.4,335.5 L337.9,327.9 L341.0,321.8 L343.2,320.3 L344.8,327.9 L346.3,337.0 L348.5,344.5 L351.6,347.6 L353.1,340.0 L354.6,329.4 L356.9,320.3 L359.0,318.5 L361.0,322.0 L361.9,330.9 L363.5,340.6 L366.8,348.8 L369.2,352.0 L370.0,340.6 L370.9,329.2 L373.3,319.4 L376.6,314.6 L379.8,313.7M381.4,342.3 L383.9,350.4 L386.3,355.3 L388.8,347.2 L391.2,339.0 L394.5,334.1 L397.7,333.3 L398.7,345.1 L400.5,355.6 L404.0,360.8 L405.7,350.4 L407.5,336.4 L410.1,327.7 L413.6,325.1M417.9,357.4 L422.3,366.1M424.9,334.7 L427.5,324.2 L431.0,319.8M435.4,357.4 L438.9,366.1 L441.5,370.4" fill="none" stroke="#EDB120" stroke-width="3.0" stroke-linecap="round" stroke-linejoin="round"/><path d="M280.1,332.5a2.2,2.2 0 1,0 4.3,0a2.2,2.2 0 1,0 -4.3,0M280.2,330.5a2.2,2.2 0 1,0 4.4,0a2.2,2.2 0 1,0 -4.4,0M279.1,327.9a2.2,2.2 0 1,0 4.4,0a2.2,2.2 0 1,0 -4.4,0M279.9,326.1a2.1,2.1 0 1,0 4.2,0a2.1,2.1 0 1,0 -4.2,0M281.0,323.7a2.2,2.2 0 1,0 4.4,0a2.2,2.2 0 1,0 -4.4,0M280.2,323.2a2.3,2.3 0 1,0 4.6,0a2.3,2.3 0 1,0 -4.6,0M282.0,319.7a2.0,2.0 0 1,0 4.0,0a2.0,2.0 0 1,0 -4.0,0M281.6,318.5a2.3,2.3 0 1,0 4.6,0a2.3,2.3 0 1,0 -4.6,0M283.6,316.4a2.0,2.0 0 1,0 4.1,0a2.0,2.0 0 1,0 -4.1,0M283.0,314.2a2.2,2.2 0 1,0 4.5,0a2.2,2.2 0 1,0 -4.5,0M283.9,312.9a2.3,2.3 0 1,0 4.5,0a2.3,2.3 0 1,0 -4.5,0M284.2,311.8a2.2,2.2 0 1,0 4.4,0a2.2,2.2 0 1,0 -4.4,0M286.9,311.6a2.0,2.0 0 1,0 4.1,0a2.0,2.0 0 1,0 -4.1,0M289.1,313.3a2.0,2.0 0 1,0 3.9,0a2.0,2.0 0 1,0 -3.9,0M288.7,315.7a2.0,2.0 0 1,0 4.0,0a2.0,2.0 0 1,0 -4.0,0M288.7,317.0a2.0,2.0 0 1,0 4.0,0a2.0,2.0 0 1,0 -4.0,0M288.8,319.6a2.3,2.3 0 1,0 4.5,0a2.3,2.3 0 1,0 -4.5,0M290.4,320.1a2.3,2.3 0 1,0 4.6,0a2.3,2.3 0 1,0 -4.6,0M288.6,323.2a2.1,2.1 0 1,0 4.1,0a2.1,2.1 0 1,0 -4.1,0M291.0,324.1a2.2,2.2 0 1,0 4.4,0a2.2,2.2 0 1,0 -4.4,0M290.1,326.8a2.3,2.3 0 1,0 4.5,0a2.3,2.3 0 1,0 -4.5,0M290.0,327.9a2.3,2.3 0 1,0 4.5,0a2.3,2.3 0 1,0 -4.5,0M292.5,330.7a2.1,2.1 0 1,0 4.2,0a2.1,2.1 0 1,0 -4.2,0M292.9,330.8a2.0,2.0 0 1,0 4.0,0a2.0,2.0 0 1,0 -4.0,0M293.9,333.0a2.2,2.2 0 1,0 4.4,0a2.2,2.2 0 1,0 -4.4,0M295.0,334.1a2.2,2.2 0 1,0 4.4,0a2.2,2.2 0 1,0 -4.4,0M295.8,336.2a2.0,2.0 0 1,0 4.1,0a2.0,2.0 0 1,0 -4.1,0M298.1,337.0a2.1,2.1 0 1,0 4.3,0a2.1,2.1 0 1,0 -4.3,0M297.5,335.3a2.2,2.2 0 1,0 4.4,0a2.2,2.2 0 1,0 -4.4,0M298.0,332.1a2.1,2.1 0 1,0 4.2,0a2.1,2.1 0 1,0 -4.2,0M298.3,332.2a2.2,2.2 0 1,0 4.4,0a2.2,2.2 0 1,0 -4.4,0M298.1,329.2a2.1,2.1 0 1,0 4.3,0a2.1,2.1 0 1,0 -4.3,0M299.7,329.2a2.1,2.1 0 1,0 4.2,0a2.1,2.1 0 1,0 -4.2,0M297.9,326.1a2.0,2.0 0 1,0 4.0,0a2.0,2.0 0 1,0 -4.0,0M299.0,323.7a2.2,2.2 0 1,0 4.5,0a2.2,2.2 0 1,0 -4.5,0M299.9,322.9a2.2,2.2 0 1,0 4.3,0a2.2,2.2 0 1,0 -4.3,0M299.0,320.8a2.2,2.2 0 1,0 4.3,0a2.2,2.2 0 1,0 -4.3,0M300.3,319.7a2.0,2.0 0 1,0 3.9,0a2.0,2.0 0 1,0 -3.9,0M300.2,316.7a2.2,2.2 0 1,0 4.5,0a2.2,2.2 0 1,0 -4.5,0M299.9,315.2a2.2,2.2 0 1,0 4.3,0a2.2,2.2 0 1,0 -4.3,0M302.4,314.8a2.1,2.1 0 1,0 4.1,0a2.1,2.1 0 1,0 -4.1,0M302.9,311.3a2.2,2.2 0 1,0 4.4,0a2.2,2.2 0 1,0 -4.4,0M303.0,309.9a2.2,2.2 0 1,0 4.4,0a2.2,2.2 0 1,0 -4.4,0M305.0,309.1a2.0,2.0 0 1,0 4.0,0a2.0,2.0 0 1,0 -4.0,0M305.5,308.3a2.0,2.0 0 1,0 4.0,0a2.0,2.0 0 1,0 -4.0,0M306.6,311.5a2.1,2.1 0 1,0 4.2,0a2.1,2.1 0 1,0 -4.2,0M306.8,312.7a2.2,2.2 0 1,0 4.3,0a2.2,2.2 0 1,0 -4.3,0M307.1,315.3a2.1,2.1 0 1,0 4.3,0a2.1,2.1 0 1,0 -4.3,0M306.0,316.7a2.2,2.2 0 1,0 4.5,0a2.2,2.2 0 1,0 -4.5,0M308.7,318.3a2.0,2.0 0 1,0 4.0,0a2.0,2.0 0 1,0 -4.0,0M308.3,320.2a2.2,2.2 0 1,0 4.3,0a2.2,2.2 0 1,0 -4.3,0M306.7,321.6a2.2,2.2 0 1,0 4.4,0a2.2,2.2 0 1,0 -4.4,0M307.1,324.5a2.0,2.0 0 1,0 4.1,0a2.0,2.0 0 1,0 -4.1,0M306.6,324.8a2.1,2.1 0 1,0 4.2,0a2.1,2.1 0 1,0 -4.2,0M307.8,327.2a2.2,2.2 0 1,0 4.4,0a2.2,2.2 0 1,0 -4.4,0M308.6,328.8a2.1,2.1 0 1,0 4.3,0a2.1,2.1 0 1,0 -4.3,0M309.3,330.9a2.2,2.2 0 1,0 4.5,0a2.2,2.2 0 1,0 -4.5,0M310.3,333.0a2.0,2.0 0 1,0 4.1,0a2.0,2.0 0 1,0 -4.1,0M311.5,335.1a2.0,2.0 0 1,0 4.0,0a2.0,2.0 0 1,0 -4.0,0M311.3,336.5a2.1,2.1 0 1,0 4.1,0a2.1,2.1 0 1,0 -4.1,0M311.9,338.3a2.2,2.2 0 1,0 4.5,0a2.2,2.2 0 1,0 -4.5,0M313.5,339.5a2.0,2.0 0 1,0 4.1,0a2.0,2.0 0 1,0 -4.1,0M318.1,301.3a2.0,2.0 0 1,0 4.0,0a2.0,2.0 0 1,0 -4.0,0M318.6,297.9a2.3,2.3 0 1,0 4.6,0a2.3,2.3 0 1,0 -4.6,0M320.1,297.8a2.2,2.2 0 1,0 4.4,0a2.2,2.2 0 1,0 -4.4,0M319.8,296.9a2.1,2.1 0 1,0 4.2,0a2.1,2.1 0 1,0 -4.2,0M321.9,294.8a2.3,2.3 0 1,0 4.6,0a2.3,2.3 0 1,0 -4.6,0M323.7,296.0a2.1,2.1 0 1,0 4.2,0a2.1,2.1 0 1,0 -4.2,0M326.1,329.6a2.1,2.1 0 1,0 4.2,0a2.1,2.1 0 1,0 -4.2,0M326.9,333.4a2.3,2.3 0 1,0 4.5,0a2.3,2.3 0 1,0 -4.5,0M326.6,335.3a2.1,2.1 0 1,0 4.3,0a2.1,2.1 0 1,0 -4.3,0M327.4,336.8a2.0,2.0 0 1,0 4.1,0a2.0,2.0 0 1,0 -4.1,0M327.8,338.0a2.0,2.0 0 1,0 4.0,0a2.0,2.0 0 1,0 -4.0,0M329.4,341.5a2.3,2.3 0 1,0 4.6,0a2.3,2.3 0 1,0 -4.6,0M333.0,342.4a2.2,2.2 0 1,0 4.3,0a2.2,2.2 0 1,0 -4.3,0M333.2,339.9a2.0,2.0 0 1,0 4.0,0a2.0,2.0 0 1,0 -4.0,0M332.8,340.0a2.2,2.2 0 1,0 4.4,0a2.2,2.2 0 1,0 -4.4,0M334.0,338.2a2.2,2.2 0 1,0 4.4,0a2.2,2.2 0 1,0 -4.4,0M334.2,335.4a2.1,2.1 0 1,0 4.2,0a2.1,2.1 0 1,0 -4.2,0M334.3,334.4a2.1,2.1 0 1,0 4.1,0a2.1,2.1 0 1,0 -4.1,0M335.8,332.5a2.1,2.1 0 1,0 4.1,0a2.1,2.1 0 1,0 -4.1,0M335.5,329.2a2.1,2.1 0 1,0 4.3,0a2.1,2.1 0 1,0 -4.3,0M335.8,327.6a2.2,2.2 0 1,0 4.4,0a2.2,2.2 0 1,0 -4.4,0M338.2,327.1a2.0,2.0 0 1,0 3.9,0a2.0,2.0 0 1,0 -3.9,0M337.3,324.2a2.0,2.0 0 1,0 4.0,0a2.0,2.0 0 1,0 -4.0,0M337.5,323.8a2.1,2.1 0 1,0 4.2,0a2.1,2.1 0 1,0 -4.2,0M339.6,322.4a2.1,2.1 0 1,0 4.1,0a2.1,2.1 0 1,0 -4.1,0M341.8,320.2a2.1,2.1 0 1,0 4.2,0a2.1,2.1 0 1,0 -4.2,0M341.8,324.0a2.1,2.1 0 1,0 4.1,0a2.1,2.1 0 1,0 -4.1,0M341.1,323.0a2.1,2.1 0 1,0 4.2,0a2.1,2.1 0 1,0 -4.2,0M342.4,325.4a2.0,2.0 0 1,0 4.0,0a2.0,2.0 0 1,0 -4.0,0M343.3,328.1a2.3,2.3 0 1,0 4.5,0a2.3,2.3 0 1,0 -4.5,0M343.1,330.4a2.2,2.2 0 1,0 4.4,0a2.2,2.2 0 1,0 -4.4,0M343.2,331.9a2.1,2.1 0 1,0 4.3,0a2.1,2.1 0 1,0 -4.3,0M342.0,334.1a2.3,2.3 0 1,0 4.5,0a2.3,2.3 0 1,0 -4.5,0M344.0,336.1a2.1,2.1 0 1,0 4.2,0a2.1,2.1 0 1,0 -4.2,0M344.8,337.2a2.3,2.3 0 1,0 4.5,0a2.3,2.3 0 1,0 -4.5,0M344.3,339.8a2.2,2.2 0 1,0 4.4,0a2.2,2.2 0 1,0 -4.4,0M346.9,341.4a2.0,2.0 0 1,0 4.0,0a2.0,2.0 0 1,0 -4.0,0M345.6,343.7a2.0,2.0 0 1,0 3.9,0a2.0,2.0 0 1,0 -3.9,0M346.1,344.8a2.1,2.1 0 1,0 4.2,0a2.1,2.1 0 1,0 -4.2,0M348.4,346.1a2.0,2.0 0 1,0 4.1,0a2.0,2.0 0 1,0 -4.1,0M349.8,347.7a2.0,2.0 0 1,0 4.0,0a2.0,2.0 0 1,0 -4.0,0M349.4,345.7a2.2,2.2 0 1,0 4.5,0a2.2,2.2 0 1,0 -4.5,0M349.8,344.1a2.0,2.0 0 1,0 4.1,0a2.0,2.0 0 1,0 -4.1,0M350.6,341.7a2.2,2.2 0 1,0 4.4,0a2.2,2.2 0 1,0 -4.4,0M352.4,341.0a2.1,2.1 0 1,0 4.2,0a2.1,2.1 0 1,0 -4.2,0M350.2,337.4a2.0,2.0 0 1,0 4.0,0a2.0,2.0 0 1,0 -4.0,0M352.4,336.9a2.2,2.2 0 1,0 4.3,0a2.2,2.2 0 1,0 -4.3,0M351.6,334.1a2.1,2.1 0 1,0 4.3,0a2.1,2.1 0 1,0 -4.3,0M352.3,333.6a2.1,2.1 0 1,0 4.1,0a2.1,2.1 0 1,0 -4.1,0M351.8,330.9a2.0,2.0 0 1,0 4.1,0a2.0,2.0 0 1,0 -4.1,0M352.2,329.2a2.2,2.2 0 1,0 4.5,0a2.2,2.2 0 1,0 -4.5,0M352.6,327.6a2.0,2.0 0 1,0 4.0,0a2.0,2.0 0 1,0 -4.0,0M352.5,325.7a2.2,2.2 0 1,0 4.4,0a2.2,2.2 0 1,0 -4.4,0M353.2,324.5a2.3,2.3 0 1,0 4.5,0a2.3,2.3 0 1,0 -4.5,0M353.9,324.1a2.3,2.3 0 1,0 4.5,0a2.3,2.3 0 1,0 -4.5,0M356.5,320.2a2.0,2.0 0 1,0 4.1,0a2.0,2.0 0 1,0 -4.1,0M357.4,317.6a2.0,2.0 0 1,0 4.1,0a2.0,2.0 0 1,0 -4.1,0M358.8,320.2a2.2,2.2 0 1,0 4.5,0a2.2,2.2 0 1,0 -4.5,0M358.5,321.9a2.3,2.3 0 1,0 4.5,0a2.3,2.3 0 1,0 -4.5,0M359.3,324.3a2.2,2.2 0 1,0 4.3,0a2.2,2.2 0 1,0 -4.3,0M359.4,326.3a2.2,2.2 0 1,0 4.4,0a2.2,2.2 0 1,0 -4.4,0M360.4,327.9a2.0,2.0 0 1,0 4.0,0a2.0,2.0 0 1,0 -4.0,0M358.5,329.3a2.2,2.2 0 1,0 4.4,0a2.2,2.2 0 1,0 -4.4,0M360.1,331.0a2.3,2.3 0 1,0 4.6,0a2.3,2.3 0 1,0 -4.6,0M359.6,333.3a2.1,2.1 0 1,0 4.2,0a2.1,2.1 0 1,0 -4.2,0M360.0,333.7a2.2,2.2 0 1,0 4.4,0a2.2,2.2 0 1,0 -4.4,0M360.0,337.2a2.1,2.1 0 1,0 4.3,0a2.1,2.1 0 1,0 -4.3,0M361.5,340.2a2.3,2.3 0 1,0 4.6,0a2.3,2.3 0 1,0 -4.6,0M361.8,338.4a2.1,2.1 0 1,0 4.2,0a2.1,2.1 0 1,0 -4.2,0M362.2,341.8a2.2,2.2 0 1,0 4.4,0a2.2,2.2 0 1,0 -4.4,0M362.2,342.3a2.2,2.2 0 1,0 4.5,0a2.2,2.2 0 1,0 -4.5,0M363.7,345.1a2.2,2.2 0 1,0 4.5,0a2.2,2.2 0 1,0 -4.5,0M363.5,347.3a2.1,2.1 0 1,0 4.2,0a2.1,2.1 0 1,0 -4.2,0M365.0,347.5a2.2,2.2 0 1,0 4.5,0a2.2,2.2 0 1,0 -4.5,0M365.8,350.0a2.0,2.0 0 1,0 4.0,0a2.0,2.0 0 1,0 -4.0,0M366.7,351.8a2.1,2.1 0 1,0 4.1,0a2.1,2.1 0 1,0 -4.1,0M367.5,350.3a2.2,2.2 0 1,0 4.4,0a2.2,2.2 0 1,0 -4.4,0M367.6,349.5a2.1,2.1 0 1,0 4.1,0a2.1,2.1 0 1,0 -4.1,0M367.9,345.8a2.0,2.0 0 1,0 4.1,0a2.0,2.0 0 1,0 -4.1,0M367.5,344.5a2.1,2.1 0 1,0 4.2,0a2.1,2.1 0 1,0 -4.2,0M367.5,342.6a2.3,2.3 0 1,0 4.5,0a2.3,2.3 0 1,0 -4.5,0M367.7,340.6a2.3,2.3 0 1,0 4.6,0a2.3,2.3 0 1,0 -4.6,0M368.3,339.2a2.0,2.0 0 1,0 3.9,0a2.0,2.0 0 1,0 -3.9,0M369.0,337.4a2.2,2.2 0 1,0 4.3,0a2.2,2.2 0 1,0 -4.3,0M367.9,334.9a2.1,2.1 0 1,0 4.1,0a2.1,2.1 0 1,0 -4.1,0M369.0,332.9a2.3,2.3 0 1,0 4.6,0a2.3,2.3 0 1,0 -4.6,0M368.8,330.9a2.2,2.2 0 1,0 4.5,0a2.2,2.2 0 1,0 -4.5,0M369.8,329.3a2.2,2.2 0 1,0 4.5,0a2.2,2.2 0 1,0 -4.5,0M368.8,326.4a2.2,2.2 0 1,0 4.5,0a2.2,2.2 0 1,0 -4.5,0M370.3,326.0a2.0,2.0 0 1,0 4.1,0a2.0,2.0 0 1,0 -4.1,0M369.8,323.6a2.2,2.2 0 1,0 4.4,0a2.2,2.2 0 1,0 -4.4,0M369.6,320.8a2.2,2.2 0 1,0 4.3,0a2.2,2.2 0 1,0 -4.3,0M369.8,318.5a2.2,2.2 0 1,0 4.5,0a2.2,2.2 0 1,0 -4.5,0M371.6,317.5a2.3,2.3 0 1,0 4.6,0a2.3,2.3 0 1,0 -4.6,0M373.2,316.4a2.1,2.1 0 1,0 4.1,0a2.1,2.1 0 1,0 -4.1,0M374.0,313.0a2.2,2.2 0 1,0 4.4,0a2.2,2.2 0 1,0 -4.4,0M376.7,312.3a2.2,2.2 0 1,0 4.4,0a2.2,2.2 0 1,0 -4.4,0M378.4,342.6a2.2,2.2 0 1,0 4.4,0a2.2,2.2 0 1,0 -4.4,0M379.7,344.6a2.2,2.2 0 1,0 4.3,0a2.2,2.2 0 1,0 -4.3,0M380.7,345.9a2.2,2.2 0 1,0 4.4,0a2.2,2.2 0 1,0 -4.4,0M381.6,348.1a2.0,2.0 0 1,0 4.0,0a2.0,2.0 0 1,0 -4.0,0M381.0,350.4a2.3,2.3 0 1,0 4.6,0a2.3,2.3 0 1,0 -4.6,0M383.2,352.0a2.2,2.2 0 1,0 4.5,0a2.2,2.2 0 1,0 -4.5,0M382.9,353.3a2.3,2.3 0 1,0 4.6,0a2.3,2.3 0 1,0 -4.6,0M384.3,355.5a2.1,2.1 0 1,0 4.2,0a2.1,2.1 0 1,0 -4.2,0M385.6,353.4a2.1,2.1 0 1,0 4.2,0a2.1,2.1 0 1,0 -4.2,0M386.0,351.0a2.2,2.2 0 1,0 4.5,0a2.2,2.2 0 1,0 -4.5,0M386.3,348.3a2.0,2.0 0 1,0 4.1,0a2.0,2.0 0 1,0 -4.1,0M386.4,348.0a2.1,2.1 0 1,0 4.2,0a2.1,2.1 0 1,0 -4.2,0M386.7,344.9a2.1,2.1 0 1,0 4.1,0a2.1,2.1 0 1,0 -4.1,0M385.9,342.5a2.0,2.0 0 1,0 4.0,0a2.0,2.0 0 1,0 -4.0,0M388.2,342.4a2.0,2.0 0 1,0 4.0,0a2.0,2.0 0 1,0 -4.0,0M389.2,340.9a2.2,2.2 0 1,0 4.5,0a2.2,2.2 0 1,0 -4.5,0M388.4,337.3a2.2,2.2 0 1,0 4.5,0a2.2,2.2 0 1,0 -4.5,0M389.5,336.9a2.0,2.0 0 1,0 3.9,0a2.0,2.0 0 1,0 -3.9,0M390.8,336.1a2.2,2.2 0 1,0 4.3,0a2.2,2.2 0 1,0 -4.3,0M393.2,334.4a2.1,2.1 0 1,0 4.2,0a2.1,2.1 0 1,0 -4.2,0M395.0,333.3a2.0,2.0 0 1,0 4.0,0a2.0,2.0 0 1,0 -4.0,0M395.6,334.0a2.2,2.2 0 1,0 4.3,0a2.2,2.2 0 1,0 -4.3,0M396.5,337.9a2.3,2.3 0 1,0 4.5,0a2.3,2.3 0 1,0 -4.5,0M397.4,339.1a2.0,2.0 0 1,0 3.9,0a2.0,2.0 0 1,0 -3.9,0M397.1,340.5a2.1,2.1 0 1,0 4.1,0a2.1,2.1 0 1,0 -4.1,0M397.4,342.5a2.3,2.3 0 1,0 4.5,0a2.3,2.3 0 1,0 -4.5,0M396.6,346.0a2.1,2.1 0 1,0 4.2,0a2.1,2.1 0 1,0 -4.2,0M396.5,348.0a2.2,2.2 0 1,0 4.3,0a2.2,2.2 0 1,0 -4.3,0M396.6,349.4a2.3,2.3 0 1,0 4.6,0a2.3,2.3 0 1,0 -4.6,0M396.0,349.7a2.2,2.2 0 1,0 4.3,0a2.2,2.2 0 1,0 -4.3,0M398.0,352.1a2.1,2.1 0 1,0 4.2,0a2.1,2.1 0 1,0 -4.2,0M396.8,353.5a2.3,2.3 0 1,0 4.6,0a2.3,2.3 0 1,0 -4.6,0M397.8,355.0a2.2,2.2 0 1,0 4.3,0a2.2,2.2 0 1,0 -4.3,0M398.3,357.1a2.3,2.3 0 1,0 4.6,0a2.3,2.3 0 1,0 -4.6,0M401.2,359.1a2.3,2.3 0 1,0 4.5,0a2.3,2.3 0 1,0 -4.5,0M403.2,361.3a2.0,2.0 0 1,0 3.9,0a2.0,2.0 0 1,0 -3.9,0M401.5,358.1a2.0,2.0 0 1,0 4.1,0a2.0,2.0 0 1,0 -4.1,0M402.0,357.7a2.2,2.2 0 1,0 4.4,0a2.2,2.2 0 1,0 -4.4,0M401.8,355.4a2.1,2.1 0 1,0 4.1,0a2.1,2.1 0 1,0 -4.1,0M401.4,353.0a2.2,2.2 0 1,0 4.4,0a2.2,2.2 0 1,0 -4.4,0M403.8,352.0a2.1,2.1 0 1,0 4.3,0a2.1,2.1 0 1,0 -4.3,0M403.0,350.8a2.2,2.2 0 1,0 4.5,0a2.2,2.2 0 1,0 -4.5,0M404.1,349.4a2.2,2.2 0 1,0 4.4,0a2.2,2.2 0 1,0 -4.4,0M404.2,346.8a2.0,2.0 0 1,0 4.1,0a2.0,2.0 0 1,0 -4.1,0M402.7,345.2a2.0,2.0 0 1,0 4.0,0a2.0,2.0 0 1,0 -4.0,0M404.8,342.8a2.1,2.1 0 1,0 4.3,0a2.1,2.1 0 1,0 -4.3,0M405.0,341.5a2.1,2.1 0 1,0 4.1,0a2.1,2.1 0 1,0 -4.1,0M405.2,340.2a2.1,2.1 0 1,0 4.1,0a2.1,2.1 0 1,0 -4.1,0M405.0,337.3a2.0,2.0 0 1,0 4.0,0a2.0,2.0 0 1,0 -4.0,0M405.8,335.6a2.0,2.0 0 1,0 4.0,0a2.0,2.0 0 1,0 -4.0,0M406.5,333.5a2.0,2.0 0 1,0 4.1,0a2.0,2.0 0 1,0 -4.1,0M407.7,332.4a2.0,2.0 0 1,0 4.1,0a2.0,2.0 0 1,0 -4.1,0M408.2,331.2a2.2,2.2 0 1,0 4.5,0a2.2,2.2 0 1,0 -4.5,0M408.3,330.1a2.2,2.2 0 1,0 4.4,0a2.2,2.2 0 1,0 -4.4,0M406.9,326.7a2.3,2.3 0 1,0 4.6,0a2.3,2.3 0 1,0 -4.6,0M409.0,327.6a2.3,2.3 0 1,0 4.5,0a2.3,2.3 0 1,0 -4.5,0M411.0,326.1a2.2,2.2 0 1,0 4.4,0a2.2,2.2 0 1,0 -4.4,0M416.4,356.7a2.1,2.1 0 1,0 4.1,0a2.1,2.1 0 1,0 -4.1,0M416.8,360.0a2.0,2.0 0 1,0 4.0,0a2.0,2.0 0 1,0 -4.0,0M418.6,359.7a2.0,2.0 0 1,0 4.1,0a2.0,2.0 0 1,0 -4.1,0M418.2,361.6a2.0,2.0 0 1,0 4.0,0a2.0,2.0 0 1,0 -4.0,0M419.6,363.2a2.1,2.1 0 1,0 4.1,0a2.1,2.1 0 1,0 -4.1,0M420.5,366.4a2.2,2.2 0 1,0 4.4,0a2.2,2.2 0 1,0 -4.4,0M421.6,335.0a2.0,2.0 0 1,0 4.0,0a2.0,2.0 0 1,0 -4.0,0M423.6,333.4a2.3,2.3 0 1,0 4.5,0a2.3,2.3 0 1,0 -4.5,0M423.7,331.4a2.2,2.2 0 1,0 4.4,0a2.2,2.2 0 1,0 -4.4,0M425.1,330.0a2.0,2.0 0 1,0 4.0,0a2.0,2.0 0 1,0 -4.0,0M424.4,328.7a2.3,2.3 0 1,0 4.5,0a2.3,2.3 0 1,0 -4.5,0M424.5,326.4a2.0,2.0 0 1,0 3.9,0a2.0,2.0 0 1,0 -3.9,0M425.0,324.6a2.2,2.2 0 1,0 4.5,0a2.2,2.2 0 1,0 -4.5,0M426.3,321.5a2.1,2.1 0 1,0 4.3,0a2.1,2.1 0 1,0 -4.3,0M427.6,320.9a2.1,2.1 0 1,0 4.2,0a2.1,2.1 0 1,0 -4.2,0M428.6,320.3a2.2,2.2 0 1,0 4.4,0a2.2,2.2 0 1,0 -4.4,0M433.5,358.0a2.1,2.1 0 1,0 4.1,0a2.1,2.1 0 1,0 -4.1,0M434.6,358.4a2.1,2.1 0 1,0 4.2,0a2.1,2.1 0 1,0 -4.2,0M433.4,362.0a2.3,2.3 0 1,0 4.6,0a2.3,2.3 0 1,0 -4.6,0M434.4,362.9a2.3,2.3 0 1,0 4.5,0a2.3,2.3 0 1,0 -4.5,0M436.2,364.9a2.0,2.0 0 1,0 4.0,0a2.0,2.0 0 1,0 -4.0,0M435.7,366.1a2.0,2.0 0 1,0 4.0,0a2.0,2.0 0 1,0 -4.0,0M436.1,369.1a2.1,2.1 0 1,0 4.2,0a2.1,2.1 0 1,0 -4.2,0M438.2,371.3a2.3,2.3 0 1,0 4.5,0a2.3,2.3 0 1,0 -4.5,0" fill="#EDB120"/><path d="M315.6,339.8 L316.9,331.9 L317.5,323.9 L318.2,315.9 L318.9,309.3 L319.5,301.3M326.6,296.1 L326.6,302.1 L326.6,309.7 L326.6,317.3 L327.3,323.3 L328.1,330.9M379.8,313.7 L379.8,322.7 L379.8,329.2 L380.6,334.1 L381.4,342.3M413.6,325.1 L414.5,332.9 L414.5,341.6 L415.3,350.4 L417.9,357.4M422.3,366.1 L423.2,355.6 L423.2,346.9 L424.9,334.7M431.0,319.8 L432.8,329.4 L432.8,338.2 L433.6,346.9 L435.4,357.4" fill="none" stroke="#EDB120" stroke-width="3.6" stroke-linecap="round" stroke-dasharray="0 6.0"/>
<rect x="57.8" y="19.2" width="161.5" height="161.55" fill="none" stroke="#5a5a5a" stroke-width="1"/><path d="M57.8,180.75v-1.7M57.8,19.2v1.7M94.5,180.75v-1.7M94.5,19.2v1.7M131.2,180.75v-1.7M131.2,19.2v1.7M167.9,180.75v-1.7M167.9,19.2v1.7M204.6,180.75v-1.7M204.6,19.2v1.7M57.8,180.8h1.7M219.3,180.8h-1.7M57.8,148.4h1.7M219.3,148.4h-1.7M57.8,116.1h1.7M219.3,116.1h-1.7M57.8,83.8h1.7M219.3,83.8h-1.7M57.8,51.5h1.7M219.3,51.5h-1.7M57.8,19.2h1.7M219.3,19.2h-1.7" stroke="#5a5a5a" stroke-width="1" fill="none"/>
<rect x="281.8" y="19.3" width="161.5" height="161.5" fill="none" stroke="#5a5a5a" stroke-width="1"/><path d="M281.8,180.8v-1.7M281.8,19.3v1.7M318.5,180.8v-1.7M318.5,19.3v1.7M355.2,180.8v-1.7M355.2,19.3v1.7M391.9,180.8v-1.7M391.9,19.3v1.7M428.6,180.8v-1.7M428.6,19.3v1.7M281.8,180.8h1.7M443.3,180.8h-1.7M281.8,157.7h1.7M443.3,157.7h-1.7M281.8,134.7h1.7M443.3,134.7h-1.7M281.8,111.6h1.7M443.3,111.6h-1.7M281.8,88.5h1.7M443.3,88.5h-1.7M281.8,65.4h1.7M443.3,65.4h-1.7M281.8,42.4h1.7M443.3,42.4h-1.7M281.8,19.3h1.7M443.3,19.3h-1.7" stroke="#5a5a5a" stroke-width="1" fill="none"/>
<rect x="57.5" y="230.7" width="162.4" height="162.5" fill="none" stroke="#5a5a5a" stroke-width="1"/><path d="M57.5,393.2v-1.7M57.5,230.7v1.7M94.4,393.2v-1.7M94.4,230.7v1.7M131.3,393.2v-1.7M131.3,230.7v1.7M168.2,393.2v-1.7M168.2,230.7v1.7M205.1,393.2v-1.7M205.1,230.7v1.7M57.5,393.2h1.7M219.9,393.2h-1.7M57.5,352.6h1.7M219.9,352.6h-1.7M57.5,311.9h1.7M219.9,311.9h-1.7M57.5,271.3h1.7M219.9,271.3h-1.7M57.5,230.7h1.7M219.9,230.7h-1.7" stroke="#5a5a5a" stroke-width="1" fill="none"/>
<rect x="281.9" y="231.0" width="161.40000000000003" height="161.5" fill="none" stroke="#5a5a5a" stroke-width="1"/><path d="M281.9,392.5v-1.7M281.9,231.0v1.7M318.6,392.5v-1.7M318.6,231.0v1.7M355.3,392.5v-1.7M355.3,231.0v1.7M391.9,392.5v-1.7M391.9,231.0v1.7M428.6,392.5v-1.7M428.6,231.0v1.7M281.9,392.5h1.7M443.3,392.5h-1.7M281.9,360.2h1.7M443.3,360.2h-1.7M281.9,327.9h1.7M443.3,327.9h-1.7M281.9,295.6h1.7M443.3,295.6h-1.7M281.9,263.3h1.7M443.3,263.3h-1.7M281.9,231.0h1.7M443.3,231.0h-1.7" stroke="#5a5a5a" stroke-width="1" fill="none"/>
<text x="37.50" y="19.70" text-anchor="middle" font-size="16.5">0.10</text>
<text x="37.50" y="52.40" text-anchor="middle" font-size="16.5">0.08</text>
<text x="37.50" y="84.10" text-anchor="middle" font-size="16.5">0.06</text>
<text x="37.00" y="116.80" text-anchor="middle" font-size="16.5">0.04</text>
<text x="37.50" y="149.90" text-anchor="middle" font-size="16.5">0.02</text>
<text x="50.45" y="181.55" text-anchor="middle" font-size="16.5">0</text>
<text x="59.10" y="195.70" text-anchor="middle" font-size="16.5">0</text>
<text x="130.10" y="195.55" text-anchor="middle" font-size="16.5">1000</text>
<text x="204.10" y="195.05" text-anchor="middle" font-size="16.5">2000</text>
<text x="263.40" y="21.10" text-anchor="middle" font-size="16.5">0.04</text>
<text x="263.70" y="67.80" text-anchor="middle" font-size="16.5">0.02</text>
<text x="276.30" y="117.00" text-anchor="middle" font-size="16.5">0</text>
<text x="259.80" y="160.20" text-anchor="middle" font-size="16.5">-0.02</text>
<text x="283.20" y="195.70" text-anchor="middle" font-size="16.5">0</text>
<text x="354.70" y="195.60" text-anchor="middle" font-size="16.5">1000</text>
<text x="428.60" y="195.40" text-anchor="middle" font-size="16.5">2000</text>
<text x="50.80" y="237.00" text-anchor="middle" font-size="16.5">0</text>
<text x="35.95" y="277.00" text-anchor="middle" font-size="16.5">-0.05</text>
<text x="35.95" y="316.10" text-anchor="middle" font-size="16.5">-0.10</text>
<text x="35.95" y="355.10" text-anchor="middle" font-size="16.5">-0.15</text>
<text x="35.95" y="395.00" text-anchor="middle" font-size="16.5">-0.20</text>
<text x="58.75" y="407.70" text-anchor="middle" font-size="16.5">0</text>
<text x="130.05" y="407.05" text-anchor="middle" font-size="16.5">1000</text>
<text x="203.40" y="407.70" text-anchor="middle" font-size="16.5">2000</text>
<text x="263.10" y="233.30" text-anchor="middle" font-size="16.5">0.15</text>
<text x="263.10" y="265.90" text-anchor="middle" font-size="16.5">0.10</text>
<text x="263.10" y="298.50" text-anchor="middle" font-size="16.5">0.05</text>
<text x="276.00" y="330.10" text-anchor="middle" font-size="16.5">0</text>
<text x="260.00" y="362.60" text-anchor="middle" font-size="16.5">-0.05</text>
<text x="260.00" y="395.05" text-anchor="middle" font-size="16.5">-0.10</text>
<text x="284.30" y="407.70" text-anchor="middle" font-size="16.5">0</text>
<text x="354.50" y="407.05" text-anchor="middle" font-size="16.5">1000</text>
<text x="429.00" y="407.75" text-anchor="middle" font-size="16.5">2000</text>
<text x="138.40" y="214.70" text-anchor="middle" font-size="16.5"><tspan font-style="italic">t</tspan> [s]</text>
<text x="363.70" y="214.80" text-anchor="middle" font-size="16.5"><tspan font-style="italic">t</tspan> [s]</text>
<text x="137.85" y="427.00" text-anchor="middle" font-size="16.5"><tspan font-style="italic">t</tspan> [s]</text>
<text x="363.70" y="427.05" text-anchor="middle" font-size="16.5"><tspan font-style="italic">t</tspan> [s]</text>
<text x="205.70" y="13.05" text-anchor="middle" font-style="italic" font-size="17">(a)</text>
<text x="428.30" y="13.55" text-anchor="middle" font-style="italic" font-size="17">(b)</text>
<text x="205.10" y="223.10" text-anchor="middle" font-style="italic" font-size="17">(c)</text>
<text x="428.50" y="223.60" text-anchor="middle" font-style="italic" font-size="17">(d)</text>
<text transform="translate(10.90,97.80) rotate(-90)" text-anchor="middle" font-style="italic" font-size="15">Predicted CO<tspan font-size="10" dy="4.5">2</tspan><tspan dy="-4.5"> concentration</tspan></text>
<text transform="translate(236.60,97.80) rotate(-90)" text-anchor="middle" font-style="italic" font-size="15">Predicted CO<tspan font-size="10" dy="4.5">2</tspan><tspan dy="-4.5"> concentration</tspan></text>
<text transform="translate(10.90,310.10) rotate(-90)" text-anchor="middle" font-style="italic" font-size="15">Predicted CO<tspan font-size="10" dy="4.5">2</tspan><tspan dy="-4.5"> concentration</tspan></text>
<text transform="translate(236.60,310.10) rotate(-90)" text-anchor="middle" font-style="italic" font-size="15">Predicted CO<tspan font-size="10" dy="4.5">2</tspan><tspan dy="-4.5"> concentration</tspan></text>
</svg></body></html>
